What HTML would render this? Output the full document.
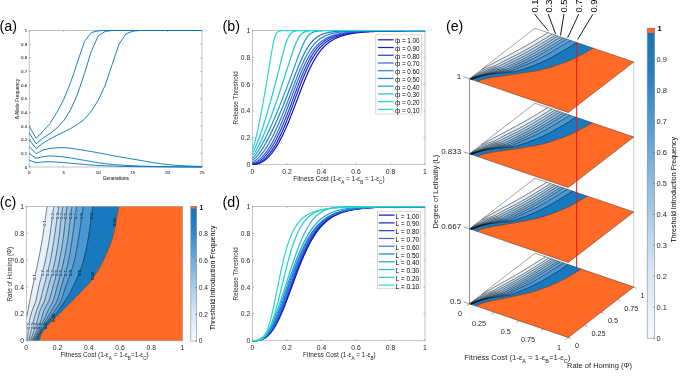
<!DOCTYPE html><html><head><meta charset="utf-8"><style>html,body{margin:0;padding:0;background:#fff;}svg{display:block;font-family:"Liberation Sans", sans-serif;will-change:transform;}</style></head><body>
<svg width="685" height="380" viewBox="0 0 685 380">
<rect width="685" height="380" fill="#fff"/>
<text x="-0.5" y="30.8" font-size="14.3" text-anchor="start" fill="#000">(a)</text>
<line x1="29.2" y1="167" x2="30.9" y2="167" stroke="#8c8c8c" stroke-width="0.6"/>
<line x1="202" y1="167" x2="200.3" y2="167" stroke="#8c8c8c" stroke-width="0.6"/>
<text x="27.2" y="168.5" font-size="4.4" text-anchor="end" fill="#262626" stroke="#444" stroke-width="0.08">0</text>
<line x1="29.2" y1="153.35" x2="30.9" y2="153.35" stroke="#8c8c8c" stroke-width="0.6"/>
<line x1="202" y1="153.35" x2="200.3" y2="153.35" stroke="#8c8c8c" stroke-width="0.6"/>
<text x="27.2" y="154.85" font-size="4.4" text-anchor="end" fill="#262626" stroke="#444" stroke-width="0.08">0.1</text>
<line x1="29.2" y1="139.7" x2="30.9" y2="139.7" stroke="#8c8c8c" stroke-width="0.6"/>
<line x1="202" y1="139.7" x2="200.3" y2="139.7" stroke="#8c8c8c" stroke-width="0.6"/>
<text x="27.2" y="141.2" font-size="4.4" text-anchor="end" fill="#262626" stroke="#444" stroke-width="0.08">0.2</text>
<line x1="29.2" y1="126.05" x2="30.9" y2="126.05" stroke="#8c8c8c" stroke-width="0.6"/>
<line x1="202" y1="126.05" x2="200.3" y2="126.05" stroke="#8c8c8c" stroke-width="0.6"/>
<text x="27.2" y="127.55" font-size="4.4" text-anchor="end" fill="#262626" stroke="#444" stroke-width="0.08">0.3</text>
<line x1="29.2" y1="112.4" x2="30.9" y2="112.4" stroke="#8c8c8c" stroke-width="0.6"/>
<line x1="202" y1="112.4" x2="200.3" y2="112.4" stroke="#8c8c8c" stroke-width="0.6"/>
<text x="27.2" y="113.9" font-size="4.4" text-anchor="end" fill="#262626" stroke="#444" stroke-width="0.08">0.4</text>
<line x1="29.2" y1="98.75" x2="30.9" y2="98.75" stroke="#8c8c8c" stroke-width="0.6"/>
<line x1="202" y1="98.75" x2="200.3" y2="98.75" stroke="#8c8c8c" stroke-width="0.6"/>
<text x="27.2" y="100.25" font-size="4.4" text-anchor="end" fill="#262626" stroke="#444" stroke-width="0.08">0.5</text>
<line x1="29.2" y1="85.1" x2="30.9" y2="85.1" stroke="#8c8c8c" stroke-width="0.6"/>
<line x1="202" y1="85.1" x2="200.3" y2="85.1" stroke="#8c8c8c" stroke-width="0.6"/>
<text x="27.2" y="86.6" font-size="4.4" text-anchor="end" fill="#262626" stroke="#444" stroke-width="0.08">0.6</text>
<line x1="29.2" y1="71.45" x2="30.9" y2="71.45" stroke="#8c8c8c" stroke-width="0.6"/>
<line x1="202" y1="71.45" x2="200.3" y2="71.45" stroke="#8c8c8c" stroke-width="0.6"/>
<text x="27.2" y="72.95" font-size="4.4" text-anchor="end" fill="#262626" stroke="#444" stroke-width="0.08">0.7</text>
<line x1="29.2" y1="57.8" x2="30.9" y2="57.8" stroke="#8c8c8c" stroke-width="0.6"/>
<line x1="202" y1="57.8" x2="200.3" y2="57.8" stroke="#8c8c8c" stroke-width="0.6"/>
<text x="27.2" y="59.3" font-size="4.4" text-anchor="end" fill="#262626" stroke="#444" stroke-width="0.08">0.8</text>
<line x1="29.2" y1="44.15" x2="30.9" y2="44.15" stroke="#8c8c8c" stroke-width="0.6"/>
<line x1="202" y1="44.15" x2="200.3" y2="44.15" stroke="#8c8c8c" stroke-width="0.6"/>
<text x="27.2" y="45.65" font-size="4.4" text-anchor="end" fill="#262626" stroke="#444" stroke-width="0.08">0.9</text>
<line x1="29.2" y1="30.5" x2="30.9" y2="30.5" stroke="#8c8c8c" stroke-width="0.6"/>
<line x1="202" y1="30.5" x2="200.3" y2="30.5" stroke="#8c8c8c" stroke-width="0.6"/>
<text x="27.2" y="32" font-size="4.4" text-anchor="end" fill="#262626" stroke="#444" stroke-width="0.08">1</text>
<line x1="29.2" y1="167" x2="29.2" y2="165.3" stroke="#8c8c8c" stroke-width="0.6"/>
<line x1="29.2" y1="30.5" x2="29.2" y2="32.2" stroke="#8c8c8c" stroke-width="0.6"/>
<text x="29.2" y="173.9" font-size="4.4" text-anchor="middle" fill="#262626" stroke="#444" stroke-width="0.08">0</text>
<line x1="63.76" y1="167" x2="63.76" y2="165.3" stroke="#8c8c8c" stroke-width="0.6"/>
<line x1="63.76" y1="30.5" x2="63.76" y2="32.2" stroke="#8c8c8c" stroke-width="0.6"/>
<text x="63.76" y="173.9" font-size="4.4" text-anchor="middle" fill="#262626" stroke="#444" stroke-width="0.08">5</text>
<line x1="98.32" y1="167" x2="98.32" y2="165.3" stroke="#8c8c8c" stroke-width="0.6"/>
<line x1="98.32" y1="30.5" x2="98.32" y2="32.2" stroke="#8c8c8c" stroke-width="0.6"/>
<text x="98.32" y="173.9" font-size="4.4" text-anchor="middle" fill="#262626" stroke="#444" stroke-width="0.08">10</text>
<line x1="132.88" y1="167" x2="132.88" y2="165.3" stroke="#8c8c8c" stroke-width="0.6"/>
<line x1="132.88" y1="30.5" x2="132.88" y2="32.2" stroke="#8c8c8c" stroke-width="0.6"/>
<text x="132.88" y="173.9" font-size="4.4" text-anchor="middle" fill="#262626" stroke="#444" stroke-width="0.08">15</text>
<line x1="167.44" y1="167" x2="167.44" y2="165.3" stroke="#8c8c8c" stroke-width="0.6"/>
<line x1="167.44" y1="30.5" x2="167.44" y2="32.2" stroke="#8c8c8c" stroke-width="0.6"/>
<text x="167.44" y="173.9" font-size="4.4" text-anchor="middle" fill="#262626" stroke="#444" stroke-width="0.08">20</text>
<line x1="202" y1="167" x2="202" y2="165.3" stroke="#8c8c8c" stroke-width="0.6"/>
<line x1="202" y1="30.5" x2="202" y2="32.2" stroke="#8c8c8c" stroke-width="0.6"/>
<text x="202" y="173.9" font-size="4.4" text-anchor="middle" fill="#262626" stroke="#444" stroke-width="0.08">25</text>
<rect x="29.2" y="30.5" width="172.8" height="136.5" fill="none" stroke="#9a9a9a" stroke-width="0.6"/>
<polyline points="29.2,126.05 36.11,138.34 43.02,131.24 49.94,123.59 56.85,112.4 63.76,99.43 70.67,82.37 77.58,61.89 84.5,41.42 91.41,32.55 98.32,30.77 105.23,30.5 112.14,30.5 202,30.5" fill="none" stroke="#0072BD" stroke-width="0.9" stroke-linejoin="round"/>
<polyline points="29.2,132.88 36.11,143.79 43.02,138.06 49.94,133.56 56.85,128.1 63.76,120.59 70.67,109.67 77.58,93.97 84.5,73.5 91.41,50.98 98.32,35.69 105.23,31.46 112.14,30.5 119.06,30.5 202,30.5" fill="none" stroke="#0072BD" stroke-width="0.9" stroke-linejoin="round"/>
<polyline points="29.2,139.7 36.11,148.57 43.02,143.11 49.94,139.02 56.85,135.33 63.76,132.06 70.67,128.51 77.58,124.41 84.5,119.22 91.41,111.03 98.32,100.11 105.23,85.1 112.14,64.62 119.06,44.15 125.97,33.91 132.88,31.18 139.79,30.5 146.7,30.5 202,30.5" fill="none" stroke="#0072BD" stroke-width="0.9" stroke-linejoin="round"/>
<polyline points="29.2,146.53 36.11,153.76 43.02,149.94 49.94,148.44 56.85,147.85 63.76,147.62 70.67,148.2 77.58,149.32 84.5,150.38 91.41,151.56 98.32,152.8 105.23,154.11 112.14,155.47 119.06,156.76 125.97,157.94 132.88,159.08 139.79,160.29 146.7,161.51 153.62,162.63 160.53,163.68 167.44,164.54 174.35,165.17 181.26,165.63 188.18,165.99 195.09,166.28 202,166.45" fill="none" stroke="#0072BD" stroke-width="0.9" stroke-linejoin="round"/>
<polyline points="29.2,153.35 36.11,158.4 43.02,156.63 49.94,155.94 56.85,156.31 63.76,157.04 70.67,157.95 77.58,159.13 84.5,160.37 91.41,161.58 98.32,162.79 105.23,163.67 112.14,164.38 119.06,164.95 125.97,165.41 132.88,165.77 139.79,166.04 146.7,166.27 153.62,166.45 160.53,166.62 167.44,166.73 174.35,166.79 181.26,166.85 188.18,166.89 195.09,166.92 202,166.93" fill="none" stroke="#0072BD" stroke-width="0.9" stroke-linejoin="round"/>
<polyline points="29.2,160.18 36.11,162.77 43.02,161.95 49.94,161.68 56.85,162.09 63.76,162.61 70.67,163.2 77.58,163.81 84.5,164.47 91.41,165.04 98.32,165.46 105.23,165.78 112.14,166.04 119.06,166.27 125.97,166.46 132.88,166.59 139.79,166.67 146.7,166.73 153.62,166.79 160.53,166.83 167.44,166.86 174.35,166.89 181.26,166.92 188.18,166.95 195.09,166.96 202,166.97" fill="none" stroke="#0072BD" stroke-width="0.9" stroke-linejoin="round"/>
<text x="115.85" y="180.4" font-size="4.8" text-anchor="middle" fill="#262626" stroke="#444" stroke-width="0.06">Generations</text>
<text x="18.9" y="99.05" font-size="4.87" text-anchor="middle" fill="#262626" transform="rotate(-90 18.9 99.05)" stroke="#444" stroke-width="0.06">A Allele Frequency</text>
<text x="222.5" y="30.8" font-size="14.3" text-anchor="start" fill="#000">(b)</text>
<line x1="252.5" y1="164.5" x2="254.2" y2="164.5" stroke="#8c8c8c" stroke-width="0.6"/>
<line x1="425" y1="164.5" x2="423.3" y2="164.5" stroke="#8c8c8c" stroke-width="0.6"/>
<text x="250.3" y="167" font-size="6.8" text-anchor="end" fill="#262626">0</text>
<line x1="252.5" y1="137.7" x2="254.2" y2="137.7" stroke="#8c8c8c" stroke-width="0.6"/>
<line x1="425" y1="137.7" x2="423.3" y2="137.7" stroke="#8c8c8c" stroke-width="0.6"/>
<text x="250.3" y="140.2" font-size="6.8" text-anchor="end" fill="#262626">0.2</text>
<line x1="252.5" y1="110.9" x2="254.2" y2="110.9" stroke="#8c8c8c" stroke-width="0.6"/>
<line x1="425" y1="110.9" x2="423.3" y2="110.9" stroke="#8c8c8c" stroke-width="0.6"/>
<text x="250.3" y="113.4" font-size="6.8" text-anchor="end" fill="#262626">0.4</text>
<line x1="252.5" y1="84.1" x2="254.2" y2="84.1" stroke="#8c8c8c" stroke-width="0.6"/>
<line x1="425" y1="84.1" x2="423.3" y2="84.1" stroke="#8c8c8c" stroke-width="0.6"/>
<text x="250.3" y="86.6" font-size="6.8" text-anchor="end" fill="#262626">0.6</text>
<line x1="252.5" y1="57.3" x2="254.2" y2="57.3" stroke="#8c8c8c" stroke-width="0.6"/>
<line x1="425" y1="57.3" x2="423.3" y2="57.3" stroke="#8c8c8c" stroke-width="0.6"/>
<text x="250.3" y="59.8" font-size="6.8" text-anchor="end" fill="#262626">0.8</text>
<line x1="252.5" y1="30.5" x2="254.2" y2="30.5" stroke="#8c8c8c" stroke-width="0.6"/>
<line x1="425" y1="30.5" x2="423.3" y2="30.5" stroke="#8c8c8c" stroke-width="0.6"/>
<text x="250.3" y="33" font-size="6.8" text-anchor="end" fill="#262626">1</text>
<line x1="252.5" y1="164.5" x2="252.5" y2="162.8" stroke="#8c8c8c" stroke-width="0.6"/>
<line x1="252.5" y1="30.5" x2="252.5" y2="32.2" stroke="#8c8c8c" stroke-width="0.6"/>
<text x="252.5" y="173.7" font-size="6.8" text-anchor="middle" fill="#262626">0</text>
<line x1="287" y1="164.5" x2="287" y2="162.8" stroke="#8c8c8c" stroke-width="0.6"/>
<line x1="287" y1="30.5" x2="287" y2="32.2" stroke="#8c8c8c" stroke-width="0.6"/>
<text x="287" y="173.7" font-size="6.8" text-anchor="middle" fill="#262626">0.2</text>
<line x1="321.5" y1="164.5" x2="321.5" y2="162.8" stroke="#8c8c8c" stroke-width="0.6"/>
<line x1="321.5" y1="30.5" x2="321.5" y2="32.2" stroke="#8c8c8c" stroke-width="0.6"/>
<text x="321.5" y="173.7" font-size="6.8" text-anchor="middle" fill="#262626">0.4</text>
<line x1="356" y1="164.5" x2="356" y2="162.8" stroke="#8c8c8c" stroke-width="0.6"/>
<line x1="356" y1="30.5" x2="356" y2="32.2" stroke="#8c8c8c" stroke-width="0.6"/>
<text x="356" y="173.7" font-size="6.8" text-anchor="middle" fill="#262626">0.6</text>
<line x1="390.5" y1="164.5" x2="390.5" y2="162.8" stroke="#8c8c8c" stroke-width="0.6"/>
<line x1="390.5" y1="30.5" x2="390.5" y2="32.2" stroke="#8c8c8c" stroke-width="0.6"/>
<text x="390.5" y="173.7" font-size="6.8" text-anchor="middle" fill="#262626">0.8</text>
<line x1="425" y1="164.5" x2="425" y2="162.8" stroke="#8c8c8c" stroke-width="0.6"/>
<line x1="425" y1="30.5" x2="425" y2="32.2" stroke="#8c8c8c" stroke-width="0.6"/>
<text x="425" y="173.7" font-size="6.8" text-anchor="middle" fill="#262626">1</text>
<rect x="252.5" y="30.5" width="172.5" height="134" fill="none" stroke="#9a9a9a" stroke-width="0.6"/>
<polyline points="252.5,164.5 252.93,164.5 253.36,164.49 253.79,164.47 254.22,164.44 254.66,164.4 255.09,164.35 255.52,164.29 255.95,164.22 256.38,164.14 256.81,164.05 257.24,163.94 257.68,163.83 258.11,163.7 258.54,163.57 258.97,163.42 259.4,163.26 259.83,163.08 260.26,162.9 260.69,162.7 261.12,162.49 261.56,162.27 261.99,162.04 262.42,161.79 262.85,161.53 263.28,161.26 263.71,160.97 264.14,160.67 264.57,160.36 265.01,160.04 265.44,159.7 265.87,159.35 266.3,158.99 266.73,158.61 267.16,158.22 267.59,157.82 268.02,157.4 268.46,156.97 268.89,156.53 269.32,156.07 269.75,155.6 270.18,155.11 270.61,154.61 271.04,154.1 271.48,153.58 271.91,153.04 272.34,152.48 272.77,151.91 273.2,151.33 273.63,150.74 274.06,150.13 274.49,149.51 274.93,148.87 275.36,148.22 275.79,147.56 276.22,146.88 276.65,146.18 277.08,145.48 277.51,144.76 277.94,144.03 278.38,143.28 278.81,142.52 279.24,141.74 279.67,140.95 280.1,140.15 280.53,139.34 280.96,138.51 281.39,137.67 281.82,136.81 282.26,135.95 282.69,135.06 283.12,134.17 283.55,133.27 283.98,132.35 284.41,131.42 284.84,130.47 285.27,129.52 285.71,128.55 286.14,127.58 286.57,126.59 287,125.59 287.43,124.58 287.86,123.56 288.29,122.53 288.73,121.49 289.16,120.44 289.59,119.38 290.02,118.31 290.45,117.24 290.88,116.15 291.31,115.06 291.74,113.96 292.18,112.86 292.61,111.75 293.04,110.63 293.47,109.51 293.9,108.38 294.33,107.25 294.76,106.12 295.19,104.98 295.62,103.84 296.06,102.7 296.49,101.55 296.92,100.41 297.35,99.26 297.78,98.12 298.21,96.97 298.64,95.83 299.07,94.69 299.51,93.55 299.94,92.42 300.37,91.29 300.8,90.16 301.23,89.04 301.66,87.93 302.09,86.82 302.52,85.72 302.96,84.62 303.39,83.53 303.82,82.46 304.25,81.39 304.68,80.33 305.11,79.28 305.54,78.24 305.98,77.21 306.41,76.19 306.84,75.19 307.27,74.19 307.7,73.21 308.13,72.25 308.56,71.29 308.99,70.35 309.43,69.42 309.86,68.51 310.29,67.61 310.72,66.73 311.15,65.86 311.58,65 312.01,64.16 312.44,63.34 312.88,62.53 313.31,61.73 313.74,60.95 314.17,60.19 314.6,59.44 315.03,58.71 315.46,57.99 315.89,57.29 316.32,56.6 316.76,55.93 317.19,55.27 317.62,54.62 318.05,54 318.48,53.38 318.91,52.78 319.34,52.2 319.77,51.63 320.21,51.07 320.64,50.52 321.07,49.99 321.5,49.47 321.93,48.97 322.36,48.48 322.79,48 323.23,47.53 323.66,47.08 324.09,46.64 324.52,46.2 324.95,45.78 325.38,45.38 325.81,44.98 326.24,44.59 326.68,44.21 327.11,43.85 327.54,43.49 327.97,43.14 328.4,42.81 328.83,42.48 329.26,42.16 329.69,41.85 330.12,41.55 330.56,41.26 330.99,40.97 331.42,40.69 331.85,40.42 332.28,40.16 332.71,39.91 333.14,39.66 333.57,39.42 334.01,39.19 334.44,38.96 334.87,38.74 335.3,38.52 335.73,38.32 336.16,38.11 336.59,37.92 337.02,37.73 337.46,37.54 337.89,37.36 338.32,37.18 338.75,37.01 339.18,36.85 339.61,36.69 340.04,36.53 340.48,36.38 340.91,36.23 341.34,36.08 341.77,35.94 342.2,35.81 342.63,35.68 343.06,35.55 343.49,35.42 343.93,35.3 344.36,35.18 344.79,35.07 345.22,34.96 345.65,34.85 346.08,34.74 346.51,34.64 346.94,34.54 347.38,34.44 347.81,34.35 348.24,34.26 348.67,34.17 349.1,34.08 349.53,33.99 349.96,33.91 350.39,33.83 350.83,33.75 351.26,33.68 351.69,33.6 352.12,33.53 352.55,33.46 352.98,33.39 353.41,33.33 353.84,33.26 354.27,33.2 354.71,33.14 355.14,33.08 355.57,33.02 356,32.96 356.43,32.91 356.86,32.85 357.29,32.8 357.73,32.75 358.16,32.7 358.59,32.65 359.02,32.6 359.45,32.56 359.88,32.51 360.31,32.47 360.74,32.42 361.18,32.38 361.61,32.34 362.04,32.3 362.47,32.26 362.9,32.23 363.33,32.19 363.76,32.15 364.19,32.12 364.62,32.08 365.06,32.05 365.49,32.02 365.92,31.99 366.35,31.96 366.78,31.93 367.21,31.9 367.64,31.87 368.07,31.84 368.51,31.81 368.94,31.79 369.37,31.76 369.8,31.73 370.23,31.71 370.66,31.68 371.09,31.66 371.52,31.64 371.96,31.61 372.39,31.59 372.82,31.57 373.25,31.55 374.98,31.47 380.53,31.26 386.09,31.1 391.65,30.97 397.21,30.88 402.77,30.81 408.32,30.75 413.88,30.71 419.44,30.67 425,30.64" fill="none" stroke="#0f0faf" stroke-width="1.2"/>
<polyline points="252.5,164.1 252.93,164.09 253.36,164.08 253.79,164.05 254.22,164 254.66,163.95 255.09,163.88 255.52,163.8 255.95,163.7 256.38,163.6 256.81,163.48 257.24,163.34 257.68,163.19 258.11,163.03 258.54,162.86 258.97,162.67 259.4,162.46 259.83,162.25 260.26,162.02 260.69,161.77 261.12,161.51 261.56,161.24 261.99,160.95 262.42,160.65 262.85,160.34 263.28,160.01 263.71,159.66 264.14,159.31 264.57,158.93 265.01,158.55 265.44,158.15 265.87,157.73 266.3,157.31 266.73,156.86 267.16,156.4 267.59,155.93 268.02,155.45 268.46,154.94 268.89,154.43 269.32,153.9 269.75,153.36 270.18,152.8 270.61,152.22 271.04,151.64 271.48,151.04 271.91,150.42 272.34,149.79 272.77,149.14 273.2,148.48 273.63,147.81 274.06,147.12 274.49,146.42 274.93,145.7 275.36,144.97 275.79,144.23 276.22,143.47 276.65,142.69 277.08,141.91 277.51,141.11 277.94,140.29 278.38,139.46 278.81,138.62 279.24,137.76 279.67,136.89 280.1,136.01 280.53,135.12 280.96,134.21 281.39,133.29 281.82,132.35 282.26,131.4 282.69,130.44 283.12,129.47 283.55,128.49 283.98,127.5 284.41,126.49 284.84,125.47 285.27,124.44 285.71,123.4 286.14,122.35 286.57,121.29 287,120.23 287.43,119.15 287.86,118.06 288.29,116.97 288.73,115.86 289.16,114.75 289.59,113.63 290.02,112.51 290.45,111.37 290.88,110.24 291.31,109.09 291.74,107.95 292.18,106.79 292.61,105.64 293.04,104.48 293.47,103.32 293.9,102.15 294.33,100.99 294.76,99.82 295.19,98.65 295.62,97.49 296.06,96.32 296.49,95.16 296.92,94 297.35,92.84 297.78,91.69 298.21,90.54 298.64,89.39 299.07,88.25 299.51,87.12 299.94,85.99 300.37,84.87 300.8,83.76 301.23,82.65 301.66,81.56 302.09,80.47 302.52,79.4 302.96,78.33 303.39,77.28 303.82,76.24 304.25,75.21 304.68,74.19 305.11,73.19 305.54,72.19 305.98,71.22 306.41,70.25 306.84,69.3 307.27,68.37 307.7,67.45 308.13,66.54 308.56,65.65 308.99,64.78 309.43,63.92 309.86,63.08 310.29,62.25 310.72,61.44 311.15,60.64 311.58,59.86 312.01,59.1 312.44,58.35 312.88,57.62 313.31,56.91 313.74,56.21 314.17,55.52 314.6,54.85 315.03,54.2 315.46,53.56 315.89,52.94 316.32,52.33 316.76,51.74 317.19,51.16 317.62,50.6 318.05,50.05 318.48,49.51 318.91,48.99 319.34,48.48 319.77,47.99 320.21,47.51 320.64,47.04 321.07,46.58 321.5,46.14 321.93,45.71 322.36,45.29 322.79,44.88 323.23,44.48 323.66,44.09 324.09,43.72 324.52,43.35 324.95,43 325.38,42.65 325.81,42.32 326.24,41.99 326.68,41.68 327.11,41.37 327.54,41.07 327.97,40.78 328.4,40.5 328.83,40.23 329.26,39.96 329.69,39.71 330.12,39.46 330.56,39.21 330.99,38.98 331.42,38.75 331.85,38.53 332.28,38.31 332.71,38.1 333.14,37.9 333.57,37.7 334.01,37.51 334.44,37.32 334.87,37.14 335.3,36.97 335.73,36.8 336.16,36.63 336.59,36.47 337.02,36.31 337.46,36.16 337.89,36.02 338.32,35.87 338.75,35.73 339.18,35.6 339.61,35.47 340.04,35.34 340.48,35.22 340.91,35.1 341.34,34.98 341.77,34.87 342.2,34.76 342.63,34.65 343.06,34.55 343.49,34.44 343.93,34.35 344.36,34.25 344.79,34.16 345.22,34.07 345.65,33.98 346.08,33.9 346.51,33.81 346.94,33.73 347.38,33.65 347.81,33.58 348.24,33.5 348.67,33.43 349.1,33.36 349.53,33.29 349.96,33.23 350.39,33.16 350.83,33.1 351.26,33.04 351.69,32.98 352.12,32.92 352.55,32.87 352.98,32.81 353.41,32.76 353.84,32.71 354.27,32.65 354.71,32.61 355.14,32.56 355.57,32.51 356,32.47 356.43,32.42 356.86,32.38 357.29,32.34 357.73,32.3 358.16,32.26 358.59,32.22 359.02,32.18 359.45,32.14 359.88,32.11 360.31,32.07 360.74,32.04 361.18,32 361.61,31.97 362.04,31.94 362.47,31.91 362.9,31.88 363.33,31.85 363.76,31.82 364.19,31.79 364.62,31.77 365.06,31.74 365.49,31.71 365.92,31.69 366.35,31.66 366.78,31.64 367.21,31.61 367.64,31.59 368.07,31.57 368.51,31.55 368.94,31.53 369.37,31.51 369.8,31.49 370.23,31.47 370.66,31.45 371.09,31.43 371.52,31.41 371.96,31.39 372.39,31.37 372.82,31.36 373.25,31.34 374.98,31.27 380.53,31.1 386.09,30.98 391.65,30.88 397.21,30.8 402.77,30.75 408.32,30.7 413.88,30.67 419.44,30.64 425,30.61" fill="none" stroke="#1423c8" stroke-width="1.2"/>
<polyline points="252.5,163.43 252.93,163.42 253.36,163.38 253.79,163.33 254.22,163.26 254.66,163.17 255.09,163.06 255.52,162.94 255.95,162.8 256.38,162.64 256.81,162.46 257.24,162.27 257.68,162.07 258.11,161.84 258.54,161.61 258.97,161.35 259.4,161.08 259.83,160.8 260.26,160.5 260.69,160.18 261.12,159.85 261.56,159.51 261.99,159.15 262.42,158.77 262.85,158.38 263.28,157.97 263.71,157.55 264.14,157.12 264.57,156.67 265.01,156.21 265.44,155.73 265.87,155.24 266.3,154.73 266.73,154.21 267.16,153.67 267.59,153.12 268.02,152.56 268.46,151.98 268.89,151.39 269.32,150.79 269.75,150.17 270.18,149.53 270.61,148.89 271.04,148.22 271.48,147.55 271.91,146.86 272.34,146.16 272.77,145.44 273.2,144.72 273.63,143.97 274.06,143.22 274.49,142.45 274.93,141.67 275.36,140.87 275.79,140.07 276.22,139.24 276.65,138.41 277.08,137.56 277.51,136.71 277.94,135.83 278.38,134.95 278.81,134.05 279.24,133.15 279.67,132.23 280.1,131.29 280.53,130.35 280.96,129.39 281.39,128.43 281.82,127.45 282.26,126.46 282.69,125.46 283.12,124.45 283.55,123.43 283.98,122.4 284.41,121.36 284.84,120.31 285.27,119.26 285.71,118.19 286.14,117.11 286.57,116.03 287,114.94 287.43,113.84 287.86,112.73 288.29,111.62 288.73,110.5 289.16,109.37 289.59,108.24 290.02,107.1 290.45,105.96 290.88,104.82 291.31,103.67 291.74,102.52 292.18,101.36 292.61,100.21 293.04,99.05 293.47,97.89 293.9,96.73 294.33,95.57 294.76,94.41 295.19,93.26 295.62,92.1 296.06,90.95 296.49,89.8 296.92,88.66 297.35,87.52 297.78,86.39 298.21,85.26 298.64,84.13 299.07,83.02 299.51,81.91 299.94,80.81 300.37,79.72 300.8,78.64 301.23,77.57 301.66,76.51 302.09,75.46 302.52,74.42 302.96,73.39 303.39,72.38 303.82,71.38 304.25,70.39 304.68,69.42 305.11,68.46 305.54,67.51 305.98,66.58 306.41,65.66 306.84,64.76 307.27,63.88 307.7,63.01 308.13,62.15 308.56,61.32 308.99,60.49 309.43,59.69 309.86,58.9 310.29,58.13 310.72,57.37 311.15,56.63 311.58,55.91 312.01,55.2 312.44,54.51 312.88,53.84 313.31,53.18 313.74,52.54 314.17,51.91 314.6,51.3 315.03,50.7 315.46,50.12 315.89,49.55 316.32,49 316.76,48.47 317.19,47.95 317.62,47.44 318.05,46.95 318.48,46.47 318.91,46 319.34,45.54 319.77,45.1 320.21,44.68 320.64,44.26 321.07,43.86 321.5,43.46 321.93,43.08 322.36,42.71 322.79,42.36 323.23,42.01 323.66,41.67 324.09,41.34 324.52,41.03 324.95,40.72 325.38,40.42 325.81,40.13 326.24,39.85 326.68,39.58 327.11,39.31 327.54,39.06 327.97,38.81 328.4,38.57 328.83,38.33 329.26,38.11 329.69,37.89 330.12,37.68 330.56,37.47 330.99,37.27 331.42,37.08 331.85,36.89 332.28,36.71 332.71,36.54 333.14,36.36 333.57,36.2 334.01,36.04 334.44,35.88 334.87,35.73 335.3,35.59 335.73,35.45 336.16,35.31 336.59,35.18 337.02,35.05 337.46,34.92 337.89,34.8 338.32,34.69 338.75,34.57 339.18,34.46 339.61,34.35 340.04,34.25 340.48,34.15 340.91,34.05 341.34,33.96 341.77,33.87 342.2,33.78 342.63,33.69 343.06,33.61 343.49,33.53 343.93,33.45 344.36,33.37 344.79,33.3 345.22,33.22 345.65,33.15 346.08,33.08 346.51,33.02 346.94,32.95 347.38,32.89 347.81,32.83 348.24,32.77 348.67,32.72 349.1,32.66 349.53,32.61 349.96,32.55 350.39,32.5 350.83,32.45 351.26,32.41 351.69,32.36 352.12,32.31 352.55,32.27 352.98,32.23 353.41,32.18 353.84,32.14 354.27,32.1 354.71,32.07 355.14,32.03 355.57,31.99 356,31.96 356.43,31.92 356.86,31.89 357.29,31.86 357.73,31.83 358.16,31.79 358.59,31.76 359.02,31.74 359.45,31.71 359.88,31.68 360.31,31.65 360.74,31.63 361.18,31.6 361.61,31.58 362.04,31.55 362.47,31.53 362.9,31.51 363.33,31.48 363.76,31.46 364.19,31.44 364.62,31.42 365.06,31.4 365.49,31.38 365.92,31.36 366.35,31.34 366.78,31.32 367.21,31.31 367.64,31.29 368.07,31.27 368.51,31.26 368.94,31.24 369.37,31.22 369.8,31.21 370.23,31.19 370.66,31.18 371.09,31.16 371.52,31.15 371.96,31.14 372.39,31.12 372.82,31.11 373.25,31.1 374.98,31.05 380.53,30.93 386.09,30.83 391.65,30.76 397.21,30.71 402.77,30.67 408.32,30.64 413.88,30.61 419.44,30.59 425,30.57" fill="none" stroke="#1e3cd2" stroke-width="1.2"/>
<polyline points="252.5,162.62 252.93,162.6 253.36,162.55 253.79,162.47 254.22,162.36 254.66,162.23 255.09,162.08 255.52,161.91 255.95,161.72 256.38,161.51 256.81,161.28 257.24,161.03 257.68,160.76 258.11,160.47 258.54,160.17 258.97,159.85 259.4,159.51 259.83,159.16 260.26,158.79 260.69,158.4 261.12,158 261.56,157.58 261.99,157.15 262.42,156.7 262.85,156.23 263.28,155.75 263.71,155.26 264.14,154.74 264.57,154.22 265.01,153.68 265.44,153.12 265.87,152.55 266.3,151.97 266.73,151.37 267.16,150.76 267.59,150.13 268.02,149.49 268.46,148.83 268.89,148.17 269.32,147.48 269.75,146.79 270.18,146.08 270.61,145.35 271.04,144.62 271.48,143.87 271.91,143.1 272.34,142.33 272.77,141.54 273.2,140.74 273.63,139.92 274.06,139.1 274.49,138.26 274.93,137.41 275.36,136.54 275.79,135.67 276.22,134.78 276.65,133.88 277.08,132.97 277.51,132.04 277.94,131.11 278.38,130.16 278.81,129.2 279.24,128.23 279.67,127.26 280.1,126.27 280.53,125.27 280.96,124.26 281.39,123.24 281.82,122.21 282.26,121.17 282.69,120.12 283.12,119.06 283.55,118 283.98,116.92 284.41,115.84 284.84,114.75 285.27,113.65 285.71,112.55 286.14,111.44 286.57,110.32 287,109.2 287.43,108.07 287.86,106.93 288.29,105.8 288.73,104.65 289.16,103.51 289.59,102.36 290.02,101.21 290.45,100.05 290.88,98.9 291.31,97.74 291.74,96.58 292.18,95.43 292.61,94.27 293.04,93.12 293.47,91.96 293.9,90.81 294.33,89.66 294.76,88.52 295.19,87.38 295.62,86.25 296.06,85.12 296.49,83.99 296.92,82.88 297.35,81.77 297.78,80.67 298.21,79.57 298.64,78.49 299.07,77.41 299.51,76.35 299.94,75.3 300.37,74.25 300.8,73.22 301.23,72.2 301.66,71.2 302.09,70.21 302.52,69.23 302.96,68.26 303.39,67.31 303.82,66.38 304.25,65.45 304.68,64.55 305.11,63.66 305.54,62.78 305.98,61.92 306.41,61.08 306.84,60.25 307.27,59.44 307.7,58.65 308.13,57.87 308.56,57.11 308.99,56.37 309.43,55.64 309.86,54.93 310.29,54.23 310.72,53.55 311.15,52.89 311.58,52.25 312.01,51.62 312.44,51 312.88,50.4 313.31,49.82 313.74,49.25 314.17,48.7 314.6,48.16 315.03,47.64 315.46,47.13 315.89,46.64 316.32,46.16 316.76,45.69 317.19,45.24 317.62,44.8 318.05,44.37 318.48,43.95 318.91,43.55 319.34,43.16 319.77,42.78 320.21,42.41 320.64,42.05 321.07,41.71 321.5,41.37 321.93,41.05 322.36,40.73 322.79,40.42 323.23,40.13 323.66,39.84 324.09,39.56 324.52,39.29 324.95,39.03 325.38,38.78 325.81,38.53 326.24,38.3 326.68,38.07 327.11,37.84 327.54,37.63 327.97,37.42 328.4,37.22 328.83,37.02 329.26,36.83 329.69,36.65 330.12,36.47 330.56,36.3 330.99,36.13 331.42,35.97 331.85,35.81 332.28,35.66 332.71,35.51 333.14,35.37 333.57,35.23 334.01,35.1 334.44,34.97 334.87,34.84 335.3,34.72 335.73,34.6 336.16,34.49 336.59,34.38 337.02,34.27 337.46,34.17 337.89,34.07 338.32,33.97 338.75,33.88 339.18,33.78 339.61,33.7 340.04,33.61 340.48,33.53 340.91,33.44 341.34,33.37 341.77,33.29 342.2,33.22 342.63,33.14 343.06,33.07 343.49,33.01 343.93,32.94 344.36,32.88 344.79,32.82 345.22,32.76 345.65,32.7 346.08,32.64 346.51,32.59 346.94,32.53 347.38,32.48 347.81,32.43 348.24,32.38 348.67,32.34 349.1,32.29 349.53,32.25 349.96,32.2 350.39,32.16 350.83,32.12 351.26,32.08 351.69,32.04 352.12,32 352.55,31.97 352.98,31.93 353.41,31.9 353.84,31.86 354.27,31.83 354.71,31.8 355.14,31.77 355.57,31.74 356,31.71 356.43,31.68 356.86,31.65 357.29,31.63 357.73,31.6 358.16,31.57 358.59,31.55 359.02,31.53 359.45,31.5 359.88,31.48 360.31,31.46 360.74,31.44 361.18,31.41 361.61,31.39 362.04,31.37 362.47,31.35 362.9,31.34 363.33,31.32 363.76,31.3 364.19,31.28 364.62,31.26 365.06,31.25 365.49,31.23 365.92,31.22 366.35,31.2 366.78,31.18 367.21,31.17 367.64,31.16 368.07,31.14 368.51,31.13 368.94,31.11 369.37,31.1 369.8,31.09 370.23,31.08 370.66,31.06 371.09,31.05 371.52,31.04 371.96,31.03 372.39,31.02 372.82,31.01 373.25,31 374.98,30.96 380.53,30.85 386.09,30.78 391.65,30.72 397.21,30.67 402.77,30.64 408.32,30.61 413.88,30.59 419.44,30.58 425,30.56" fill="none" stroke="#3764d7" stroke-width="1.2"/>
<polyline points="252.5,161.42 252.93,161.36 253.36,161.24 253.79,161.09 254.22,160.9 254.66,160.68 255.09,160.44 255.52,160.17 255.95,159.87 256.38,159.56 256.81,159.22 257.24,158.86 257.68,158.49 258.11,158.09 258.54,157.68 258.97,157.25 259.4,156.8 259.83,156.34 260.26,155.86 260.69,155.36 261.12,154.85 261.56,154.33 261.99,153.78 262.42,153.23 262.85,152.66 263.28,152.08 263.71,151.48 264.14,150.87 264.57,150.25 265.01,149.61 265.44,148.96 265.87,148.3 266.3,147.63 266.73,146.94 267.16,146.24 267.59,145.53 268.02,144.81 268.46,144.07 268.89,143.33 269.32,142.57 269.75,141.8 270.18,141.02 270.61,140.23 271.04,139.43 271.48,138.62 271.91,137.79 272.34,136.96 272.77,136.11 273.2,135.26 273.63,134.39 274.06,133.52 274.49,132.64 274.93,131.74 275.36,130.84 275.79,129.92 276.22,129 276.65,128.06 277.08,127.12 277.51,126.17 277.94,125.21 278.38,124.24 278.81,123.26 279.24,122.27 279.67,121.28 280.1,120.27 280.53,119.26 280.96,118.24 281.39,117.21 281.82,116.18 282.26,115.13 282.69,114.08 283.12,113.02 283.55,111.96 283.98,110.89 284.41,109.81 284.84,108.72 285.27,107.63 285.71,106.54 286.14,105.44 286.57,104.33 287,103.22 287.43,102.1 287.86,100.98 288.29,99.86 288.73,98.73 289.16,97.6 289.59,96.46 290.02,95.33 290.45,94.19 290.88,93.05 291.31,91.91 291.74,90.77 292.18,89.63 292.61,88.49 293.04,87.35 293.47,86.21 293.9,85.08 294.33,83.95 294.76,82.82 295.19,81.69 295.62,80.57 296.06,79.46 296.49,78.35 296.92,77.25 297.35,76.15 297.78,75.07 298.21,73.99 298.64,72.92 299.07,71.86 299.51,70.81 299.94,69.77 300.37,68.74 300.8,67.72 301.23,66.72 301.66,65.73 302.09,64.75 302.52,63.79 302.96,62.84 303.39,61.91 303.82,61 304.25,60.09 304.68,59.21 305.11,58.34 305.54,57.49 305.98,56.66 306.41,55.84 306.84,55.04 307.27,54.26 307.7,53.5 308.13,52.76 308.56,52.03 308.99,51.32 309.43,50.63 309.86,49.96 310.29,49.31 310.72,48.67 311.15,48.05 311.58,47.45 312.01,46.87 312.44,46.3 312.88,45.75 313.31,45.22 313.74,44.7 314.17,44.21 314.6,43.72 315.03,43.25 315.46,42.8 315.89,42.36 316.32,41.94 316.76,41.53 317.19,41.14 317.62,40.75 318.05,40.39 318.48,40.03 318.91,39.69 319.34,39.36 319.77,39.04 320.21,38.73 320.64,38.44 321.07,38.15 321.5,37.87 321.93,37.61 322.36,37.35 322.79,37.11 323.23,36.87 323.66,36.64 324.09,36.42 324.52,36.21 324.95,36.01 325.38,35.81 325.81,35.62 326.24,35.44 326.68,35.27 327.11,35.1 327.54,34.94 327.97,34.78 328.4,34.63 328.83,34.49 329.26,34.35 329.69,34.21 330.12,34.09 330.56,33.96 330.99,33.84 331.42,33.73 331.85,33.62 332.28,33.51 332.71,33.41 333.14,33.31 333.57,33.21 334.01,33.12 334.44,33.03 334.87,32.95 335.3,32.87 335.73,32.79 336.16,32.71 336.59,32.64 337.02,32.57 337.46,32.5 337.89,32.44 338.32,32.37 338.75,32.31 339.18,32.26 339.61,32.2 340.04,32.14 340.48,32.09 340.91,32.04 341.34,31.99 341.77,31.95 342.2,31.9 342.63,31.86 343.06,31.81 343.49,31.77 343.93,31.73 344.36,31.7 344.79,31.66 345.22,31.62 345.65,31.59 346.08,31.56 346.51,31.52 346.94,31.49 347.38,31.46 347.81,31.43 348.24,31.41 348.67,31.38 349.1,31.35 349.53,31.33 349.96,31.3 350.39,31.28 350.83,31.26 351.26,31.24 351.69,31.22 352.12,31.19 352.55,31.17 352.98,31.16 353.41,31.14 353.84,31.12 354.27,31.1 354.71,31.08 355.14,31.07 355.57,31.05 356,31.04 356.43,31.02 356.86,31.01 357.29,30.99 357.73,30.98 358.16,30.97 358.59,30.95 359.02,30.94 359.45,30.93 359.88,30.92 360.31,30.91 360.74,30.9 361.18,30.89 361.61,30.88 362.04,30.87 362.47,30.86 362.9,30.85 363.33,30.84 363.76,30.83 364.19,30.82 364.62,30.81 365.06,30.8 365.49,30.8 365.92,30.79 366.35,30.78 366.78,30.77 367.21,30.77 367.64,30.76 368.07,30.75 368.51,30.75 368.94,30.74 369.37,30.74 369.8,30.73 370.23,30.72 370.66,30.72 371.09,30.71 371.52,30.71 371.96,30.7 372.39,30.7 372.82,30.69 373.25,30.69 374.98,30.67 380.53,30.63 386.09,30.59 391.65,30.57 397.21,30.56 402.77,30.54 408.32,30.53 413.88,30.53 419.44,30.52 425,30.52" fill="none" stroke="#3278d7" stroke-width="1.2"/>
<polyline points="252.5,159.81 252.93,159.68 253.36,159.46 253.79,159.19 254.22,158.88 254.66,158.53 255.09,158.16 255.52,157.75 255.95,157.33 256.38,156.88 256.81,156.41 257.24,155.92 257.68,155.41 258.11,154.88 258.54,154.34 258.97,153.78 259.4,153.21 259.83,152.62 260.26,152.01 260.69,151.39 261.12,150.76 261.56,150.11 261.99,149.46 262.42,148.79 262.85,148.1 263.28,147.41 263.71,146.7 264.14,145.98 264.57,145.26 265.01,144.52 265.44,143.77 265.87,143.01 266.3,142.24 266.73,141.45 267.16,140.66 267.59,139.86 268.02,139.06 268.46,138.24 268.89,137.41 269.32,136.57 269.75,135.73 270.18,134.87 270.61,134.01 271.04,133.14 271.48,132.26 271.91,131.37 272.34,130.47 272.77,129.57 273.2,128.66 273.63,127.74 274.06,126.81 274.49,125.87 274.93,124.93 275.36,123.98 275.79,123.02 276.22,122.06 276.65,121.09 277.08,120.11 277.51,119.12 277.94,118.13 278.38,117.13 278.81,116.12 279.24,115.11 279.67,114.09 280.1,113.07 280.53,112.03 280.96,111 281.39,109.95 281.82,108.9 282.26,107.85 282.69,106.79 283.12,105.72 283.55,104.65 283.98,103.58 284.41,102.49 284.84,101.41 285.27,100.32 285.71,99.22 286.14,98.12 286.57,97.02 287,95.91 287.43,94.8 287.86,93.69 288.29,92.58 288.73,91.46 289.16,90.34 289.59,89.21 290.02,88.09 290.45,86.96 290.88,85.84 291.31,84.71 291.74,83.58 292.18,82.46 292.61,81.33 293.04,80.21 293.47,79.09 293.9,77.97 294.33,76.85 294.76,75.74 295.19,74.63 295.62,73.53 296.06,72.43 296.49,71.34 296.92,70.26 297.35,69.18 297.78,68.12 298.21,67.06 298.64,66.01 299.07,64.97 299.51,63.95 299.94,62.93 300.37,61.93 300.8,60.94 301.23,59.97 301.66,59.01 302.09,58.07 302.52,57.14 302.96,56.23 303.39,55.34 303.82,54.46 304.25,53.61 304.68,52.77 305.11,51.95 305.54,51.15 305.98,50.37 306.41,49.61 306.84,48.87 307.27,48.15 307.7,47.45 308.13,46.78 308.56,46.12 308.99,45.48 309.43,44.87 309.86,44.27 310.29,43.7 310.72,43.14 311.15,42.61 311.58,42.09 312.01,41.59 312.44,41.11 312.88,40.65 313.31,40.21 313.74,39.79 314.17,39.38 314.6,38.99 315.03,38.61 315.46,38.25 315.89,37.91 316.32,37.58 316.76,37.26 317.19,36.96 317.62,36.67 318.05,36.39 318.48,36.13 318.91,35.88 319.34,35.64 319.77,35.41 320.21,35.19 320.64,34.98 321.07,34.78 321.5,34.58 321.93,34.4 322.36,34.23 322.79,34.06 323.23,33.9 323.66,33.75 324.09,33.61 324.52,33.47 324.95,33.34 325.38,33.22 325.81,33.1 326.24,32.98 326.68,32.88 327.11,32.77 327.54,32.68 327.97,32.58 328.4,32.49 328.83,32.41 329.26,32.33 329.69,32.25 330.12,32.17 330.56,32.1 330.99,32.04 331.42,31.97 331.85,31.91 332.28,31.85 332.71,31.79 333.14,31.74 333.57,31.69 334.01,31.64 334.44,31.59 334.87,31.55 335.3,31.51 335.73,31.47 336.16,31.43 336.59,31.39 337.02,31.36 337.46,31.32 337.89,31.29 338.32,31.26 338.75,31.23 339.18,31.2 339.61,31.17 340.04,31.15 340.48,31.12 340.91,31.1 341.34,31.08 341.77,31.05 342.2,31.03 342.63,31.01 343.06,30.99 343.49,30.97 343.93,30.96 344.36,30.94 344.79,30.92 345.22,30.91 345.65,30.89 346.08,30.88 346.51,30.86 346.94,30.85 347.38,30.84 347.81,30.83 348.24,30.82 348.67,30.8 349.1,30.79 349.53,30.78 349.96,30.77 350.39,30.76 350.83,30.75 351.26,30.75 351.69,30.74 352.12,30.73 352.55,30.72 352.98,30.71 353.41,30.71 353.84,30.7 354.27,30.69 354.71,30.69 355.14,30.68 355.57,30.67 356,30.67 356.43,30.66 356.86,30.66 357.29,30.65 357.73,30.65 358.16,30.64 358.59,30.64 359.02,30.63 359.45,30.63 359.88,30.62 360.31,30.62 360.74,30.62 361.18,30.61 361.61,30.61 362.04,30.61 362.47,30.6 362.9,30.6 363.33,30.6 363.76,30.59 364.19,30.59 364.62,30.59 365.06,30.59 365.49,30.58 365.92,30.58 366.35,30.58 366.78,30.58 367.21,30.57 367.64,30.57 368.07,30.57 368.51,30.57 368.94,30.56 369.37,30.56 369.8,30.56 370.23,30.56 370.66,30.56 371.09,30.56 371.52,30.55 371.96,30.55 372.39,30.55 372.82,30.55 373.25,30.55 374.98,30.54 380.53,30.53 386.09,30.52 391.65,30.52 397.21,30.51 402.77,30.51 408.32,30.51 413.88,30.5 419.44,30.5 425,30.5" fill="none" stroke="#197dc8" stroke-width="1.2"/>
<polyline points="252.5,157.8 252.93,157.56 253.36,157.21 253.79,156.8 254.22,156.34 254.66,155.85 255.09,155.34 255.52,154.79 255.95,154.22 256.38,153.63 256.81,153.02 257.24,152.4 257.68,151.75 258.11,151.09 258.54,150.41 258.97,149.72 259.4,149.02 259.83,148.3 260.26,147.57 260.69,146.83 261.12,146.07 261.56,145.31 261.99,144.53 262.42,143.74 262.85,142.95 263.28,142.14 263.71,141.32 264.14,140.5 264.57,139.66 265.01,138.82 265.44,137.96 265.87,137.1 266.3,136.23 266.73,135.36 267.16,134.47 267.59,133.58 268.02,132.68 268.46,131.77 268.89,130.85 269.32,129.93 269.75,129 270.18,128.06 270.61,127.12 271.04,126.17 271.48,125.21 271.91,124.25 272.34,123.28 272.77,122.31 273.2,121.33 273.63,120.34 274.06,119.34 274.49,118.34 274.93,117.34 275.36,116.33 275.79,115.31 276.22,114.29 276.65,113.26 277.08,112.23 277.51,111.19 277.94,110.14 278.38,109.09 278.81,108.04 279.24,106.98 279.67,105.91 280.1,104.84 280.53,103.77 280.96,102.69 281.39,101.61 281.82,100.52 282.26,99.42 282.69,98.32 283.12,97.22 283.55,96.11 283.98,95 284.41,93.88 284.84,92.76 285.27,91.64 285.71,90.51 286.14,89.37 286.57,88.23 287,87.09 287.43,85.94 287.86,84.79 288.29,83.64 288.73,82.48 289.16,81.32 289.59,80.15 290.02,78.99 290.45,77.81 290.88,76.64 291.31,75.46 291.74,74.28 292.18,73.1 292.61,71.91 293.04,70.72 293.47,69.54 293.9,68.35 294.33,67.16 294.76,65.96 295.19,64.77 295.62,63.59 296.06,62.4 296.49,61.21 296.92,60.03 297.35,58.86 297.78,57.69 298.21,56.53 298.64,55.37 299.07,54.23 299.51,53.1 299.94,51.98 300.37,50.87 300.8,49.79 301.23,48.72 301.66,47.68 302.09,46.66 302.52,45.67 302.96,44.7 303.39,43.77 303.82,42.87 304.25,42 304.68,41.17 305.11,40.38 305.54,39.62 305.98,38.91 306.41,38.23 306.84,37.6 307.27,37 307.7,36.44 308.13,35.93 308.56,35.45 308.99,35 309.43,34.59 309.86,34.22 310.29,33.87 310.72,33.56 311.15,33.27 311.58,33.01 312.01,32.77 312.44,32.55 312.88,32.35 313.31,32.17 313.74,32.01 314.17,31.87 314.6,31.74 315.03,31.62 315.46,31.51 315.89,31.41 316.32,31.32 316.76,31.25 317.19,31.17 317.62,31.11 318.05,31.05 318.48,31 318.91,30.95 319.34,30.91 319.77,30.87 320.21,30.84 320.64,30.81 321.07,30.78 321.5,30.75 321.93,30.73 322.36,30.71 322.79,30.69 323.23,30.67 323.66,30.66 324.09,30.64 324.52,30.63 324.95,30.62 325.38,30.61 325.81,30.6 326.24,30.59 326.68,30.58 327.11,30.58 327.54,30.57 327.97,30.56 328.4,30.56 328.83,30.55 329.26,30.55 329.69,30.54 330.12,30.54 330.56,30.54 330.99,30.53 331.42,30.53 331.85,30.53 332.28,30.53 332.71,30.52 333.14,30.52 333.57,30.52 334.01,30.52 334.44,30.52 334.87,30.52 335.3,30.51 335.73,30.51 336.16,30.51 336.59,30.51 337.02,30.51 337.46,30.51 337.89,30.51 338.32,30.51 338.75,30.51 339.18,30.51 339.61,30.51 340.04,30.51 340.48,30.51 340.91,30.51 341.34,30.51 341.77,30.5 342.2,30.5 342.63,30.5 343.06,30.5 343.49,30.5 343.93,30.5 344.36,30.5 344.79,30.5 345.22,30.5 345.65,30.5 346.08,30.5 346.51,30.5 346.94,30.5 347.38,30.5 347.81,30.5 348.24,30.5 348.67,30.5 349.1,30.5 349.53,30.5 349.96,30.5 350.39,30.5 350.83,30.5 351.26,30.5 351.69,30.5 352.12,30.5 352.55,30.5 352.98,30.5 353.41,30.5 353.84,30.5 354.27,30.5 354.71,30.5 355.14,30.5 355.57,30.5 356,30.5 356.43,30.5 356.86,30.5 357.29,30.5 357.73,30.5 358.16,30.5 358.59,30.5 359.02,30.5 359.45,30.5 359.88,30.5 360.31,30.5 360.74,30.5 361.18,30.5 361.61,30.5 362.04,30.5 362.47,30.5 362.9,30.5 363.33,30.5 363.76,30.5 364.19,30.5 364.62,30.5 365.06,30.5 365.49,30.5 365.92,30.5 366.35,30.5 366.78,30.5 367.21,30.5 367.64,30.5 368.07,30.5 368.51,30.5 368.94,30.5 369.37,30.5 369.8,30.5 370.23,30.5 370.66,30.5 371.09,30.5 371.52,30.5 371.96,30.5 372.39,30.5 372.82,30.5 373.25,30.5 374.98,30.5 380.53,30.5 386.09,30.5 391.65,30.5 397.21,30.5 402.77,30.5 408.32,30.5 413.88,30.5 419.44,30.5 425,30.5" fill="none" stroke="#19a0d2" stroke-width="1.2"/>
<polyline points="252.5,155.12 252.93,154.81 253.36,154.37 253.79,153.85 254.22,153.29 254.66,152.68 255.09,152.03 255.52,151.36 255.95,150.66 256.38,149.93 256.81,149.18 257.24,148.4 257.68,147.61 258.11,146.8 258.54,145.97 258.97,145.12 259.4,144.26 259.83,143.38 260.26,142.49 260.69,141.58 261.12,140.66 261.56,139.72 261.99,138.78 262.42,137.82 262.85,136.84 263.28,135.86 263.71,134.87 264.14,133.86 264.57,132.85 265.01,131.82 265.44,130.79 265.87,129.74 266.3,128.69 266.73,127.62 267.16,126.55 267.59,125.47 268.02,124.37 268.46,123.27 268.89,122.17 269.32,121.05 269.75,119.92 270.18,118.79 270.61,117.65 271.04,116.5 271.48,115.35 271.91,114.18 272.34,113.01 272.77,111.83 273.2,110.65 273.63,109.46 274.06,108.26 274.49,107.05 274.93,105.84 275.36,104.62 275.79,103.39 276.22,102.16 276.65,100.92 277.08,99.68 277.51,98.43 277.94,97.17 278.38,95.91 278.81,94.64 279.24,93.36 279.67,92.08 280.1,90.8 280.53,89.5 280.96,88.21 281.39,86.9 281.82,85.6 282.26,84.28 282.69,82.97 283.12,81.64 283.55,80.31 283.98,78.98 284.41,77.65 284.84,76.3 285.27,74.96 285.71,73.61 286.14,72.26 286.57,70.91 287,69.55 287.43,68.19 287.86,66.83 288.29,65.47 288.73,64.12 289.16,62.76 289.59,61.4 290.02,60.05 290.45,58.71 290.88,57.37 291.31,56.04 291.74,54.73 292.18,53.43 292.61,52.14 293.04,50.87 293.47,49.63 293.9,48.41 294.33,47.22 294.76,46.06 295.19,44.94 295.62,43.86 296.06,42.82 296.49,41.83 296.92,40.88 297.35,39.98 297.78,39.14 298.21,38.35 298.64,37.61 299.07,36.92 299.51,36.29 299.94,35.7 300.37,35.17 300.8,34.68 301.23,34.24 301.66,33.84 302.09,33.48 302.52,33.16 302.96,32.87 303.39,32.61 303.82,32.37 304.25,32.16 304.68,31.98 305.11,31.82 305.54,31.67 305.98,31.54 306.41,31.42 306.84,31.32 307.27,31.23 307.7,31.15 308.13,31.08 308.56,31.02 308.99,30.96 309.43,30.91 309.86,30.87 310.29,30.83 310.72,30.79 311.15,30.76 311.58,30.73 312.01,30.71 312.44,30.69 312.88,30.67 313.31,30.65 313.74,30.64 314.17,30.62 314.6,30.61 315.03,30.6 315.46,30.59 315.89,30.58 316.32,30.57 316.76,30.56 317.19,30.56 317.62,30.55 318.05,30.55 318.48,30.54 318.91,30.54 319.34,30.54 319.77,30.53 320.21,30.53 320.64,30.53 321.07,30.52 321.5,30.52 321.93,30.52 322.36,30.52 322.79,30.52 323.23,30.51 323.66,30.51 324.09,30.51 324.52,30.51 324.95,30.51 325.38,30.51 325.81,30.51 326.24,30.51 326.68,30.51 327.11,30.51 327.54,30.51 327.97,30.51 328.4,30.5 328.83,30.5 329.26,30.5 329.69,30.5 330.12,30.5 330.56,30.5 330.99,30.5 331.42,30.5 331.85,30.5 332.28,30.5 332.71,30.5 333.14,30.5 333.57,30.5 334.01,30.5 334.44,30.5 334.87,30.5 335.3,30.5 335.73,30.5 336.16,30.5 336.59,30.5 337.02,30.5 337.46,30.5 337.89,30.5 338.32,30.5 338.75,30.5 339.18,30.5 339.61,30.5 340.04,30.5 340.48,30.5 340.91,30.5 341.34,30.5 341.77,30.5 342.2,30.5 342.63,30.5 343.06,30.5 343.49,30.5 343.93,30.5 344.36,30.5 344.79,30.5 345.22,30.5 345.65,30.5 346.08,30.5 346.51,30.5 346.94,30.5 347.38,30.5 347.81,30.5 348.24,30.5 348.67,30.5 349.1,30.5 349.53,30.5 349.96,30.5 350.39,30.5 350.83,30.5 351.26,30.5 351.69,30.5 352.12,30.5 352.55,30.5 352.98,30.5 353.41,30.5 353.84,30.5 354.27,30.5 354.71,30.5 355.14,30.5 355.57,30.5 356,30.5 356.43,30.5 356.86,30.5 357.29,30.5 357.73,30.5 358.16,30.5 358.59,30.5 359.02,30.5 359.45,30.5 359.88,30.5 360.31,30.5 360.74,30.5 361.18,30.5 361.61,30.5 362.04,30.5 362.47,30.5 362.9,30.5 363.33,30.5 363.76,30.5 364.19,30.5 364.62,30.5 365.06,30.5 365.49,30.5 365.92,30.5 366.35,30.5 366.78,30.5 367.21,30.5 367.64,30.5 368.07,30.5 368.51,30.5 368.94,30.5 369.37,30.5 369.8,30.5 370.23,30.5 370.66,30.5 371.09,30.5 371.52,30.5 371.96,30.5 372.39,30.5 372.82,30.5 373.25,30.5 374.98,30.5 380.53,30.5 386.09,30.5 391.65,30.5 397.21,30.5 402.77,30.5 408.32,30.5 413.88,30.5 419.44,30.5 425,30.5" fill="none" stroke="#28bed7" stroke-width="1.2"/>
<polyline points="252.5,152.17 252.93,151.74 253.36,151.12 253.79,150.41 254.22,149.63 254.66,148.79 255.09,147.9 255.52,146.98 255.95,146.01 256.38,145.01 256.81,143.98 257.24,142.92 257.68,141.84 258.11,140.73 258.54,139.59 258.97,138.43 259.4,137.25 259.83,136.05 260.26,134.83 260.69,133.6 261.12,132.34 261.56,131.07 261.99,129.78 262.42,128.47 262.85,127.15 263.28,125.81 263.71,124.45 264.14,123.09 264.57,121.71 265.01,120.31 265.44,118.9 265.87,117.48 266.3,116.05 266.73,114.6 267.16,113.14 267.59,111.67 268.02,110.19 268.46,108.69 268.89,107.19 269.32,105.67 269.75,104.15 270.18,102.61 270.61,101.06 271.04,99.5 271.48,97.94 271.91,96.36 272.34,94.77 272.77,93.17 273.2,91.57 273.63,89.95 274.06,88.33 274.49,86.7 274.93,85.05 275.36,83.4 275.79,81.75 276.22,80.08 276.65,78.41 277.08,76.73 277.51,75.04 277.94,73.35 278.38,71.65 278.81,69.95 279.24,68.24 279.67,66.53 280.1,64.82 280.53,63.12 280.96,61.41 281.39,59.71 281.82,58.02 282.26,56.34 282.69,54.68 283.12,53.04 283.55,51.42 283.98,49.84 284.41,48.3 284.84,46.8 285.27,45.35 285.71,43.97 286.14,42.65 286.57,41.4 287,40.23 287.43,39.14 287.86,38.14 288.29,37.22 288.73,36.39 289.16,35.64 289.59,34.98 290.02,34.38 290.45,33.86 290.88,33.4 291.31,33 291.74,32.65 292.18,32.35 292.61,32.09 293.04,31.87 293.47,31.68 293.9,31.51 294.33,31.37 294.76,31.25 295.19,31.14 295.62,31.06 296.06,30.98 296.49,30.91 296.92,30.86 297.35,30.81 297.78,30.77 298.21,30.73 298.64,30.7 299.07,30.67 299.51,30.65 299.94,30.63 300.37,30.61 300.8,30.6 301.23,30.59 301.66,30.58 302.09,30.57 302.52,30.56 302.96,30.55 303.39,30.55 303.82,30.54 304.25,30.54 304.68,30.53 305.11,30.53 305.54,30.52 305.98,30.52 306.41,30.52 306.84,30.52 307.27,30.51 307.7,30.51 308.13,30.51 308.56,30.51 308.99,30.51 309.43,30.51 309.86,30.51 310.29,30.51 310.72,30.51 311.15,30.51 311.58,30.5 312.01,30.5 312.44,30.5 312.88,30.5 313.31,30.5 313.74,30.5 314.17,30.5 314.6,30.5 315.03,30.5 315.46,30.5 315.89,30.5 316.32,30.5 316.76,30.5 317.19,30.5 317.62,30.5 318.05,30.5 318.48,30.5 318.91,30.5 319.34,30.5 319.77,30.5 320.21,30.5 320.64,30.5 321.07,30.5 321.5,30.5 321.93,30.5 322.36,30.5 322.79,30.5 323.23,30.5 323.66,30.5 324.09,30.5 324.52,30.5 324.95,30.5 325.38,30.5 325.81,30.5 326.24,30.5 326.68,30.5 327.11,30.5 327.54,30.5 327.97,30.5 328.4,30.5 328.83,30.5 329.26,30.5 329.69,30.5 330.12,30.5 330.56,30.5 330.99,30.5 331.42,30.5 331.85,30.5 332.28,30.5 332.71,30.5 333.14,30.5 333.57,30.5 334.01,30.5 334.44,30.5 334.87,30.5 335.3,30.5 335.73,30.5 336.16,30.5 336.59,30.5 337.02,30.5 337.46,30.5 337.89,30.5 338.32,30.5 338.75,30.5 339.18,30.5 339.61,30.5 340.04,30.5 340.48,30.5 340.91,30.5 341.34,30.5 341.77,30.5 342.2,30.5 342.63,30.5 343.06,30.5 343.49,30.5 343.93,30.5 344.36,30.5 344.79,30.5 345.22,30.5 345.65,30.5 346.08,30.5 346.51,30.5 346.94,30.5 347.38,30.5 347.81,30.5 348.24,30.5 348.67,30.5 349.1,30.5 349.53,30.5 349.96,30.5 350.39,30.5 350.83,30.5 351.26,30.5 351.69,30.5 352.12,30.5 352.55,30.5 352.98,30.5 353.41,30.5 353.84,30.5 354.27,30.5 354.71,30.5 355.14,30.5 355.57,30.5 356,30.5 356.43,30.5 356.86,30.5 357.29,30.5 357.73,30.5 358.16,30.5 358.59,30.5 359.02,30.5 359.45,30.5 359.88,30.5 360.31,30.5 360.74,30.5 361.18,30.5 361.61,30.5 362.04,30.5 362.47,30.5 362.9,30.5 363.33,30.5 363.76,30.5 364.19,30.5 364.62,30.5 365.06,30.5 365.49,30.5 365.92,30.5 366.35,30.5 366.78,30.5 367.21,30.5 367.64,30.5 368.07,30.5 368.51,30.5 368.94,30.5 369.37,30.5 369.8,30.5 370.23,30.5 370.66,30.5 371.09,30.5 371.52,30.5 371.96,30.5 372.39,30.5 372.82,30.5 373.25,30.5 374.98,30.5 380.53,30.5 386.09,30.5 391.65,30.5 397.21,30.5 402.77,30.5 408.32,30.5 413.88,30.5 419.44,30.5 425,30.5" fill="none" stroke="#1ecdd2" stroke-width="1.2"/>
<polyline points="252.5,148.96 252.93,148.14 253.36,147 253.79,145.69 254.22,144.26 254.66,142.73 255.09,141.12 255.52,139.44 255.95,137.7 256.38,135.9 256.81,134.04 257.24,132.14 257.68,130.19 258.11,128.19 258.54,126.16 258.97,124.09 259.4,121.98 259.83,119.83 260.26,117.66 260.69,115.45 261.12,113.21 261.56,110.94 261.99,108.64 262.42,106.32 262.85,103.97 263.28,101.59 263.71,99.19 264.14,96.77 264.57,94.32 265.01,91.85 265.44,89.35 265.87,86.84 266.3,84.3 266.73,81.75 267.16,79.17 267.59,76.58 268.02,73.97 268.46,71.35 268.89,68.71 269.32,66.07 269.75,63.43 270.18,60.79 270.61,58.17 271.04,55.57 271.48,53.01 271.91,50.51 272.34,48.1 272.77,45.8 273.2,43.63 273.63,41.62 274.06,39.8 274.49,38.18 274.93,36.77 275.36,35.57 275.79,34.57 276.22,33.74 276.65,33.06 277.08,32.52 277.51,32.09 277.94,31.75 278.38,31.49 278.81,31.28 279.24,31.11 279.67,30.99 280.1,30.88 280.53,30.81 280.96,30.74 281.39,30.69 281.82,30.66 282.26,30.63 282.69,30.6 283.12,30.58 283.55,30.57 283.98,30.55 284.41,30.54 284.84,30.54 285.27,30.53 285.71,30.52 286.14,30.52 286.57,30.52 287,30.51 287.43,30.51 287.86,30.51 288.29,30.51 288.73,30.51 289.16,30.51 289.59,30.5 290.02,30.5 290.45,30.5 290.88,30.5 291.31,30.5 291.74,30.5 292.18,30.5 292.61,30.5 293.04,30.5 293.47,30.5 293.9,30.5 294.33,30.5 294.76,30.5 295.19,30.5 295.62,30.5 296.06,30.5 296.49,30.5 296.92,30.5 297.35,30.5 297.78,30.5 298.21,30.5 298.64,30.5 299.07,30.5 299.51,30.5 299.94,30.5 300.37,30.5 300.8,30.5 301.23,30.5 301.66,30.5 302.09,30.5 302.52,30.5 302.96,30.5 303.39,30.5 303.82,30.5 304.25,30.5 304.68,30.5 305.11,30.5 305.54,30.5 305.98,30.5 306.41,30.5 306.84,30.5 307.27,30.5 307.7,30.5 308.13,30.5 308.56,30.5 308.99,30.5 309.43,30.5 309.86,30.5 310.29,30.5 310.72,30.5 311.15,30.5 311.58,30.5 312.01,30.5 312.44,30.5 312.88,30.5 313.31,30.5 313.74,30.5 314.17,30.5 314.6,30.5 315.03,30.5 315.46,30.5 315.89,30.5 316.32,30.5 316.76,30.5 317.19,30.5 317.62,30.5 318.05,30.5 318.48,30.5 318.91,30.5 319.34,30.5 319.77,30.5 320.21,30.5 320.64,30.5 321.07,30.5 321.5,30.5 321.93,30.5 322.36,30.5 322.79,30.5 323.23,30.5 323.66,30.5 324.09,30.5 324.52,30.5 324.95,30.5 325.38,30.5 325.81,30.5 326.24,30.5 326.68,30.5 327.11,30.5 327.54,30.5 327.97,30.5 328.4,30.5 328.83,30.5 329.26,30.5 329.69,30.5 330.12,30.5 330.56,30.5 330.99,30.5 331.42,30.5 331.85,30.5 332.28,30.5 332.71,30.5 333.14,30.5 333.57,30.5 334.01,30.5 334.44,30.5 334.87,30.5 335.3,30.5 335.73,30.5 336.16,30.5 336.59,30.5 337.02,30.5 337.46,30.5 337.89,30.5 338.32,30.5 338.75,30.5 339.18,30.5 339.61,30.5 340.04,30.5 340.48,30.5 340.91,30.5 341.34,30.5 341.77,30.5 342.2,30.5 342.63,30.5 343.06,30.5 343.49,30.5 343.93,30.5 344.36,30.5 344.79,30.5 345.22,30.5 345.65,30.5 346.08,30.5 346.51,30.5 346.94,30.5 347.38,30.5 347.81,30.5 348.24,30.5 348.67,30.5 349.1,30.5 349.53,30.5 349.96,30.5 350.39,30.5 350.83,30.5 351.26,30.5 351.69,30.5 352.12,30.5 352.55,30.5 352.98,30.5 353.41,30.5 353.84,30.5 354.27,30.5 354.71,30.5 355.14,30.5 355.57,30.5 356,30.5 356.43,30.5 356.86,30.5 357.29,30.5 357.73,30.5 358.16,30.5 358.59,30.5 359.02,30.5 359.45,30.5 359.88,30.5 360.31,30.5 360.74,30.5 361.18,30.5 361.61,30.5 362.04,30.5 362.47,30.5 362.9,30.5 363.33,30.5 363.76,30.5 364.19,30.5 364.62,30.5 365.06,30.5 365.49,30.5 365.92,30.5 366.35,30.5 366.78,30.5 367.21,30.5 367.64,30.5 368.07,30.5 368.51,30.5 368.94,30.5 369.37,30.5 369.8,30.5 370.23,30.5 370.66,30.5 371.09,30.5 371.52,30.5 371.96,30.5 372.39,30.5 372.82,30.5 373.25,30.5 374.98,30.5 380.53,30.5 386.09,30.5 391.65,30.5 397.21,30.5 402.77,30.5 408.32,30.5 413.88,30.5 419.44,30.5 425,30.5" fill="none" stroke="#28d7cd" stroke-width="1.2"/>
<rect x="375.8" y="34.9" width="45.9" height="79.1" fill="#fff" stroke="#bdbdbd" stroke-width="0.6"/>
<line x1="377.9" y1="39.8" x2="393.7" y2="39.8" stroke="#0f0faf" stroke-width="1.2"/>
<text x="395" y="43.27" font-size="6.3" text-anchor="start" fill="#000">&#1092; = 1.00</text>
<line x1="377.9" y1="47.53" x2="393.7" y2="47.53" stroke="#1423c8" stroke-width="1.2"/>
<text x="395" y="51" font-size="6.3" text-anchor="start" fill="#000">&#1092; = 0.90</text>
<line x1="377.9" y1="55.26" x2="393.7" y2="55.26" stroke="#1e3cd2" stroke-width="1.2"/>
<text x="395" y="58.73" font-size="6.3" text-anchor="start" fill="#000">&#1092; = 0.80</text>
<line x1="377.9" y1="62.99" x2="393.7" y2="62.99" stroke="#3764d7" stroke-width="1.2"/>
<text x="395" y="66.46" font-size="6.3" text-anchor="start" fill="#000">&#1092; = 0.70</text>
<line x1="377.9" y1="70.72" x2="393.7" y2="70.72" stroke="#3278d7" stroke-width="1.2"/>
<text x="395" y="74.19" font-size="6.3" text-anchor="start" fill="#000">&#1092; = 0.60</text>
<line x1="377.9" y1="78.45" x2="393.7" y2="78.45" stroke="#197dc8" stroke-width="1.2"/>
<text x="395" y="81.92" font-size="6.3" text-anchor="start" fill="#000">&#1092; = 0.50</text>
<line x1="377.9" y1="86.18" x2="393.7" y2="86.18" stroke="#19a0d2" stroke-width="1.2"/>
<text x="395" y="89.65" font-size="6.3" text-anchor="start" fill="#000">&#1092; = 0.40</text>
<line x1="377.9" y1="93.91" x2="393.7" y2="93.91" stroke="#28bed7" stroke-width="1.2"/>
<text x="395" y="97.38" font-size="6.3" text-anchor="start" fill="#000">&#1092; = 0.30</text>
<line x1="377.9" y1="101.64" x2="393.7" y2="101.64" stroke="#1ecdd2" stroke-width="1.2"/>
<text x="395" y="105.11" font-size="6.3" text-anchor="start" fill="#000">&#1092; = 0.20</text>
<line x1="377.9" y1="109.37" x2="393.7" y2="109.37" stroke="#28d7cd" stroke-width="1.2"/>
<text x="395" y="112.84" font-size="6.3" text-anchor="start" fill="#000">&#1092; = 0.10</text>
<text x="338.9" y="180.9" font-size="6.4" text-anchor="middle" fill="#262626">Fitness Cost (1-&#949;<tspan font-size="4.61" dy="2.69">A</tspan><tspan dy="-2.69"> = 1-&#949;</tspan><tspan font-size="4.61" dy="2.69">B</tspan><tspan dy="-2.69"> = 1-&#949;</tspan><tspan font-size="4.61" dy="2.69">C</tspan><tspan dy="-2.69">)</tspan></text>
<text x="238.2" y="97.8" font-size="6.35" text-anchor="middle" fill="#262626" transform="rotate(-90 238.2 97.8)">Release Threshold</text>
<text x="-0.3" y="207" font-size="14.3" text-anchor="start" fill="#000">(c)</text>
<polygon points="26.25,340.75 26.25,339.05 26.25,337.35 26.25,335.65 26.25,333.95 26.25,332.25 26.25,330.55 26.25,328.85 26.25,327.16 26.25,325.46 26.25,323.76 26.25,322.06 26.25,320.36 26.25,318.66 26.25,316.96 26.25,315.26 26.25,313.56 26.25,311.86 26.25,310.16 26.25,308.46 26.25,306.76 26.25,305.06 26.25,303.36 26.25,301.66 26.25,299.97 26.25,298.27 26.25,296.57 26.25,294.87 26.25,293.17 26.25,291.47 26.25,289.77 26.25,288.07 26.25,286.37 26.25,284.67 26.25,282.97 26.25,281.27 26.25,279.57 26.25,277.87 26.25,276.17 26.25,274.47 26.25,272.78 26.25,271.08 26.25,269.38 26.25,267.68 26.25,265.98 26.25,264.28 26.25,262.58 26.25,260.88 26.25,259.18 26.25,257.48 26.25,255.78 26.25,254.08 26.25,252.38 26.25,250.68 26.25,248.98 26.25,247.28 26.25,245.59 26.25,243.89 26.25,242.19 26.25,240.49 26.25,238.79 26.25,237.09 26.25,235.39 26.25,233.69 26.25,231.99 26.25,230.29 26.25,228.59 26.25,226.89 26.25,225.19 26.25,223.49 26.25,221.79 26.25,220.09 26.25,218.4 26.25,216.7 26.25,215 26.25,213.3 26.25,211.6 26.25,209.9 26.25,208.2 26.25,206.5 47.19,206.5 46.89,208.2 46.6,209.9 46.33,211.6 46.07,213.3 45.82,215 45.57,216.7 45.33,218.4 45.09,220.09 44.85,221.79 44.62,223.49 44.38,225.19 44.15,226.89 43.91,228.59 43.67,230.29 43.42,231.99 43.17,233.69 42.92,235.39 42.65,237.09 42.38,238.79 42.09,240.49 41.8,242.19 41.51,243.89 41.2,245.59 40.9,247.28 40.58,248.98 40.26,250.68 39.94,252.38 39.61,254.08 39.28,255.78 38.95,257.48 38.61,259.18 38.27,260.88 37.93,262.58 37.58,264.28 37.22,265.98 36.85,267.68 36.48,269.38 36.11,271.08 35.74,272.78 35.36,274.47 34.98,276.17 34.6,277.87 34.22,279.57 33.84,281.27 33.46,282.97 33.09,284.67 32.72,286.37 32.35,288.07 31.99,289.77 31.64,291.47 31.28,293.17 30.93,294.87 30.59,296.57 30.25,298.27 29.92,299.97 29.59,301.66 29.28,303.36 28.97,305.06 28.66,306.76 28.36,308.46 28.05,310.16 27.74,311.86 27.36,313.56 26.94,315.26 26.57,316.96 26.32,318.66 26.25,320.36 26.25,322.06 26.25,323.76 26.25,325.46 26.25,327.16 26.25,328.85 26.25,330.55 26.25,332.25 26.25,333.95 26.25,335.65 26.25,337.35 26.25,339.05 26.25,340.75" fill="#ffffff" stroke="#ffffff" stroke-width="0.3"/>
<polygon points="26.25,340.75 26.25,339.05 26.25,337.35 26.25,335.65 26.25,333.95 26.25,332.25 26.25,330.55 26.25,328.85 26.25,327.16 26.25,325.46 26.25,323.76 26.25,322.06 26.25,320.36 26.32,318.66 26.57,316.96 26.94,315.26 27.36,313.56 27.74,311.86 28.05,310.16 28.36,308.46 28.66,306.76 28.97,305.06 29.28,303.36 29.59,301.66 29.92,299.97 30.25,298.27 30.59,296.57 30.93,294.87 31.28,293.17 31.64,291.47 31.99,289.77 32.35,288.07 32.72,286.37 33.09,284.67 33.46,282.97 33.84,281.27 34.22,279.57 34.6,277.87 34.98,276.17 35.36,274.47 35.74,272.78 36.11,271.08 36.48,269.38 36.85,267.68 37.22,265.98 37.58,264.28 37.93,262.58 38.27,260.88 38.61,259.18 38.95,257.48 39.28,255.78 39.61,254.08 39.94,252.38 40.26,250.68 40.58,248.98 40.9,247.28 41.2,245.59 41.51,243.89 41.8,242.19 42.09,240.49 42.38,238.79 42.65,237.09 42.92,235.39 43.17,233.69 43.42,231.99 43.67,230.29 43.91,228.59 44.15,226.89 44.38,225.19 44.62,223.49 44.85,221.79 45.09,220.09 45.33,218.4 45.57,216.7 45.82,215 46.07,213.3 46.33,211.6 46.6,209.9 46.89,208.2 47.19,206.5 53.91,206.5 53.6,208.2 53.33,209.9 53.07,211.6 52.82,213.3 52.58,215 52.35,216.7 52.13,218.4 51.91,220.09 51.69,221.79 51.48,223.49 51.27,225.19 51.05,226.89 50.84,228.59 50.62,230.29 50.39,231.99 50.16,233.69 49.92,235.39 49.67,237.09 49.41,238.79 49.13,240.49 48.85,242.19 48.57,243.89 48.27,245.59 47.97,247.28 47.66,248.98 47.34,250.68 47.02,252.38 46.69,254.08 46.35,255.78 46,257.48 45.65,259.18 45.3,260.88 44.92,262.58 44.53,264.28 44.13,265.98 43.71,267.68 43.28,269.38 42.85,271.08 42.41,272.78 41.96,274.47 41.52,276.17 41.07,277.87 40.62,279.57 40.18,281.27 39.75,282.97 39.32,284.67 38.9,286.37 38.5,288.07 38.1,289.77 37.73,291.47 37.39,293.17 37.08,294.87 36.76,296.57 36.42,298.27 36.03,299.97 35.56,301.66 34.97,303.36 34.31,305.06 33.62,306.76 32.94,308.46 32.31,310.16 31.76,311.86 31.25,313.56 30.75,315.26 30.3,316.96 29.91,318.66 29.62,320.36 29.37,322.06 29.12,323.76 28.88,325.46 28.66,327.16 28.45,328.85 28.26,330.55 28.08,332.25 27.94,333.95 27.82,335.65 27.73,337.35 27.68,339.05 27.66,340.75" fill="#e6f1fa" stroke="#e6f1fa" stroke-width="0.3"/>
<polygon points="27.66,340.75 27.68,339.05 27.73,337.35 27.82,335.65 27.94,333.95 28.08,332.25 28.26,330.55 28.45,328.85 28.66,327.16 28.88,325.46 29.12,323.76 29.37,322.06 29.62,320.36 29.91,318.66 30.3,316.96 30.75,315.26 31.25,313.56 31.76,311.86 32.31,310.16 32.94,308.46 33.62,306.76 34.31,305.06 34.97,303.36 35.56,301.66 36.03,299.97 36.42,298.27 36.76,296.57 37.08,294.87 37.39,293.17 37.73,291.47 38.1,289.77 38.5,288.07 38.9,286.37 39.32,284.67 39.75,282.97 40.18,281.27 40.62,279.57 41.07,277.87 41.52,276.17 41.96,274.47 42.41,272.78 42.85,271.08 43.28,269.38 43.71,267.68 44.13,265.98 44.53,264.28 44.92,262.58 45.3,260.88 45.65,259.18 46,257.48 46.35,255.78 46.69,254.08 47.02,252.38 47.34,250.68 47.66,248.98 47.97,247.28 48.27,245.59 48.57,243.89 48.85,242.19 49.13,240.49 49.41,238.79 49.67,237.09 49.92,235.39 50.16,233.69 50.39,231.99 50.62,230.29 50.84,228.59 51.05,226.89 51.27,225.19 51.48,223.49 51.69,221.79 51.91,220.09 52.13,218.4 52.35,216.7 52.58,215 52.82,213.3 53.07,211.6 53.33,209.9 53.6,208.2 53.91,206.5 58.91,206.5 58.6,208.2 58.32,209.9 58.05,211.6 57.79,213.3 57.53,215 57.28,216.7 57.04,218.4 56.79,220.09 56.55,221.79 56.31,223.49 56.08,225.19 55.84,226.89 55.6,228.59 55.36,230.29 55.12,231.99 54.87,233.69 54.62,235.39 54.36,237.09 54.09,238.79 53.83,240.49 53.56,242.19 53.29,243.89 53.02,245.59 52.74,247.28 52.47,248.98 52.18,250.68 51.89,252.38 51.6,254.08 51.29,255.78 50.97,257.48 50.64,259.18 50.3,260.88 49.94,262.58 49.57,264.28 49.18,265.98 48.77,267.68 48.36,269.38 47.93,271.08 47.49,272.78 47.05,274.47 46.6,276.17 46.15,277.87 45.69,279.57 45.24,281.27 44.78,282.97 44.33,284.67 43.88,286.37 43.43,288.07 42.99,289.77 42.56,291.47 42.14,293.17 41.74,294.87 41.33,296.57 40.89,298.27 40.42,299.97 39.89,301.66 39.29,303.36 38.65,305.06 37.99,306.76 37.33,308.46 36.7,310.16 36.13,311.86 35.59,313.56 35.07,315.26 34.57,316.96 34.1,318.66 33.64,320.36 33.19,322.06 32.75,323.76 32.32,325.46 31.9,327.16 31.48,328.85 31.08,330.55 30.69,332.25 30.3,333.95 29.93,335.65 29.58,337.35 29.23,339.05 28.91,340.75" fill="#d0e4f4" stroke="#d0e4f4" stroke-width="0.3"/>
<polygon points="28.91,340.75 29.23,339.05 29.58,337.35 29.93,335.65 30.3,333.95 30.69,332.25 31.08,330.55 31.48,328.85 31.9,327.16 32.32,325.46 32.75,323.76 33.19,322.06 33.64,320.36 34.1,318.66 34.57,316.96 35.07,315.26 35.59,313.56 36.13,311.86 36.7,310.16 37.33,308.46 37.99,306.76 38.65,305.06 39.29,303.36 39.89,301.66 40.42,299.97 40.89,298.27 41.33,296.57 41.74,294.87 42.14,293.17 42.56,291.47 42.99,289.77 43.43,288.07 43.88,286.37 44.33,284.67 44.78,282.97 45.24,281.27 45.69,279.57 46.15,277.87 46.6,276.17 47.05,274.47 47.49,272.78 47.93,271.08 48.36,269.38 48.77,267.68 49.18,265.98 49.57,264.28 49.94,262.58 50.3,260.88 50.64,259.18 50.97,257.48 51.29,255.78 51.6,254.08 51.89,252.38 52.18,250.68 52.47,248.98 52.74,247.28 53.02,245.59 53.29,243.89 53.56,242.19 53.83,240.49 54.09,238.79 54.36,237.09 54.62,235.39 54.87,233.69 55.12,231.99 55.36,230.29 55.6,228.59 55.84,226.89 56.08,225.19 56.31,223.49 56.55,221.79 56.79,220.09 57.04,218.4 57.28,216.7 57.53,215 57.79,213.3 58.05,211.6 58.32,209.9 58.6,208.2 58.91,206.5 62.81,206.5 62.51,208.2 62.24,209.9 62,211.6 61.77,213.3 61.55,215 61.34,216.7 61.15,218.4 60.95,220.09 60.77,221.79 60.58,223.49 60.4,225.19 60.22,226.89 60.03,228.59 59.84,230.29 59.65,231.99 59.44,233.69 59.23,235.39 59.01,237.09 58.78,238.79 58.53,240.49 58.28,242.19 58.02,243.89 57.76,245.59 57.48,247.28 57.2,248.98 56.91,250.68 56.61,252.38 56.31,254.08 55.99,255.78 55.67,257.48 55.33,259.18 54.99,260.88 54.63,262.58 54.25,264.28 53.86,265.98 53.45,267.68 53.03,269.38 52.6,271.08 52.15,272.78 51.71,274.47 51.25,276.17 50.79,277.87 50.32,279.57 49.86,281.27 49.39,282.97 48.92,284.67 48.46,286.37 47.99,288.07 47.54,289.77 47.08,291.47 46.65,293.17 46.23,294.87 45.8,296.57 45.33,298.27 44.81,299.97 44.19,301.66 43.44,303.36 42.6,305.06 41.74,306.76 40.91,308.46 40.17,310.16 39.57,311.86 39.09,313.56 38.67,315.26 38.27,316.96 37.85,318.66 37.38,320.36 36.87,322.06 36.35,323.76 35.81,325.46 35.25,327.16 34.68,328.85 34.09,330.55 33.48,332.25 32.85,333.95 32.21,335.65 31.54,337.35 30.86,339.05 30.16,340.75" fill="#b9d8ef" stroke="#b9d8ef" stroke-width="0.3"/>
<polygon points="30.16,340.75 30.86,339.05 31.54,337.35 32.21,335.65 32.85,333.95 33.48,332.25 34.09,330.55 34.68,328.85 35.25,327.16 35.81,325.46 36.35,323.76 36.87,322.06 37.38,320.36 37.85,318.66 38.27,316.96 38.67,315.26 39.09,313.56 39.57,311.86 40.17,310.16 40.91,308.46 41.74,306.76 42.6,305.06 43.44,303.36 44.19,301.66 44.81,299.97 45.33,298.27 45.8,296.57 46.23,294.87 46.65,293.17 47.08,291.47 47.54,289.77 47.99,288.07 48.46,286.37 48.92,284.67 49.39,282.97 49.86,281.27 50.32,279.57 50.79,277.87 51.25,276.17 51.71,274.47 52.15,272.78 52.6,271.08 53.03,269.38 53.45,267.68 53.86,265.98 54.25,264.28 54.63,262.58 54.99,260.88 55.33,259.18 55.67,257.48 55.99,255.78 56.31,254.08 56.61,252.38 56.91,250.68 57.2,248.98 57.48,247.28 57.76,245.59 58.02,243.89 58.28,242.19 58.53,240.49 58.78,238.79 59.01,237.09 59.23,235.39 59.44,233.69 59.65,231.99 59.84,230.29 60.03,228.59 60.22,226.89 60.4,225.19 60.58,223.49 60.77,221.79 60.95,220.09 61.15,218.4 61.34,216.7 61.55,215 61.77,213.3 62,211.6 62.24,209.9 62.51,208.2 62.81,206.5 67.19,206.5 66.88,208.2 66.61,209.9 66.37,211.6 66.14,213.3 65.93,215 65.72,216.7 65.52,218.4 65.33,220.09 65.14,221.79 64.96,223.49 64.77,225.19 64.59,226.89 64.41,228.59 64.22,230.29 64.02,231.99 63.82,233.69 63.61,235.39 63.39,237.09 63.15,238.79 62.91,240.49 62.66,242.19 62.4,243.89 62.13,245.59 61.85,247.28 61.57,248.98 61.28,250.68 60.98,252.38 60.67,254.08 60.36,255.78 60.04,257.48 59.71,259.18 59.37,260.88 59.02,262.58 58.66,264.28 58.28,265.98 57.9,267.68 57.51,269.38 57.11,271.08 56.7,272.78 56.28,274.47 55.85,276.17 55.42,277.87 54.98,279.57 54.54,281.27 54.09,282.97 53.63,284.67 53.17,286.37 52.71,288.07 52.24,289.77 51.77,291.47 51.3,293.17 50.82,294.87 50.32,296.57 49.79,298.27 49.2,299.97 48.52,301.66 47.69,303.36 46.78,305.06 45.85,306.76 44.95,308.46 44.13,310.16 43.46,311.86 42.92,313.56 42.45,315.26 42,316.96 41.51,318.66 40.95,320.36 40.33,322.06 39.68,323.76 39,325.46 38.29,327.16 37.54,328.85 36.77,330.55 35.96,332.25 35.12,333.95 34.24,335.65 33.33,337.35 32.39,339.05 31.41,340.75" fill="#a3cbe9" stroke="#a3cbe9" stroke-width="0.3"/>
<polygon points="31.41,340.75 32.39,339.05 33.33,337.35 34.24,335.65 35.12,333.95 35.96,332.25 36.77,330.55 37.54,328.85 38.29,327.16 39,325.46 39.68,323.76 40.33,322.06 40.95,320.36 41.51,318.66 42,316.96 42.45,315.26 42.92,313.56 43.46,311.86 44.13,310.16 44.95,308.46 45.85,306.76 46.78,305.06 47.69,303.36 48.52,301.66 49.2,299.97 49.79,298.27 50.32,296.57 50.82,294.87 51.3,293.17 51.77,291.47 52.24,289.77 52.71,288.07 53.17,286.37 53.63,284.67 54.09,282.97 54.54,281.27 54.98,279.57 55.42,277.87 55.85,276.17 56.28,274.47 56.7,272.78 57.11,271.08 57.51,269.38 57.9,267.68 58.28,265.98 58.66,264.28 59.02,262.58 59.37,260.88 59.71,259.18 60.04,257.48 60.36,255.78 60.67,254.08 60.98,252.38 61.28,250.68 61.57,248.98 61.85,247.28 62.13,245.59 62.4,243.89 62.66,242.19 62.91,240.49 63.15,238.79 63.39,237.09 63.61,235.39 63.82,233.69 64.02,231.99 64.22,230.29 64.41,228.59 64.59,226.89 64.77,225.19 64.96,223.49 65.14,221.79 65.33,220.09 65.52,218.4 65.72,216.7 65.93,215 66.14,213.3 66.37,211.6 66.61,209.9 66.88,208.2 67.19,206.5 72.03,206.5 71.73,208.2 71.45,209.9 71.21,211.6 70.97,213.3 70.75,215 70.54,216.7 70.33,218.4 70.14,220.09 69.94,221.79 69.75,223.49 69.56,225.19 69.36,226.89 69.17,228.59 68.97,230.29 68.76,231.99 68.55,233.69 68.33,235.39 68.09,237.09 67.84,238.79 67.58,240.49 67.31,242.19 67.03,243.89 66.73,245.59 66.43,247.28 66.12,248.98 65.8,250.68 65.48,252.38 65.14,254.08 64.8,255.78 64.45,257.48 64.09,259.18 63.73,260.88 63.36,262.58 62.97,264.28 62.57,265.98 62.16,267.68 61.75,269.38 61.32,271.08 60.89,272.78 60.44,274.47 60,276.17 59.54,277.87 59.09,279.57 58.63,281.27 58.16,282.97 57.7,284.67 57.23,286.37 56.76,288.07 56.3,289.77 55.83,291.47 55.38,293.17 54.94,294.87 54.48,296.57 53.98,298.27 53.42,299.97 52.75,301.66 51.96,303.36 51.08,305.06 50.15,306.76 49.21,308.46 48.31,310.16 47.48,311.86 46.72,313.56 45.99,315.26 45.26,316.96 44.5,318.66 43.71,320.36 42.88,322.06 42.04,323.76 41.18,325.46 40.3,327.16 39.41,328.85 38.51,330.55 37.58,332.25 36.63,333.95 35.67,335.65 34.69,337.35 33.68,339.05 32.66,340.75" fill="#8dbee4" stroke="#8dbee4" stroke-width="0.3"/>
<polygon points="32.66,340.75 33.68,339.05 34.69,337.35 35.67,335.65 36.63,333.95 37.58,332.25 38.51,330.55 39.41,328.85 40.3,327.16 41.18,325.46 42.04,323.76 42.88,322.06 43.71,320.36 44.5,318.66 45.26,316.96 45.99,315.26 46.72,313.56 47.48,311.86 48.31,310.16 49.21,308.46 50.15,306.76 51.08,305.06 51.96,303.36 52.75,301.66 53.42,299.97 53.98,298.27 54.48,296.57 54.94,294.87 55.38,293.17 55.83,291.47 56.3,289.77 56.76,288.07 57.23,286.37 57.7,284.67 58.16,282.97 58.63,281.27 59.09,279.57 59.54,277.87 60,276.17 60.44,274.47 60.89,272.78 61.32,271.08 61.75,269.38 62.16,267.68 62.57,265.98 62.97,264.28 63.36,262.58 63.73,260.88 64.09,259.18 64.45,257.48 64.8,255.78 65.14,254.08 65.48,252.38 65.8,250.68 66.12,248.98 66.43,247.28 66.73,245.59 67.03,243.89 67.31,242.19 67.58,240.49 67.84,238.79 68.09,237.09 68.33,235.39 68.55,233.69 68.76,231.99 68.97,230.29 69.17,228.59 69.36,226.89 69.56,225.19 69.75,223.49 69.94,221.79 70.14,220.09 70.33,218.4 70.54,216.7 70.75,215 70.97,213.3 71.21,211.6 71.45,209.9 71.73,208.2 72.03,206.5 76.72,206.5 76.42,208.2 76.14,209.9 75.88,211.6 75.63,213.3 75.39,215 75.16,216.7 74.93,218.4 74.71,220.09 74.49,221.79 74.27,223.49 74.06,225.19 73.84,226.89 73.62,228.59 73.4,230.29 73.18,231.99 72.95,233.69 72.71,235.39 72.47,237.09 72.22,238.79 71.96,240.49 71.7,242.19 71.44,243.89 71.17,245.59 70.9,247.28 70.63,248.98 70.34,250.68 70.05,252.38 69.75,254.08 69.44,255.78 69.11,257.48 68.78,259.18 68.42,260.88 68.05,262.58 67.65,264.28 67.24,265.98 66.81,267.68 66.36,269.38 65.9,271.08 65.42,272.78 64.94,274.47 64.45,276.17 63.95,277.87 63.44,279.57 62.93,281.27 62.42,282.97 61.91,284.67 61.4,286.37 60.89,288.07 60.38,289.77 59.89,291.47 59.41,293.17 58.94,294.87 58.45,296.57 57.93,298.27 57.33,299.97 56.63,301.66 55.8,303.36 54.88,305.06 53.89,306.76 52.88,308.46 51.86,310.16 50.88,311.86 49.89,313.56 48.88,315.26 47.87,316.96 46.85,318.66 45.85,320.36 44.85,322.06 43.85,323.76 42.85,325.46 41.85,327.16 40.86,328.85 39.86,330.55 38.86,332.25 37.87,333.95 36.88,335.65 35.89,337.35 34.9,339.05 33.91,340.75" fill="#77b1de" stroke="#77b1de" stroke-width="0.3"/>
<polygon points="33.91,340.75 34.9,339.05 35.89,337.35 36.88,335.65 37.87,333.95 38.86,332.25 39.86,330.55 40.86,328.85 41.85,327.16 42.85,325.46 43.85,323.76 44.85,322.06 45.85,320.36 46.85,318.66 47.87,316.96 48.88,315.26 49.89,313.56 50.88,311.86 51.86,310.16 52.88,308.46 53.89,306.76 54.88,305.06 55.8,303.36 56.63,301.66 57.33,299.97 57.93,298.27 58.45,296.57 58.94,294.87 59.41,293.17 59.89,291.47 60.38,289.77 60.89,288.07 61.4,286.37 61.91,284.67 62.42,282.97 62.93,281.27 63.44,279.57 63.95,277.87 64.45,276.17 64.94,274.47 65.42,272.78 65.9,271.08 66.36,269.38 66.81,267.68 67.24,265.98 67.65,264.28 68.05,262.58 68.42,260.88 68.78,259.18 69.11,257.48 69.44,255.78 69.75,254.08 70.05,252.38 70.34,250.68 70.63,248.98 70.9,247.28 71.17,245.59 71.44,243.89 71.7,242.19 71.96,240.49 72.22,238.79 72.47,237.09 72.71,235.39 72.95,233.69 73.18,231.99 73.4,230.29 73.62,228.59 73.84,226.89 74.06,225.19 74.27,223.49 74.49,221.79 74.71,220.09 74.93,218.4 75.16,216.7 75.39,215 75.63,213.3 75.88,211.6 76.14,209.9 76.42,208.2 76.72,206.5 83.44,206.5 83.14,208.2 82.85,209.9 82.58,211.6 82.31,213.3 82.05,215 81.79,216.7 81.54,218.4 81.29,220.09 81.04,221.79 80.8,223.49 80.55,225.19 80.3,226.89 80.06,228.59 79.8,230.29 79.55,231.99 79.29,233.69 79.02,235.39 78.75,237.09 78.47,238.79 78.19,240.49 77.9,242.19 77.62,243.89 77.34,245.59 77.05,247.28 76.75,248.98 76.45,250.68 76.14,252.38 75.81,254.08 75.47,255.78 75.11,257.48 74.74,259.18 74.34,260.88 73.9,262.58 73.44,264.28 72.94,265.98 72.42,267.68 71.87,269.38 71.3,271.08 70.72,272.78 70.12,274.47 69.51,276.17 68.9,277.87 68.28,279.57 67.66,281.27 67.04,282.97 66.42,284.67 65.82,286.37 65.23,288.07 64.65,289.77 64.09,291.47 63.58,293.17 63.09,294.87 62.58,296.57 62.03,298.27 61.4,299.97 60.65,301.66 59.74,303.36 58.72,305.06 57.61,306.76 56.45,308.46 55.28,310.16 54.12,311.86 52.89,313.56 51.61,315.26 50.3,316.96 49.03,318.66 47.84,320.36 46.69,322.06 45.54,323.76 44.42,325.46 43.31,327.16 42.21,328.85 41.14,330.55 40.08,332.25 39.05,333.95 38.04,335.65 37.05,337.35 36.09,339.05 35.16,340.75" fill="#60a5d9" stroke="#60a5d9" stroke-width="0.3"/>
<polygon points="35.16,340.75 36.09,339.05 37.05,337.35 38.04,335.65 39.05,333.95 40.08,332.25 41.14,330.55 42.21,328.85 43.31,327.16 44.42,325.46 45.54,323.76 46.69,322.06 47.84,320.36 49.03,318.66 50.3,316.96 51.61,315.26 52.89,313.56 54.12,311.86 55.28,310.16 56.45,308.46 57.61,306.76 58.72,305.06 59.74,303.36 60.65,301.66 61.4,299.97 62.03,298.27 62.58,296.57 63.09,294.87 63.58,293.17 64.09,291.47 64.65,289.77 65.23,288.07 65.82,286.37 66.42,284.67 67.04,282.97 67.66,281.27 68.28,279.57 68.9,277.87 69.51,276.17 70.12,274.47 70.72,272.78 71.3,271.08 71.87,269.38 72.42,267.68 72.94,265.98 73.44,264.28 73.9,262.58 74.34,260.88 74.74,259.18 75.11,257.48 75.47,255.78 75.81,254.08 76.14,252.38 76.45,250.68 76.75,248.98 77.05,247.28 77.34,245.59 77.62,243.89 77.9,242.19 78.19,240.49 78.47,238.79 78.75,237.09 79.02,235.39 79.29,233.69 79.55,231.99 79.8,230.29 80.06,228.59 80.3,226.89 80.55,225.19 80.8,223.49 81.04,221.79 81.29,220.09 81.54,218.4 81.79,216.7 82.05,215 82.31,213.3 82.58,211.6 82.85,209.9 83.14,208.2 83.44,206.5 92.66,206.5 92.46,208.2 92.25,209.9 92.04,211.6 91.83,213.3 91.61,215 91.4,216.7 91.18,218.4 90.95,220.09 90.73,221.79 90.5,223.49 90.26,225.19 90.02,226.89 89.77,228.59 89.52,230.29 89.26,231.99 89,233.69 88.73,235.39 88.45,237.09 88.16,238.79 87.86,240.49 87.56,242.19 87.25,243.89 86.93,245.59 86.59,247.28 86.25,248.98 85.89,250.68 85.51,252.38 85.12,254.08 84.71,255.78 84.28,257.48 83.84,259.18 83.37,260.88 82.87,262.58 82.34,264.28 81.78,265.98 81.2,267.68 80.59,269.38 79.95,271.08 79.29,272.78 78.61,274.47 77.9,276.17 77.18,277.87 76.43,279.57 75.67,281.27 74.89,282.97 74.09,284.67 73.27,286.37 72.44,288.07 71.6,289.77 70.74,291.47 69.81,293.17 68.81,294.87 67.75,296.57 66.66,298.27 65.56,299.97 64.45,301.66 63.34,303.36 62.2,305.06 61.03,306.76 59.81,308.46 58.54,310.16 57.19,311.86 55.67,313.56 54.01,315.26 52.33,316.96 50.75,318.66 49.37,320.36 48.07,322.06 46.81,323.76 45.57,325.46 44.37,327.16 43.21,328.85 42.09,330.55 41.02,332.25 40,333.95 39.04,335.65 38.15,337.35 37.32,339.05 36.56,340.75" fill="#4a98d3" stroke="#4a98d3" stroke-width="0.3"/>
<polygon points="36.56,340.75 37.32,339.05 38.15,337.35 39.04,335.65 40,333.95 41.02,332.25 42.09,330.55 43.21,328.85 44.37,327.16 45.57,325.46 46.81,323.76 48.07,322.06 49.37,320.36 50.75,318.66 52.33,316.96 54.01,315.26 55.67,313.56 57.19,311.86 58.54,310.16 59.81,308.46 61.03,306.76 62.2,305.06 63.34,303.36 64.45,301.66 65.56,299.97 66.66,298.27 67.75,296.57 68.81,294.87 69.81,293.17 70.74,291.47 71.6,289.77 72.44,288.07 73.27,286.37 74.09,284.67 74.89,282.97 75.67,281.27 76.43,279.57 77.18,277.87 77.9,276.17 78.61,274.47 79.29,272.78 79.95,271.08 80.59,269.38 81.2,267.68 81.78,265.98 82.34,264.28 82.87,262.58 83.37,260.88 83.84,259.18 84.28,257.48 84.71,255.78 85.12,254.08 85.51,252.38 85.89,250.68 86.25,248.98 86.59,247.28 86.93,245.59 87.25,243.89 87.56,242.19 87.86,240.49 88.16,238.79 88.45,237.09 88.73,235.39 89,233.69 89.26,231.99 89.52,230.29 89.77,228.59 90.02,226.89 90.26,225.19 90.5,223.49 90.73,221.79 90.95,220.09 91.18,218.4 91.4,216.7 91.61,215 91.83,213.3 92.04,211.6 92.25,209.9 92.46,208.2 92.66,206.5 118.75,206.5 118.47,208.2 118.19,209.9 117.9,211.6 117.61,213.3 117.31,215 117.01,216.7 116.7,218.4 116.38,220.09 116.08,221.79 115.77,223.49 115.47,225.19 115.15,226.89 114.82,228.59 114.47,230.29 114.09,231.99 113.68,233.69 113.23,235.39 112.75,237.09 112.23,238.79 111.68,240.49 111.09,242.19 110.48,243.89 109.83,245.59 109.16,247.28 108.47,248.98 107.76,250.68 107.02,252.38 106.27,254.08 105.5,255.78 104.72,257.48 103.92,259.18 103.11,260.88 102.28,262.58 101.41,264.28 100.51,265.98 99.58,267.68 98.61,269.38 97.6,271.08 96.56,272.78 95.48,274.47 94.36,276.17 93.19,277.87 91.99,279.57 90.74,281.27 89.37,282.97 87.86,284.67 86.26,286.37 84.62,288.07 82.97,289.77 81.35,291.47 79.74,293.17 78.11,294.87 76.47,296.57 74.82,298.27 73.16,299.97 71.51,301.66 69.84,303.36 68.17,305.06 66.5,306.76 64.81,308.46 63.11,310.16 61.4,311.86 59.64,313.56 57.87,315.26 56.11,316.96 54.36,318.66 52.67,320.36 50.98,322.06 49.31,323.76 47.71,325.46 46.23,327.16 44.88,328.85 43.63,330.55 42.52,332.25 41.52,333.95 40.72,335.65 40.18,337.35 39.76,339.05 39.53,340.75" fill="#1879bf" stroke="#1879bf" stroke-width="0.3"/>
<polygon points="39.53,340.75 39.76,339.05 40.18,337.35 40.72,335.65 41.52,333.95 42.52,332.25 43.63,330.55 44.88,328.85 46.23,327.16 47.71,325.46 49.31,323.76 50.98,322.06 52.67,320.36 54.36,318.66 56.11,316.96 57.87,315.26 59.64,313.56 61.4,311.86 63.11,310.16 64.81,308.46 66.5,306.76 68.17,305.06 69.84,303.36 71.51,301.66 73.16,299.97 74.82,298.27 76.47,296.57 78.11,294.87 79.74,293.17 81.35,291.47 82.97,289.77 84.62,288.07 86.26,286.37 87.86,284.67 89.37,282.97 90.74,281.27 91.99,279.57 93.19,277.87 94.36,276.17 95.48,274.47 96.56,272.78 97.6,271.08 98.61,269.38 99.58,267.68 100.51,265.98 101.41,264.28 102.28,262.58 103.11,260.88 103.92,259.18 104.72,257.48 105.5,255.78 106.27,254.08 107.02,252.38 107.76,250.68 108.47,248.98 109.16,247.28 109.83,245.59 110.48,243.89 111.09,242.19 111.68,240.49 112.23,238.79 112.75,237.09 113.23,235.39 113.68,233.69 114.09,231.99 114.47,230.29 114.82,228.59 115.15,226.89 115.47,225.19 115.77,223.49 116.08,221.79 116.38,220.09 116.7,218.4 117.01,216.7 117.31,215 117.61,213.3 117.9,211.6 118.19,209.9 118.47,208.2 118.75,206.5 182.5,206.5 182.5,208.2 182.5,209.9 182.5,211.6 182.5,213.3 182.5,215 182.5,216.7 182.5,218.4 182.5,220.09 182.5,221.79 182.5,223.49 182.5,225.19 182.5,226.89 182.5,228.59 182.5,230.29 182.5,231.99 182.5,233.69 182.5,235.39 182.5,237.09 182.5,238.79 182.5,240.49 182.5,242.19 182.5,243.89 182.5,245.59 182.5,247.28 182.5,248.98 182.5,250.68 182.5,252.38 182.5,254.08 182.5,255.78 182.5,257.48 182.5,259.18 182.5,260.88 182.5,262.58 182.5,264.28 182.5,265.98 182.5,267.68 182.5,269.38 182.5,271.08 182.5,272.78 182.5,274.47 182.5,276.17 182.5,277.87 182.5,279.57 182.5,281.27 182.5,282.97 182.5,284.67 182.5,286.37 182.5,288.07 182.5,289.77 182.5,291.47 182.5,293.17 182.5,294.87 182.5,296.57 182.5,298.27 182.5,299.97 182.5,301.66 182.5,303.36 182.5,305.06 182.5,306.76 182.5,308.46 182.5,310.16 182.5,311.86 182.5,313.56 182.5,315.26 182.5,316.96 182.5,318.66 182.5,320.36 182.5,322.06 182.5,323.76 182.5,325.46 182.5,327.16 182.5,328.85 182.5,330.55 182.5,332.25 182.5,333.95 182.5,335.65 182.5,337.35 182.5,339.05 182.5,340.75" fill="#ff6a26" stroke="#ff6a26" stroke-width="0.3"/>
<polyline points="26.57,316.96 26.94,315.26 27.36,313.56 27.74,311.86 28.05,310.16 28.36,308.46 28.66,306.76 28.97,305.06 29.28,303.36 29.59,301.66 29.92,299.97 30.25,298.27 30.59,296.57 30.93,294.87 31.28,293.17 31.64,291.47 31.99,289.77 32.35,288.07 32.72,286.37 33.09,284.67 33.46,282.97 33.84,281.27 34.22,279.57 34.6,277.87 34.98,276.17 35.36,274.47 35.74,272.78 36.11,271.08 36.48,269.38 36.85,267.68 37.22,265.98 37.58,264.28 37.93,262.58 38.27,260.88 38.61,259.18 38.95,257.48 39.28,255.78 39.61,254.08 39.94,252.38 40.26,250.68 40.58,248.98 40.9,247.28 41.2,245.59 41.51,243.89 41.8,242.19 42.09,240.49 42.38,238.79 42.65,237.09 42.92,235.39 43.17,233.69 43.42,231.99 43.67,230.29 43.91,228.59 44.15,226.89 44.38,225.19 44.62,223.49 44.85,221.79 45.09,220.09 45.33,218.4 45.57,216.7 45.82,215 46.07,213.3 46.33,211.6 46.6,209.9 46.89,208.2 47.19,206.5" fill="none" stroke="#000" stroke-width="0.5"/>
<polyline points="27.66,340.75 27.68,339.05 27.73,337.35 27.82,335.65 27.94,333.95 28.08,332.25 28.26,330.55 28.45,328.85 28.66,327.16 28.88,325.46 29.12,323.76 29.37,322.06 29.62,320.36 29.91,318.66 30.3,316.96 30.75,315.26 31.25,313.56 31.76,311.86 32.31,310.16 32.94,308.46 33.62,306.76 34.31,305.06 34.97,303.36 35.56,301.66 36.03,299.97 36.42,298.27 36.76,296.57 37.08,294.87 37.39,293.17 37.73,291.47 38.1,289.77 38.5,288.07 38.9,286.37 39.32,284.67 39.75,282.97 40.18,281.27 40.62,279.57 41.07,277.87 41.52,276.17 41.96,274.47 42.41,272.78 42.85,271.08 43.28,269.38 43.71,267.68 44.13,265.98 44.53,264.28 44.92,262.58 45.3,260.88 45.65,259.18 46,257.48 46.35,255.78 46.69,254.08 47.02,252.38 47.34,250.68 47.66,248.98 47.97,247.28 48.27,245.59 48.57,243.89 48.85,242.19 49.13,240.49 49.41,238.79 49.67,237.09 49.92,235.39 50.16,233.69 50.39,231.99 50.62,230.29 50.84,228.59 51.05,226.89 51.27,225.19 51.48,223.49 51.69,221.79 51.91,220.09 52.13,218.4 52.35,216.7 52.58,215 52.82,213.3 53.07,211.6 53.33,209.9 53.6,208.2 53.91,206.5" fill="none" stroke="#000" stroke-width="0.5"/>
<polyline points="28.91,340.75 29.23,339.05 29.58,337.35 29.93,335.65 30.3,333.95 30.69,332.25 31.08,330.55 31.48,328.85 31.9,327.16 32.32,325.46 32.75,323.76 33.19,322.06 33.64,320.36 34.1,318.66 34.57,316.96 35.07,315.26 35.59,313.56 36.13,311.86 36.7,310.16 37.33,308.46 37.99,306.76 38.65,305.06 39.29,303.36 39.89,301.66 40.42,299.97 40.89,298.27 41.33,296.57 41.74,294.87 42.14,293.17 42.56,291.47 42.99,289.77 43.43,288.07 43.88,286.37 44.33,284.67 44.78,282.97 45.24,281.27 45.69,279.57 46.15,277.87 46.6,276.17 47.05,274.47 47.49,272.78 47.93,271.08 48.36,269.38 48.77,267.68 49.18,265.98 49.57,264.28 49.94,262.58 50.3,260.88 50.64,259.18 50.97,257.48 51.29,255.78 51.6,254.08 51.89,252.38 52.18,250.68 52.47,248.98 52.74,247.28 53.02,245.59 53.29,243.89 53.56,242.19 53.83,240.49 54.09,238.79 54.36,237.09 54.62,235.39 54.87,233.69 55.12,231.99 55.36,230.29 55.6,228.59 55.84,226.89 56.08,225.19 56.31,223.49 56.55,221.79 56.79,220.09 57.04,218.4 57.28,216.7 57.53,215 57.79,213.3 58.05,211.6 58.32,209.9 58.6,208.2 58.91,206.5" fill="none" stroke="#000" stroke-width="0.5"/>
<polyline points="30.16,340.75 30.86,339.05 31.54,337.35 32.21,335.65 32.85,333.95 33.48,332.25 34.09,330.55 34.68,328.85 35.25,327.16 35.81,325.46 36.35,323.76 36.87,322.06 37.38,320.36 37.85,318.66 38.27,316.96 38.67,315.26 39.09,313.56 39.57,311.86 40.17,310.16 40.91,308.46 41.74,306.76 42.6,305.06 43.44,303.36 44.19,301.66 44.81,299.97 45.33,298.27 45.8,296.57 46.23,294.87 46.65,293.17 47.08,291.47 47.54,289.77 47.99,288.07 48.46,286.37 48.92,284.67 49.39,282.97 49.86,281.27 50.32,279.57 50.79,277.87 51.25,276.17 51.71,274.47 52.15,272.78 52.6,271.08 53.03,269.38 53.45,267.68 53.86,265.98 54.25,264.28 54.63,262.58 54.99,260.88 55.33,259.18 55.67,257.48 55.99,255.78 56.31,254.08 56.61,252.38 56.91,250.68 57.2,248.98 57.48,247.28 57.76,245.59 58.02,243.89 58.28,242.19 58.53,240.49 58.78,238.79 59.01,237.09 59.23,235.39 59.44,233.69 59.65,231.99 59.84,230.29 60.03,228.59 60.22,226.89 60.4,225.19 60.58,223.49 60.77,221.79 60.95,220.09 61.15,218.4 61.34,216.7 61.55,215 61.77,213.3 62,211.6 62.24,209.9 62.51,208.2 62.81,206.5" fill="none" stroke="#000" stroke-width="0.5"/>
<polyline points="31.41,340.75 32.39,339.05 33.33,337.35 34.24,335.65 35.12,333.95 35.96,332.25 36.77,330.55 37.54,328.85 38.29,327.16 39,325.46 39.68,323.76 40.33,322.06 40.95,320.36 41.51,318.66 42,316.96 42.45,315.26 42.92,313.56 43.46,311.86 44.13,310.16 44.95,308.46 45.85,306.76 46.78,305.06 47.69,303.36 48.52,301.66 49.2,299.97 49.79,298.27 50.32,296.57 50.82,294.87 51.3,293.17 51.77,291.47 52.24,289.77 52.71,288.07 53.17,286.37 53.63,284.67 54.09,282.97 54.54,281.27 54.98,279.57 55.42,277.87 55.85,276.17 56.28,274.47 56.7,272.78 57.11,271.08 57.51,269.38 57.9,267.68 58.28,265.98 58.66,264.28 59.02,262.58 59.37,260.88 59.71,259.18 60.04,257.48 60.36,255.78 60.67,254.08 60.98,252.38 61.28,250.68 61.57,248.98 61.85,247.28 62.13,245.59 62.4,243.89 62.66,242.19 62.91,240.49 63.15,238.79 63.39,237.09 63.61,235.39 63.82,233.69 64.02,231.99 64.22,230.29 64.41,228.59 64.59,226.89 64.77,225.19 64.96,223.49 65.14,221.79 65.33,220.09 65.52,218.4 65.72,216.7 65.93,215 66.14,213.3 66.37,211.6 66.61,209.9 66.88,208.2 67.19,206.5" fill="none" stroke="#000" stroke-width="0.5"/>
<polyline points="32.66,340.75 33.68,339.05 34.69,337.35 35.67,335.65 36.63,333.95 37.58,332.25 38.51,330.55 39.41,328.85 40.3,327.16 41.18,325.46 42.04,323.76 42.88,322.06 43.71,320.36 44.5,318.66 45.26,316.96 45.99,315.26 46.72,313.56 47.48,311.86 48.31,310.16 49.21,308.46 50.15,306.76 51.08,305.06 51.96,303.36 52.75,301.66 53.42,299.97 53.98,298.27 54.48,296.57 54.94,294.87 55.38,293.17 55.83,291.47 56.3,289.77 56.76,288.07 57.23,286.37 57.7,284.67 58.16,282.97 58.63,281.27 59.09,279.57 59.54,277.87 60,276.17 60.44,274.47 60.89,272.78 61.32,271.08 61.75,269.38 62.16,267.68 62.57,265.98 62.97,264.28 63.36,262.58 63.73,260.88 64.09,259.18 64.45,257.48 64.8,255.78 65.14,254.08 65.48,252.38 65.8,250.68 66.12,248.98 66.43,247.28 66.73,245.59 67.03,243.89 67.31,242.19 67.58,240.49 67.84,238.79 68.09,237.09 68.33,235.39 68.55,233.69 68.76,231.99 68.97,230.29 69.17,228.59 69.36,226.89 69.56,225.19 69.75,223.49 69.94,221.79 70.14,220.09 70.33,218.4 70.54,216.7 70.75,215 70.97,213.3 71.21,211.6 71.45,209.9 71.73,208.2 72.03,206.5" fill="none" stroke="#000" stroke-width="0.5"/>
<polyline points="33.91,340.75 34.9,339.05 35.89,337.35 36.88,335.65 37.87,333.95 38.86,332.25 39.86,330.55 40.86,328.85 41.85,327.16 42.85,325.46 43.85,323.76 44.85,322.06 45.85,320.36 46.85,318.66 47.87,316.96 48.88,315.26 49.89,313.56 50.88,311.86 51.86,310.16 52.88,308.46 53.89,306.76 54.88,305.06 55.8,303.36 56.63,301.66 57.33,299.97 57.93,298.27 58.45,296.57 58.94,294.87 59.41,293.17 59.89,291.47 60.38,289.77 60.89,288.07 61.4,286.37 61.91,284.67 62.42,282.97 62.93,281.27 63.44,279.57 63.95,277.87 64.45,276.17 64.94,274.47 65.42,272.78 65.9,271.08 66.36,269.38 66.81,267.68 67.24,265.98 67.65,264.28 68.05,262.58 68.42,260.88 68.78,259.18 69.11,257.48 69.44,255.78 69.75,254.08 70.05,252.38 70.34,250.68 70.63,248.98 70.9,247.28 71.17,245.59 71.44,243.89 71.7,242.19 71.96,240.49 72.22,238.79 72.47,237.09 72.71,235.39 72.95,233.69 73.18,231.99 73.4,230.29 73.62,228.59 73.84,226.89 74.06,225.19 74.27,223.49 74.49,221.79 74.71,220.09 74.93,218.4 75.16,216.7 75.39,215 75.63,213.3 75.88,211.6 76.14,209.9 76.42,208.2 76.72,206.5" fill="none" stroke="#000" stroke-width="0.5"/>
<polyline points="35.16,340.75 36.09,339.05 37.05,337.35 38.04,335.65 39.05,333.95 40.08,332.25 41.14,330.55 42.21,328.85 43.31,327.16 44.42,325.46 45.54,323.76 46.69,322.06 47.84,320.36 49.03,318.66 50.3,316.96 51.61,315.26 52.89,313.56 54.12,311.86 55.28,310.16 56.45,308.46 57.61,306.76 58.72,305.06 59.74,303.36 60.65,301.66 61.4,299.97 62.03,298.27 62.58,296.57 63.09,294.87 63.58,293.17 64.09,291.47 64.65,289.77 65.23,288.07 65.82,286.37 66.42,284.67 67.04,282.97 67.66,281.27 68.28,279.57 68.9,277.87 69.51,276.17 70.12,274.47 70.72,272.78 71.3,271.08 71.87,269.38 72.42,267.68 72.94,265.98 73.44,264.28 73.9,262.58 74.34,260.88 74.74,259.18 75.11,257.48 75.47,255.78 75.81,254.08 76.14,252.38 76.45,250.68 76.75,248.98 77.05,247.28 77.34,245.59 77.62,243.89 77.9,242.19 78.19,240.49 78.47,238.79 78.75,237.09 79.02,235.39 79.29,233.69 79.55,231.99 79.8,230.29 80.06,228.59 80.3,226.89 80.55,225.19 80.8,223.49 81.04,221.79 81.29,220.09 81.54,218.4 81.79,216.7 82.05,215 82.31,213.3 82.58,211.6 82.85,209.9 83.14,208.2 83.44,206.5" fill="none" stroke="#000" stroke-width="0.5"/>
<polyline points="36.56,340.75 37.32,339.05 38.15,337.35 39.04,335.65 40,333.95 41.02,332.25 42.09,330.55 43.21,328.85 44.37,327.16 45.57,325.46 46.81,323.76 48.07,322.06 49.37,320.36 50.75,318.66 52.33,316.96 54.01,315.26 55.67,313.56 57.19,311.86 58.54,310.16 59.81,308.46 61.03,306.76 62.2,305.06 63.34,303.36 64.45,301.66 65.56,299.97 66.66,298.27 67.75,296.57 68.81,294.87 69.81,293.17 70.74,291.47 71.6,289.77 72.44,288.07 73.27,286.37 74.09,284.67 74.89,282.97 75.67,281.27 76.43,279.57 77.18,277.87 77.9,276.17 78.61,274.47 79.29,272.78 79.95,271.08 80.59,269.38 81.2,267.68 81.78,265.98 82.34,264.28 82.87,262.58 83.37,260.88 83.84,259.18 84.28,257.48 84.71,255.78 85.12,254.08 85.51,252.38 85.89,250.68 86.25,248.98 86.59,247.28 86.93,245.59 87.25,243.89 87.56,242.19 87.86,240.49 88.16,238.79 88.45,237.09 88.73,235.39 89,233.69 89.26,231.99 89.52,230.29 89.77,228.59 90.02,226.89 90.26,225.19 90.5,223.49 90.73,221.79 90.95,220.09 91.18,218.4 91.4,216.7 91.61,215 91.83,213.3 92.04,211.6 92.25,209.9 92.46,208.2 92.66,206.5" fill="none" stroke="#000" stroke-width="0.5"/>
<polyline points="39.53,340.75 39.76,339.05 40.18,337.35 40.72,335.65 41.52,333.95 42.52,332.25 43.63,330.55 44.88,328.85 46.23,327.16 47.71,325.46 49.31,323.76 50.98,322.06 52.67,320.36 54.36,318.66 56.11,316.96 57.87,315.26 59.64,313.56 61.4,311.86 63.11,310.16 64.81,308.46 66.5,306.76 68.17,305.06 69.84,303.36 71.51,301.66 73.16,299.97 74.82,298.27 76.47,296.57 78.11,294.87 79.74,293.17 81.35,291.47 82.97,289.77 84.62,288.07 86.26,286.37 87.86,284.67 89.37,282.97 90.74,281.27 91.99,279.57 93.19,277.87 94.36,276.17 95.48,274.47 96.56,272.78 97.6,271.08 98.61,269.38 99.58,267.68 100.51,265.98 101.41,264.28 102.28,262.58 103.11,260.88 103.92,259.18 104.72,257.48 105.5,255.78 106.27,254.08 107.02,252.38 107.76,250.68 108.47,248.98 109.16,247.28 109.83,245.59 110.48,243.89 111.09,242.19 111.68,240.49 112.23,238.79 112.75,237.09 113.23,235.39 113.68,233.69 114.09,231.99 114.47,230.29 114.82,228.59 115.15,226.89 115.47,225.19 115.77,223.49 116.08,221.79 116.38,220.09 116.7,218.4 117.01,216.7 117.31,215 117.61,213.3 117.9,211.6 118.19,209.9 118.47,208.2 118.75,206.5" fill="none" stroke="#222" stroke-width="0.45"/>
<rect x="43.39" y="220" width="2.6" height="6" fill="#e6f1fa"/>
<text x="46.19" y="223" font-size="4.2" text-anchor="middle" fill="#000" transform="rotate(-90 46.19 223)">0.1</text>
<rect x="51.15" y="213" width="2.6" height="6" fill="#d0e4f4"/>
<text x="53.95" y="216" font-size="4.2" text-anchor="middle" fill="#000" transform="rotate(-90 53.95 216)">0.2</text>
<rect x="56.08" y="213" width="2.6" height="6" fill="#b9d8ef"/>
<text x="58.88" y="216" font-size="4.2" text-anchor="middle" fill="#000" transform="rotate(-90 58.88 216)">0.3</text>
<rect x="60.13" y="213" width="2.6" height="6" fill="#a3cbe9"/>
<text x="62.93" y="216" font-size="4.2" text-anchor="middle" fill="#000" transform="rotate(-90 62.93 216)">0.4</text>
<rect x="64.5" y="213" width="2.6" height="6" fill="#8dbee4"/>
<text x="67.3" y="216" font-size="4.2" text-anchor="middle" fill="#000" transform="rotate(-90 67.3 216)">0.5</text>
<rect x="69.33" y="213" width="2.6" height="6" fill="#77b1de"/>
<text x="72.13" y="216" font-size="4.2" text-anchor="middle" fill="#000" transform="rotate(-90 72.13 216)">0.6</text>
<rect x="73.95" y="213" width="2.6" height="6" fill="#60a5d9"/>
<text x="76.75" y="216" font-size="4.2" text-anchor="middle" fill="#000" transform="rotate(-90 76.75 216)">0.7</text>
<rect x="80.6" y="213" width="2.6" height="6" fill="#4a98d3"/>
<text x="83.4" y="216" font-size="4.2" text-anchor="middle" fill="#000" transform="rotate(-90 83.4 216)">0.8</text>
<rect x="90.19" y="213" width="2.6" height="6" fill="#1879bf"/>
<text x="92.99" y="216" font-size="4.2" text-anchor="middle" fill="#000" transform="rotate(-90 92.99 216)">0.9</text>
<text x="115.67" y="222" font-size="4.2" text-anchor="middle" fill="#000" transform="rotate(-90 115.67 222)">0.99</text>
<rect x="33.49" y="274" width="2.6" height="6" fill="#e6f1fa"/>
<text x="36.29" y="277" font-size="4.2" text-anchor="middle" fill="#000" transform="rotate(-90 36.29 277)">0.1</text>
<rect x="41.05" y="270" width="2.6" height="6" fill="#d0e4f4"/>
<text x="43.85" y="273" font-size="4.2" text-anchor="middle" fill="#000" transform="rotate(-90 43.85 273)">0.2</text>
<rect x="46.14" y="270" width="2.6" height="6" fill="#b9d8ef"/>
<text x="48.94" y="273" font-size="4.2" text-anchor="middle" fill="#000" transform="rotate(-90 48.94 273)">0.3</text>
<rect x="50.8" y="270" width="2.6" height="6" fill="#a3cbe9"/>
<text x="53.6" y="273" font-size="4.2" text-anchor="middle" fill="#000" transform="rotate(-90 53.6 273)">0.4</text>
<rect x="55.34" y="270" width="2.6" height="6" fill="#8dbee4"/>
<text x="58.14" y="273" font-size="4.2" text-anchor="middle" fill="#000" transform="rotate(-90 58.14 273)">0.5</text>
<rect x="59.53" y="270" width="2.6" height="6" fill="#77b1de"/>
<text x="62.33" y="273" font-size="4.2" text-anchor="middle" fill="#000" transform="rotate(-90 62.33 273)">0.6</text>
<rect x="64.06" y="270" width="2.6" height="6" fill="#60a5d9"/>
<text x="66.86" y="273" font-size="4.2" text-anchor="middle" fill="#000" transform="rotate(-90 66.86 273)">0.7</text>
<rect x="69.34" y="270" width="2.6" height="6" fill="#4a98d3"/>
<text x="72.14" y="273" font-size="4.2" text-anchor="middle" fill="#000" transform="rotate(-90 72.14 273)">0.8</text>
<rect x="77.9" y="270" width="2.6" height="6" fill="#1879bf"/>
<text x="80.7" y="273" font-size="4.2" text-anchor="middle" fill="#000" transform="rotate(-90 80.7 273)">0.9</text>
<text x="94.1" y="276" font-size="4.2" text-anchor="middle" fill="#000" transform="rotate(-90 94.1 276)">0.99</text>
<rect x="27.51" y="323" width="2.6" height="6" fill="#d0e4f4"/>
<text x="30.31" y="326" font-size="4.2" text-anchor="middle" fill="#000" transform="rotate(-90 30.31 326)">0.2</text>
<rect x="30.89" y="323" width="2.6" height="6" fill="#b9d8ef"/>
<text x="33.69" y="326" font-size="4.2" text-anchor="middle" fill="#000" transform="rotate(-90 33.69 326)">0.3</text>
<rect x="34.33" y="323" width="2.6" height="6" fill="#a3cbe9"/>
<text x="37.13" y="326" font-size="4.2" text-anchor="middle" fill="#000" transform="rotate(-90 37.13 326)">0.4</text>
<rect x="37.47" y="323" width="2.6" height="6" fill="#8dbee4"/>
<text x="40.27" y="326" font-size="4.2" text-anchor="middle" fill="#000" transform="rotate(-90 40.27 326)">0.5</text>
<rect x="39.6" y="323" width="2.6" height="6" fill="#77b1de"/>
<text x="42.4" y="326" font-size="4.2" text-anchor="middle" fill="#000" transform="rotate(-90 42.4 326)">0.6</text>
<rect x="41.23" y="323" width="2.6" height="6" fill="#60a5d9"/>
<text x="44.03" y="326" font-size="4.2" text-anchor="middle" fill="#000" transform="rotate(-90 44.03 326)">0.7</text>
<rect x="42.76" y="323" width="2.6" height="6" fill="#4a98d3"/>
<text x="45.56" y="326" font-size="4.2" text-anchor="middle" fill="#000" transform="rotate(-90 45.56 326)">0.8</text>
<rect x="43.88" y="323" width="2.6" height="6" fill="#1879bf"/>
<text x="46.68" y="326" font-size="4.2" text-anchor="middle" fill="#000" transform="rotate(-90 46.68 326)">0.9</text>
<text x="54.66" y="318" font-size="4.2" text-anchor="middle" fill="#000" transform="rotate(-90 54.66 318)">0.99</text>
<line x1="26.25" y1="340.75" x2="27.95" y2="340.75" stroke="#8c8c8c" stroke-width="0.6"/>
<text x="24" y="343.25" font-size="6.8" text-anchor="end" fill="#262626">0</text>
<line x1="26.25" y1="313.9" x2="27.95" y2="313.9" stroke="#8c8c8c" stroke-width="0.6"/>
<text x="24" y="316.4" font-size="6.8" text-anchor="end" fill="#262626">0.2</text>
<line x1="26.25" y1="287.05" x2="27.95" y2="287.05" stroke="#8c8c8c" stroke-width="0.6"/>
<text x="24" y="289.55" font-size="6.8" text-anchor="end" fill="#262626">0.4</text>
<line x1="26.25" y1="260.2" x2="27.95" y2="260.2" stroke="#8c8c8c" stroke-width="0.6"/>
<text x="24" y="262.7" font-size="6.8" text-anchor="end" fill="#262626">0.6</text>
<line x1="26.25" y1="233.35" x2="27.95" y2="233.35" stroke="#8c8c8c" stroke-width="0.6"/>
<text x="24" y="235.85" font-size="6.8" text-anchor="end" fill="#262626">0.8</text>
<line x1="26.25" y1="206.5" x2="27.95" y2="206.5" stroke="#8c8c8c" stroke-width="0.6"/>
<text x="24" y="209" font-size="6.8" text-anchor="end" fill="#262626">1</text>
<line x1="26.25" y1="340.75" x2="26.25" y2="339.05" stroke="#8c8c8c" stroke-width="0.6"/>
<line x1="26.25" y1="206.5" x2="26.25" y2="208.2" stroke="#8c8c8c" stroke-width="0.6"/>
<text x="26.25" y="349.7" font-size="6.8" text-anchor="middle" fill="#262626">0</text>
<line x1="57.5" y1="340.75" x2="57.5" y2="339.05" stroke="#8c8c8c" stroke-width="0.6"/>
<line x1="57.5" y1="206.5" x2="57.5" y2="208.2" stroke="#8c8c8c" stroke-width="0.6"/>
<text x="57.5" y="349.7" font-size="6.8" text-anchor="middle" fill="#262626">0.2</text>
<line x1="88.75" y1="340.75" x2="88.75" y2="339.05" stroke="#8c8c8c" stroke-width="0.6"/>
<line x1="88.75" y1="206.5" x2="88.75" y2="208.2" stroke="#8c8c8c" stroke-width="0.6"/>
<text x="88.75" y="349.7" font-size="6.8" text-anchor="middle" fill="#262626">0.4</text>
<line x1="120" y1="340.75" x2="120" y2="339.05" stroke="#8c8c8c" stroke-width="0.6"/>
<line x1="120" y1="206.5" x2="120" y2="208.2" stroke="#8c8c8c" stroke-width="0.6"/>
<text x="120" y="349.7" font-size="6.8" text-anchor="middle" fill="#262626">0.6</text>
<line x1="151.25" y1="340.75" x2="151.25" y2="339.05" stroke="#8c8c8c" stroke-width="0.6"/>
<line x1="151.25" y1="206.5" x2="151.25" y2="208.2" stroke="#8c8c8c" stroke-width="0.6"/>
<text x="151.25" y="349.7" font-size="6.8" text-anchor="middle" fill="#262626">0.8</text>
<line x1="182.5" y1="340.75" x2="182.5" y2="339.05" stroke="#8c8c8c" stroke-width="0.6"/>
<line x1="182.5" y1="206.5" x2="182.5" y2="208.2" stroke="#8c8c8c" stroke-width="0.6"/>
<text x="182.5" y="349.7" font-size="6.8" text-anchor="middle" fill="#262626">1</text>
<rect x="26.25" y="206.5" width="156.25" height="134.25" fill="none" stroke="#9a9a9a" stroke-width="0.6"/>
<text x="104.6" y="357.2" font-size="6.45" text-anchor="middle" fill="#262626">Fitness Cost (1-&#949;<tspan font-size="4.64" dy="2.71">A</tspan><tspan dy="-2.71"> = 1-&#949;</tspan><tspan font-size="4.64" dy="2.71">B</tspan><tspan dy="-2.71">=1-&#949;</tspan><tspan font-size="4.64" dy="2.71">C</tspan><tspan dy="-2.71">)</tspan></text>
<text x="12.2" y="274.25" font-size="6.3" text-anchor="middle" fill="#262626" transform="rotate(-90 12.2 274.25)">Rate of Homing (&#934;)</text>
<defs><linearGradient id="cbg1" x1="0" y1="1" x2="0" y2="0"><stop offset="0" stop-color="#f7fbff"/><stop offset="0.25" stop-color="#cfe2f3"/><stop offset="0.5" stop-color="#8dbde2"/><stop offset="0.7" stop-color="#4f9bd3"/><stop offset="0.85" stop-color="#2680c4"/><stop offset="1" stop-color="#1570b7"/></linearGradient></defs>
<rect x="190.8" y="206.3" width="5.9" height="134.7" fill="url(#cbg1)"/>
<rect x="190.8" y="206.3" width="5.9" height="2.2" fill="#ff6a26"/>
<rect x="190.8" y="206.3" width="5.9" height="134.7" fill="none" stroke="#8c8c8c" stroke-width="0.6"/>
<line x1="195.2" y1="341" x2="196.7" y2="341" stroke="#555" stroke-width="0.6"/>
<text x="198.8" y="343.44" font-size="6.6" text-anchor="start" fill="#262626">0</text>
<line x1="195.2" y1="314.25" x2="196.7" y2="314.25" stroke="#555" stroke-width="0.6"/>
<text x="198.8" y="316.69" font-size="6.6" text-anchor="start" fill="#262626">0.2</text>
<line x1="195.2" y1="287.5" x2="196.7" y2="287.5" stroke="#555" stroke-width="0.6"/>
<text x="198.8" y="289.94" font-size="6.6" text-anchor="start" fill="#262626">0.4</text>
<line x1="195.2" y1="260.75" x2="196.7" y2="260.75" stroke="#555" stroke-width="0.6"/>
<text x="198.8" y="263.19" font-size="6.6" text-anchor="start" fill="#262626">0.6</text>
<line x1="195.2" y1="234" x2="196.7" y2="234" stroke="#555" stroke-width="0.6"/>
<text x="198.8" y="236.44" font-size="6.6" text-anchor="start" fill="#262626">0.8</text>
<line x1="195.2" y1="207.25" x2="196.7" y2="207.25" stroke="#555" stroke-width="0.6"/>
<text x="199.6" y="209.69" font-size="6.6" text-anchor="start" fill="#000" font-weight="bold">1</text>
<text x="215.3" y="277.9" font-size="7.0" text-anchor="middle" fill="#000" transform="rotate(-90 215.3 277.9)">Threshold Introduction Frequency</text>
<text x="222.5" y="207" font-size="14.3" text-anchor="start" fill="#000">(d)</text>
<line x1="252.5" y1="340.75" x2="254.2" y2="340.75" stroke="#8c8c8c" stroke-width="0.6"/>
<line x1="425" y1="340.75" x2="423.3" y2="340.75" stroke="#8c8c8c" stroke-width="0.6"/>
<text x="250.3" y="343.25" font-size="6.8" text-anchor="end" fill="#262626">0</text>
<line x1="252.5" y1="313.9" x2="254.2" y2="313.9" stroke="#8c8c8c" stroke-width="0.6"/>
<line x1="425" y1="313.9" x2="423.3" y2="313.9" stroke="#8c8c8c" stroke-width="0.6"/>
<text x="250.3" y="316.4" font-size="6.8" text-anchor="end" fill="#262626">0.2</text>
<line x1="252.5" y1="287.05" x2="254.2" y2="287.05" stroke="#8c8c8c" stroke-width="0.6"/>
<line x1="425" y1="287.05" x2="423.3" y2="287.05" stroke="#8c8c8c" stroke-width="0.6"/>
<text x="250.3" y="289.55" font-size="6.8" text-anchor="end" fill="#262626">0.4</text>
<line x1="252.5" y1="260.2" x2="254.2" y2="260.2" stroke="#8c8c8c" stroke-width="0.6"/>
<line x1="425" y1="260.2" x2="423.3" y2="260.2" stroke="#8c8c8c" stroke-width="0.6"/>
<text x="250.3" y="262.7" font-size="6.8" text-anchor="end" fill="#262626">0.6</text>
<line x1="252.5" y1="233.35" x2="254.2" y2="233.35" stroke="#8c8c8c" stroke-width="0.6"/>
<line x1="425" y1="233.35" x2="423.3" y2="233.35" stroke="#8c8c8c" stroke-width="0.6"/>
<text x="250.3" y="235.85" font-size="6.8" text-anchor="end" fill="#262626">0.8</text>
<line x1="252.5" y1="206.5" x2="254.2" y2="206.5" stroke="#8c8c8c" stroke-width="0.6"/>
<line x1="425" y1="206.5" x2="423.3" y2="206.5" stroke="#8c8c8c" stroke-width="0.6"/>
<text x="250.3" y="209" font-size="6.8" text-anchor="end" fill="#262626">1</text>
<line x1="252.5" y1="340.75" x2="252.5" y2="339.05" stroke="#8c8c8c" stroke-width="0.6"/>
<line x1="252.5" y1="206.5" x2="252.5" y2="208.2" stroke="#8c8c8c" stroke-width="0.6"/>
<text x="252.5" y="349.7" font-size="6.8" text-anchor="middle" fill="#262626">0</text>
<line x1="287" y1="340.75" x2="287" y2="339.05" stroke="#8c8c8c" stroke-width="0.6"/>
<line x1="287" y1="206.5" x2="287" y2="208.2" stroke="#8c8c8c" stroke-width="0.6"/>
<text x="287" y="349.7" font-size="6.8" text-anchor="middle" fill="#262626">0.2</text>
<line x1="321.5" y1="340.75" x2="321.5" y2="339.05" stroke="#8c8c8c" stroke-width="0.6"/>
<line x1="321.5" y1="206.5" x2="321.5" y2="208.2" stroke="#8c8c8c" stroke-width="0.6"/>
<text x="321.5" y="349.7" font-size="6.8" text-anchor="middle" fill="#262626">0.4</text>
<line x1="356" y1="340.75" x2="356" y2="339.05" stroke="#8c8c8c" stroke-width="0.6"/>
<line x1="356" y1="206.5" x2="356" y2="208.2" stroke="#8c8c8c" stroke-width="0.6"/>
<text x="356" y="349.7" font-size="6.8" text-anchor="middle" fill="#262626">0.6</text>
<line x1="390.5" y1="340.75" x2="390.5" y2="339.05" stroke="#8c8c8c" stroke-width="0.6"/>
<line x1="390.5" y1="206.5" x2="390.5" y2="208.2" stroke="#8c8c8c" stroke-width="0.6"/>
<text x="390.5" y="349.7" font-size="6.8" text-anchor="middle" fill="#262626">0.8</text>
<line x1="425" y1="340.75" x2="425" y2="339.05" stroke="#8c8c8c" stroke-width="0.6"/>
<line x1="425" y1="206.5" x2="425" y2="208.2" stroke="#8c8c8c" stroke-width="0.6"/>
<text x="425" y="349.7" font-size="6.8" text-anchor="middle" fill="#262626">1</text>
<rect x="252.5" y="206.5" width="172.5" height="134.25" fill="none" stroke="#9a9a9a" stroke-width="0.6"/>
<polyline points="252.5,340.75 252.9,340.75 253.31,340.75 253.71,340.75 254.12,340.74 254.52,340.74 254.92,340.73 255.33,340.71 255.73,340.69 256.13,340.67 256.54,340.64 256.94,340.61 257.35,340.57 257.75,340.52 258.15,340.46 258.56,340.4 258.96,340.33 259.37,340.25 259.77,340.16 260.17,340.06 260.58,339.95 260.98,339.83 261.38,339.7 261.79,339.56 262.19,339.4 262.6,339.24 263,339.06 263.4,338.86 263.81,338.66 264.21,338.44 264.62,338.2 265.02,337.96 265.42,337.69 265.83,337.41 266.23,337.12 266.63,336.81 267.04,336.48 267.44,336.14 267.85,335.78 268.25,335.41 268.65,335.01 269.06,334.6 269.46,334.18 269.87,333.73 270.27,333.27 270.67,332.79 271.08,332.3 271.48,331.78 271.88,331.25 272.29,330.7 272.69,330.13 273.1,329.54 273.5,328.93 273.9,328.31 274.31,327.67 274.71,327.01 275.12,326.34 275.52,325.64 275.92,324.93 276.33,324.2 276.73,323.46 277.13,322.7 277.54,321.92 277.94,321.12 278.35,320.31 278.75,319.48 279.15,318.64 279.56,317.78 279.96,316.91 280.37,316.02 280.77,315.12 281.17,314.2 281.58,313.28 281.98,312.33 282.38,311.38 282.79,310.41 283.19,309.44 283.6,308.45 284,307.45 284.4,306.44 284.81,305.42 285.21,304.39 285.62,303.35 286.02,302.3 286.42,301.25 286.83,300.19 287.23,299.12 287.63,298.05 288.04,296.97 288.44,295.88 288.85,294.79 289.25,293.7 289.65,292.6 290.06,291.51 290.46,290.4 290.87,289.3 291.27,288.2 291.67,287.09 292.08,285.99 292.48,284.88 292.88,283.78 293.29,282.67 293.69,281.57 294.1,280.47 294.5,279.38 294.9,278.28 295.31,277.2 295.71,276.11 296.12,275.03 296.52,273.95 296.92,272.88 297.33,271.82 297.73,270.76 298.13,269.71 298.54,268.67 298.94,267.63 299.35,266.6 299.75,265.58 300.15,264.56 300.56,263.56 300.96,262.56 301.37,261.57 301.77,260.59 302.17,259.62 302.58,258.67 302.98,257.72 303.38,256.78 303.79,255.85 304.19,254.93 304.6,254.02 305,253.13 305.4,252.24 305.81,251.37 306.21,250.5 306.62,249.65 307.02,248.81 307.42,247.98 307.83,247.16 308.23,246.36 308.63,245.56 309.04,244.78 309.44,244.01 309.85,243.25 310.25,242.5 310.65,241.76 311.06,241.04 311.46,240.33 311.87,239.63 312.27,238.94 312.67,238.26 313.08,237.59 313.48,236.93 313.88,236.29 314.29,235.66 314.69,235.04 315.1,234.43 315.5,233.83 315.9,233.24 316.31,232.66 316.71,232.09 317.12,231.54 317.52,230.99 317.92,230.45 318.33,229.93 318.73,229.41 319.13,228.91 319.54,228.41 319.94,227.93 320.35,227.45 320.75,226.99 321.15,226.53 321.56,226.08 321.96,225.65 322.37,225.22 322.77,224.8 323.17,224.38 323.58,223.98 323.98,223.59 324.38,223.2 324.79,222.82 325.19,222.45 325.6,222.09 326,221.74 326.4,221.39 326.81,221.05 327.21,220.72 327.62,220.4 328.02,220.08 328.42,219.77 328.83,219.46 329.23,219.17 329.63,218.88 330.04,218.59 330.44,218.32 330.85,218.05 331.25,217.78 331.65,217.52 332.06,217.27 332.46,217.02 332.87,216.78 333.27,216.55 333.67,216.31 334.08,216.09 334.48,215.87 334.88,215.65 335.29,215.44 335.69,215.24 336.1,215.04 336.5,214.84 336.9,214.65 337.31,214.46 337.71,214.28 338.12,214.1 338.52,213.93 338.92,213.76 339.33,213.59 339.73,213.43 340.13,213.27 340.54,213.12 340.94,212.97 341.35,212.82 341.75,212.67 342.15,212.53 342.56,212.4 342.96,212.26 343.37,212.13 343.77,212 344.17,211.88 344.58,211.76 344.98,211.64 345.38,211.52 345.79,211.41 346.19,211.3 346.6,211.19 347,211.08 347.4,210.98 347.81,210.88 348.21,210.78 348.62,210.68 349.02,210.59 349.42,210.5 349.83,210.41 350.23,210.32 350.63,210.24 351.04,210.15 351.44,210.07 351.85,209.99 352.25,209.92 352.65,209.84 353.06,209.77 353.46,209.69 353.87,209.62 354.27,209.55 354.67,209.49 355.08,209.42 355.48,209.36 355.88,209.29 356.29,209.23 356.69,209.17 357.1,209.12 357.5,209.06 357.9,209 358.31,208.95 358.71,208.9 359.12,208.84 359.52,208.79 359.92,208.74 360.33,208.7 360.73,208.65 361.13,208.6 361.54,208.56 361.94,208.51 362.35,208.47 362.75,208.43 363.15,208.39 363.56,208.35 363.96,208.31 364.37,208.27 364.77,208.23 365.17,208.2 365.58,208.16 365.98,208.13 366.38,208.09 366.79,208.06 367.19,208.03 367.6,207.99 368,207.96 368.4,207.93 368.81,207.9 369.21,207.87 369.62,207.84 370.02,207.82 370.42,207.79 370.83,207.76 371.23,207.74 371.63,207.71 372.04,207.69 372.44,207.66 372.85,207.64 373.25,207.62 374.98,207.52 380.53,207.28 386.09,207.09 391.65,206.96 397.21,206.85 402.77,206.78 408.32,206.72 413.88,206.67 419.44,206.64 425,206.61" fill="none" stroke="#0f0faf" stroke-width="1.2"/>
<polyline points="252.5,340.75 252.9,340.75 253.31,340.75 253.71,340.75 254.12,340.74 254.52,340.73 254.92,340.72 255.33,340.71 255.73,340.69 256.13,340.66 256.54,340.63 256.94,340.6 257.35,340.55 257.75,340.5 258.15,340.44 258.56,340.38 258.96,340.3 259.37,340.21 259.77,340.12 260.17,340.01 260.58,339.9 260.98,339.77 261.38,339.63 261.79,339.48 262.19,339.31 262.6,339.14 263,338.95 263.4,338.74 263.81,338.52 264.21,338.29 264.62,338.04 265.02,337.78 265.42,337.5 265.83,337.21 266.23,336.9 266.63,336.57 267.04,336.22 267.44,335.86 267.85,335.49 268.25,335.09 268.65,334.68 269.06,334.25 269.46,333.8 269.87,333.33 270.27,332.85 270.67,332.34 271.08,331.82 271.48,331.28 271.88,330.72 272.29,330.15 272.69,329.55 273.1,328.94 273.5,328.3 273.9,327.65 274.31,326.98 274.71,326.3 275.12,325.59 275.52,324.87 275.92,324.13 276.33,323.37 276.73,322.6 277.13,321.8 277.54,320.99 277.94,320.17 278.35,319.33 278.75,318.47 279.15,317.6 279.56,316.71 279.96,315.81 280.37,314.89 280.77,313.96 281.17,313.01 281.58,312.06 281.98,311.09 282.38,310.1 282.79,309.11 283.19,308.1 283.6,307.09 284,306.06 284.4,305.02 284.81,303.98 285.21,302.93 285.62,301.86 286.02,300.79 286.42,299.72 286.83,298.63 287.23,297.54 287.63,296.45 288.04,295.35 288.44,294.25 288.85,293.14 289.25,292.03 289.65,290.92 290.06,289.8 290.46,288.69 290.87,287.57 291.27,286.45 291.67,285.34 292.08,284.22 292.48,283.1 292.88,281.99 293.29,280.88 293.69,279.77 294.1,278.67 294.5,277.56 294.9,276.47 295.31,275.37 295.71,274.29 296.12,273.2 296.52,272.13 296.92,271.06 297.33,270 297.73,268.94 298.13,267.89 298.54,266.85 298.94,265.82 299.35,264.79 299.75,263.77 300.15,262.77 300.56,261.77 300.96,260.78 301.37,259.8 301.77,258.83 302.17,257.87 302.58,256.93 302.98,255.99 303.38,255.06 303.79,254.15 304.19,253.24 304.6,252.35 305,251.47 305.4,250.59 305.81,249.74 306.21,248.89 306.62,248.05 307.02,247.23 307.42,246.41 307.83,245.61 308.23,244.82 308.63,244.05 309.04,243.28 309.44,242.53 309.85,241.79 310.25,241.06 310.65,240.34 311.06,239.64 311.46,238.94 311.87,238.26 312.27,237.59 312.67,236.93 313.08,236.28 313.48,235.65 313.88,235.02 314.29,234.41 314.69,233.81 315.1,233.22 315.5,232.63 315.9,232.07 316.31,231.51 316.71,230.96 317.12,230.42 317.52,229.9 317.92,229.38 318.33,228.87 318.73,228.38 319.13,227.89 319.54,227.41 319.94,226.95 320.35,226.49 320.75,226.04 321.15,225.6 321.56,225.17 321.96,224.75 322.37,224.34 322.77,223.94 323.17,223.54 323.58,223.16 323.98,222.78 324.38,222.41 324.79,222.05 325.19,221.69 325.6,221.35 326,221.01 326.4,220.68 326.81,220.35 327.21,220.04 327.62,219.73 328.02,219.42 328.42,219.13 328.83,218.84 329.23,218.55 329.63,218.28 330.04,218.01 330.44,217.74 330.85,217.49 331.25,217.23 331.65,216.99 332.06,216.75 332.46,216.51 332.87,216.28 333.27,216.06 333.67,215.84 334.08,215.62 334.48,215.41 334.88,215.21 335.29,215.01 335.69,214.81 336.1,214.62 336.5,214.44 336.9,214.25 337.31,214.08 337.71,213.9 338.12,213.73 338.52,213.57 338.92,213.41 339.33,213.25 339.73,213.09 340.13,212.94 340.54,212.8 340.94,212.65 341.35,212.51 341.75,212.38 342.15,212.24 342.56,212.11 342.96,211.99 343.37,211.86 343.77,211.74 344.17,211.62 344.58,211.51 344.98,211.39 345.38,211.28 345.79,211.18 346.19,211.07 346.6,210.97 347,210.87 347.4,210.77 347.81,210.67 348.21,210.58 348.62,210.49 349.02,210.4 349.42,210.31 349.83,210.23 350.23,210.15 350.63,210.07 351.04,209.99 351.44,209.91 351.85,209.83 352.25,209.76 352.65,209.69 353.06,209.62 353.46,209.55 353.87,209.48 354.27,209.42 354.67,209.35 355.08,209.29 355.48,209.23 355.88,209.17 356.29,209.11 356.69,209.06 357.1,209 357.5,208.95 357.9,208.9 358.31,208.84 358.71,208.79 359.12,208.74 359.52,208.7 359.92,208.65 360.33,208.6 360.73,208.56 361.13,208.52 361.54,208.47 361.94,208.43 362.35,208.39 362.75,208.35 363.15,208.31 363.56,208.27 363.96,208.24 364.37,208.2 364.77,208.16 365.17,208.13 365.58,208.09 365.98,208.06 366.38,208.03 366.79,208 367.19,207.97 367.6,207.94 368,207.91 368.4,207.88 368.81,207.85 369.21,207.82 369.62,207.79 370.02,207.77 370.42,207.74 370.83,207.72 371.23,207.69 371.63,207.67 372.04,207.64 372.44,207.62 372.85,207.6 373.25,207.58 374.98,207.49 380.53,207.25 386.09,207.08 391.65,206.95 397.21,206.85 402.77,206.77 408.32,206.71 413.88,206.67 419.44,206.64 425,206.61" fill="none" stroke="#1423c8" stroke-width="1.2"/>
<polyline points="252.5,340.75 252.9,340.75 253.31,340.75 253.71,340.75 254.12,340.74 254.52,340.73 254.92,340.72 255.33,340.7 255.73,340.68 256.13,340.65 256.54,340.62 256.94,340.58 257.35,340.53 257.75,340.48 258.15,340.42 258.56,340.34 258.96,340.26 259.37,340.17 259.77,340.07 260.17,339.95 260.58,339.83 260.98,339.69 261.38,339.54 261.79,339.38 262.19,339.2 262.6,339.01 263,338.81 263.4,338.59 263.81,338.36 264.21,338.11 264.62,337.85 265.02,337.57 265.42,337.28 265.83,336.96 266.23,336.63 266.63,336.29 267.04,335.92 267.44,335.54 267.85,335.14 268.25,334.73 268.65,334.29 269.06,333.84 269.46,333.36 269.87,332.87 270.27,332.36 270.67,331.84 271.08,331.29 271.48,330.72 271.88,330.14 272.29,329.53 272.69,328.91 273.1,328.27 273.5,327.61 273.9,326.93 274.31,326.23 274.71,325.51 275.12,324.78 275.52,324.03 275.92,323.26 276.33,322.47 276.73,321.66 277.13,320.84 277.54,320 277.94,319.14 278.35,318.27 278.75,317.39 279.15,316.48 279.56,315.57 279.96,314.63 280.37,313.69 280.77,312.73 281.17,311.75 281.58,310.77 281.98,309.77 282.38,308.76 282.79,307.74 283.19,306.7 283.6,305.66 284,304.61 284.4,303.55 284.81,302.48 285.21,301.4 285.62,300.31 286.02,299.22 286.42,298.12 286.83,297.02 287.23,295.91 287.63,294.79 288.04,293.67 288.44,292.55 288.85,291.43 289.25,290.3 289.65,289.17 290.06,288.04 290.46,286.91 290.87,285.78 291.27,284.65 291.67,283.52 292.08,282.4 292.48,281.27 292.88,280.15 293.29,279.03 293.69,277.91 294.1,276.8 294.5,275.69 294.9,274.59 295.31,273.49 295.71,272.4 296.12,271.32 296.52,270.24 296.92,269.17 297.33,268.11 297.73,267.05 298.13,266 298.54,264.96 298.94,263.93 299.35,262.91 299.75,261.9 300.15,260.9 300.56,259.91 300.96,258.92 301.37,257.95 301.77,256.99 302.17,256.04 302.58,255.1 302.98,254.17 303.38,253.26 303.79,252.35 304.19,251.46 304.6,250.58 305,249.7 305.4,248.85 305.81,248 306.21,247.17 306.62,246.34 307.02,245.53 307.42,244.73 307.83,243.95 308.23,243.17 308.63,242.41 309.04,241.66 309.44,240.92 309.85,240.2 310.25,239.49 310.65,238.79 311.06,238.1 311.46,237.42 311.87,236.75 312.27,236.1 312.67,235.46 313.08,234.83 313.48,234.21 313.88,233.6 314.29,233.01 314.69,232.42 315.1,231.85 315.5,231.28 315.9,230.73 316.31,230.19 316.71,229.66 317.12,229.14 317.52,228.63 317.92,228.13 318.33,227.64 318.73,227.16 319.13,226.7 319.54,226.24 319.94,225.79 320.35,225.35 320.75,224.91 321.15,224.49 321.56,224.08 321.96,223.68 322.37,223.28 322.77,222.89 323.17,222.51 323.58,222.14 323.98,221.78 324.38,221.43 324.79,221.08 325.19,220.74 325.6,220.41 326,220.09 326.4,219.77 326.81,219.46 327.21,219.16 327.62,218.87 328.02,218.58 328.42,218.29 328.83,218.02 329.23,217.75 329.63,217.49 330.04,217.23 330.44,216.98 330.85,216.73 331.25,216.49 331.65,216.26 332.06,216.03 332.46,215.81 332.87,215.59 333.27,215.38 333.67,215.17 334.08,214.97 334.48,214.77 334.88,214.58 335.29,214.39 335.69,214.2 336.1,214.02 336.5,213.85 336.9,213.68 337.31,213.51 337.71,213.35 338.12,213.19 338.52,213.03 338.92,212.88 339.33,212.73 339.73,212.59 340.13,212.45 340.54,212.31 340.94,212.17 341.35,212.04 341.75,211.91 342.15,211.79 342.56,211.67 342.96,211.55 343.37,211.43 343.77,211.32 344.17,211.21 344.58,211.1 344.98,210.99 345.38,210.89 345.79,210.79 346.19,210.69 346.6,210.6 347,210.5 347.4,210.41 347.81,210.32 348.21,210.24 348.62,210.15 349.02,210.07 349.42,209.99 349.83,209.91 350.23,209.83 350.63,209.76 351.04,209.68 351.44,209.61 351.85,209.54 352.25,209.47 352.65,209.41 353.06,209.34 353.46,209.28 353.87,209.22 354.27,209.16 354.67,209.1 355.08,209.04 355.48,208.98 355.88,208.93 356.29,208.88 356.69,208.82 357.1,208.77 357.5,208.72 357.9,208.67 358.31,208.63 358.71,208.58 359.12,208.53 359.52,208.49 359.92,208.45 360.33,208.4 360.73,208.36 361.13,208.32 361.54,208.28 361.94,208.24 362.35,208.21 362.75,208.17 363.15,208.13 363.56,208.1 363.96,208.07 364.37,208.03 364.77,208 365.17,207.97 365.58,207.94 365.98,207.91 366.38,207.88 366.79,207.85 367.19,207.82 367.6,207.79 368,207.76 368.4,207.74 368.81,207.71 369.21,207.69 369.62,207.66 370.02,207.64 370.42,207.61 370.83,207.59 371.23,207.57 371.63,207.55 372.04,207.53 372.44,207.5 372.85,207.48 373.25,207.46 374.98,207.38 380.53,207.17 386.09,207.01 391.65,206.89 397.21,206.8 402.77,206.74 408.32,206.69 413.88,206.65 419.44,206.62 425,206.59" fill="none" stroke="#1e3cd2" stroke-width="1.2"/>
<polyline points="252.5,340.75 252.9,340.75 253.31,340.75 253.71,340.74 254.12,340.74 254.52,340.73 254.92,340.71 255.33,340.69 255.73,340.66 256.13,340.63 256.54,340.59 256.94,340.54 257.35,340.49 257.75,340.42 258.15,340.35 258.56,340.26 258.96,340.16 259.37,340.06 259.77,339.94 260.17,339.81 260.58,339.67 260.98,339.51 261.38,339.34 261.79,339.16 262.19,338.96 262.6,338.75 263,338.52 263.4,338.28 263.81,338.02 264.21,337.74 264.62,337.45 265.02,337.14 265.42,336.82 265.83,336.48 266.23,336.12 266.63,335.74 267.04,335.34 267.44,334.93 267.85,334.5 268.25,334.04 268.65,333.58 269.06,333.09 269.46,332.58 269.87,332.05 270.27,331.51 270.67,330.94 271.08,330.36 271.48,329.76 271.88,329.14 272.29,328.5 272.69,327.84 273.1,327.16 273.5,326.47 273.9,325.75 274.31,325.02 274.71,324.27 275.12,323.5 275.52,322.72 275.92,321.91 276.33,321.09 276.73,320.26 277.13,319.4 277.54,318.53 277.94,317.65 278.35,316.75 278.75,315.83 279.15,314.9 279.56,313.96 279.96,313 280.37,312.03 280.77,311.05 281.17,310.05 281.58,309.05 281.98,308.03 282.38,307 282.79,305.96 283.19,304.91 283.6,303.85 284,302.78 284.4,301.7 284.81,300.62 285.21,299.53 285.62,298.43 286.02,297.33 286.42,296.22 286.83,295.11 287.23,293.99 287.63,292.87 288.04,291.75 288.44,290.62 288.85,289.5 289.25,288.37 289.65,287.24 290.06,286.11 290.46,284.98 290.87,283.85 291.27,282.72 291.67,281.6 292.08,280.47 292.48,279.35 292.88,278.24 293.29,277.12 293.69,276.01 294.1,274.91 294.5,273.81 294.9,272.72 295.31,271.63 295.71,270.55 296.12,269.47 296.52,268.41 296.92,267.35 297.33,266.3 297.73,265.25 298.13,264.22 298.54,263.19 298.94,262.18 299.35,261.17 299.75,260.17 300.15,259.19 300.56,258.21 300.96,257.24 301.37,256.29 301.77,255.34 302.17,254.41 302.58,253.48 302.98,252.57 303.38,251.67 303.79,250.78 304.19,249.9 304.6,249.04 305,248.19 305.4,247.34 305.81,246.51 306.21,245.7 306.62,244.89 307.02,244.1 307.42,243.31 307.83,242.55 308.23,241.79 308.63,241.04 309.04,240.31 309.44,239.59 309.85,238.88 310.25,238.18 310.65,237.5 311.06,236.82 311.46,236.16 311.87,235.51 312.27,234.88 312.67,234.25 313.08,233.64 313.48,233.03 313.88,232.44 314.29,231.86 314.69,231.29 315.1,230.73 315.5,230.18 315.9,229.65 316.31,229.12 316.71,228.6 317.12,228.1 317.52,227.6 317.92,227.12 318.33,226.64 318.73,226.18 319.13,225.72 319.54,225.28 319.94,224.84 320.35,224.41 320.75,223.99 321.15,223.58 321.56,223.18 321.96,222.79 322.37,222.41 322.77,222.03 323.17,221.67 323.58,221.31 323.98,220.96 324.38,220.62 324.79,220.28 325.19,219.95 325.6,219.63 326,219.32 326.4,219.01 326.81,218.72 327.21,218.42 327.62,218.14 328.02,217.86 328.42,217.59 328.83,217.32 329.23,217.06 329.63,216.81 330.04,216.56 330.44,216.32 330.85,216.09 331.25,215.86 331.65,215.63 332.06,215.41 332.46,215.2 332.87,214.99 333.27,214.78 333.67,214.59 334.08,214.39 334.48,214.2 334.88,214.02 335.29,213.84 335.69,213.66 336.1,213.49 336.5,213.32 336.9,213.16 337.31,213 337.71,212.84 338.12,212.69 338.52,212.54 338.92,212.39 339.33,212.25 339.73,212.12 340.13,211.98 340.54,211.85 340.94,211.72 341.35,211.6 341.75,211.48 342.15,211.36 342.56,211.24 342.96,211.13 343.37,211.02 343.77,210.91 344.17,210.81 344.58,210.7 344.98,210.6 345.38,210.51 345.79,210.41 346.19,210.32 346.6,210.23 347,210.14 347.4,210.05 347.81,209.97 348.21,209.89 348.62,209.81 349.02,209.73 349.42,209.66 349.83,209.58 350.23,209.51 350.63,209.44 351.04,209.37 351.44,209.3 351.85,209.24 352.25,209.18 352.65,209.11 353.06,209.05 353.46,208.99 353.87,208.94 354.27,208.88 354.67,208.82 355.08,208.77 355.48,208.72 355.88,208.67 356.29,208.62 356.69,208.57 357.1,208.52 357.5,208.48 357.9,208.43 358.31,208.39 358.71,208.34 359.12,208.3 359.52,208.26 359.92,208.22 360.33,208.18 360.73,208.14 361.13,208.11 361.54,208.07 361.94,208.04 362.35,208 362.75,207.97 363.15,207.94 363.56,207.9 363.96,207.87 364.37,207.84 364.77,207.81 365.17,207.78 365.58,207.75 365.98,207.73 366.38,207.7 366.79,207.67 367.19,207.65 367.6,207.62 368,207.6 368.4,207.57 368.81,207.55 369.21,207.53 369.62,207.51 370.02,207.48 370.42,207.46 370.83,207.44 371.23,207.42 371.63,207.4 372.04,207.38 372.44,207.36 372.85,207.34 373.25,207.33 374.98,207.25 380.53,207.06 386.09,206.92 391.65,206.82 397.21,206.75 402.77,206.69 408.32,206.65 413.88,206.62 419.44,206.59 425,206.57" fill="none" stroke="#3764d7" stroke-width="1.2"/>
<polyline points="252.5,340.75 252.9,340.75 253.31,340.75 253.71,340.74 254.12,340.74 254.52,340.72 254.92,340.71 255.33,340.68 255.73,340.65 256.13,340.62 256.54,340.57 256.94,340.52 257.35,340.46 257.75,340.38 258.15,340.3 258.56,340.21 258.96,340.1 259.37,339.98 259.77,339.85 260.17,339.71 260.58,339.55 260.98,339.38 261.38,339.2 261.79,339 262.19,338.78 262.6,338.55 263,338.3 263.4,338.04 263.81,337.76 264.21,337.46 264.62,337.15 265.02,336.81 265.42,336.46 265.83,336.09 266.23,335.71 266.63,335.3 267.04,334.87 267.44,334.43 267.85,333.96 268.25,333.48 268.65,332.98 269.06,332.46 269.46,331.91 269.87,331.35 270.27,330.77 270.67,330.17 271.08,329.55 271.48,328.91 271.88,328.25 272.29,327.57 272.69,326.87 273.1,326.15 273.5,325.42 273.9,324.66 274.31,323.89 274.71,323.1 275.12,322.29 275.52,321.46 275.92,320.62 276.33,319.75 276.73,318.88 277.13,317.98 277.54,317.07 277.94,316.15 278.35,315.21 278.75,314.25 279.15,313.28 279.56,312.3 279.96,311.31 280.37,310.3 280.77,309.28 281.17,308.25 281.58,307.2 281.98,306.15 282.38,305.09 282.79,304.01 283.19,302.93 283.6,301.84 284,300.75 284.4,299.64 284.81,298.53 285.21,297.42 285.62,296.29 286.02,295.17 286.42,294.04 286.83,292.9 287.23,291.77 287.63,290.63 288.04,289.49 288.44,288.35 288.85,287.21 289.25,286.06 289.65,284.92 290.06,283.78 290.46,282.64 290.87,281.51 291.27,280.37 291.67,279.24 292.08,278.12 292.48,277 292.88,275.88 293.29,274.76 293.69,273.66 294.1,272.56 294.5,271.46 294.9,270.38 295.31,269.3 295.71,268.22 296.12,267.16 296.52,266.1 296.92,265.05 297.33,264.02 297.73,262.99 298.13,261.97 298.54,260.96 298.94,259.96 299.35,258.97 299.75,257.99 300.15,257.02 300.56,256.06 300.96,255.12 301.37,254.18 301.77,253.26 302.17,252.35 302.58,251.45 302.98,250.56 303.38,249.68 303.79,248.82 304.19,247.97 304.6,247.13 305,246.3 305.4,245.49 305.81,244.68 306.21,243.89 306.62,243.11 307.02,242.35 307.42,241.6 307.83,240.85 308.23,240.12 308.63,239.41 309.04,238.7 309.44,238.01 309.85,237.33 310.25,236.66 310.65,236.01 311.06,235.36 311.46,234.73 311.87,234.11 312.27,233.5 312.67,232.9 313.08,232.31 313.48,231.74 313.88,231.17 314.29,230.62 314.69,230.08 315.1,229.54 315.5,229.02 315.9,228.51 316.31,228.01 316.71,227.52 317.12,227.04 317.52,226.57 317.92,226.11 318.33,225.66 318.73,225.22 319.13,224.79 319.54,224.36 319.94,223.95 320.35,223.55 320.75,223.15 321.15,222.76 321.56,222.38 321.96,222.01 322.37,221.65 322.77,221.3 323.17,220.95 323.58,220.61 323.98,220.28 324.38,219.96 324.79,219.64 325.19,219.33 325.6,219.03 326,218.73 326.4,218.45 326.81,218.16 327.21,217.89 327.62,217.62 328.02,217.36 328.42,217.1 328.83,216.85 329.23,216.61 329.63,216.37 330.04,216.13 330.44,215.91 330.85,215.68 331.25,215.47 331.65,215.25 332.06,215.05 332.46,214.85 332.87,214.65 333.27,214.46 333.67,214.27 334.08,214.08 334.48,213.9 334.88,213.73 335.29,213.56 335.69,213.39 336.1,213.23 336.5,213.07 336.9,212.92 337.31,212.77 337.71,212.62 338.12,212.48 338.52,212.33 338.92,212.2 339.33,212.06 339.73,211.93 340.13,211.81 340.54,211.68 340.94,211.56 341.35,211.44 341.75,211.33 342.15,211.22 342.56,211.11 342.96,211 343.37,210.89 343.77,210.79 344.17,210.69 344.58,210.6 344.98,210.5 345.38,210.41 345.79,210.32 346.19,210.23 346.6,210.14 347,210.06 347.4,209.98 347.81,209.9 348.21,209.82 348.62,209.74 349.02,209.67 349.42,209.6 349.83,209.53 350.23,209.46 350.63,209.39 351.04,209.33 351.44,209.26 351.85,209.2 352.25,209.14 352.65,209.08 353.06,209.02 353.46,208.96 353.87,208.91 354.27,208.85 354.67,208.8 355.08,208.75 355.48,208.7 355.88,208.65 356.29,208.6 356.69,208.56 357.1,208.51 357.5,208.47 357.9,208.42 358.31,208.38 358.71,208.34 359.12,208.3 359.52,208.26 359.92,208.22 360.33,208.18 360.73,208.15 361.13,208.11 361.54,208.08 361.94,208.04 362.35,208.01 362.75,207.98 363.15,207.94 363.56,207.91 363.96,207.88 364.37,207.85 364.77,207.82 365.17,207.8 365.58,207.77 365.98,207.74 366.38,207.71 366.79,207.69 367.19,207.66 367.6,207.64 368,207.61 368.4,207.59 368.81,207.57 369.21,207.55 369.62,207.52 370.02,207.5 370.42,207.48 370.83,207.46 371.23,207.44 371.63,207.42 372.04,207.4 372.44,207.38 372.85,207.37 373.25,207.35 374.98,207.28 380.53,207.09 386.09,206.95 391.65,206.84 397.21,206.77 402.77,206.71 408.32,206.66 413.88,206.63 419.44,206.6 425,206.58" fill="none" stroke="#3278d7" stroke-width="1.2"/>
<polyline points="252.5,340.75 252.9,340.75 253.31,340.75 253.71,340.74 254.12,340.73 254.52,340.72 254.92,340.7 255.33,340.67 255.73,340.63 256.13,340.59 256.54,340.54 256.94,340.48 257.35,340.4 257.75,340.32 258.15,340.22 258.56,340.12 258.96,340 259.37,339.86 259.77,339.71 260.17,339.55 260.58,339.37 260.98,339.18 261.38,338.97 261.79,338.75 262.19,338.5 262.6,338.25 263,337.97 263.4,337.67 263.81,337.36 264.21,337.03 264.62,336.68 265.02,336.31 265.42,335.92 265.83,335.51 266.23,335.09 266.63,334.64 267.04,334.17 267.44,333.68 267.85,333.17 268.25,332.65 268.65,332.1 269.06,331.53 269.46,330.94 269.87,330.33 270.27,329.7 270.67,329.04 271.08,328.37 271.48,327.68 271.88,326.97 272.29,326.24 272.69,325.49 273.1,324.72 273.5,323.93 273.9,323.13 274.31,322.3 274.71,321.46 275.12,320.6 275.52,319.72 275.92,318.82 276.33,317.91 276.73,316.98 277.13,316.04 277.54,315.08 277.94,314.11 278.35,313.12 278.75,312.12 279.15,311.1 279.56,310.08 279.96,309.04 280.37,307.99 280.77,306.92 281.17,305.85 281.58,304.77 281.98,303.68 282.38,302.58 282.79,301.47 283.19,300.36 283.6,299.24 284,298.11 284.4,296.98 284.81,295.84 285.21,294.7 285.62,293.55 286.02,292.4 286.42,291.25 286.83,290.1 287.23,288.95 287.63,287.79 288.04,286.64 288.44,285.49 288.85,284.34 289.25,283.18 289.65,282.04 290.06,280.89 290.46,279.75 290.87,278.61 291.27,277.48 291.67,276.35 292.08,275.23 292.48,274.11 292.88,273 293.29,271.89 293.69,270.8 294.1,269.71 294.5,268.62 294.9,267.55 295.31,266.48 295.71,265.43 296.12,264.38 296.52,263.34 296.92,262.31 297.33,261.3 297.73,260.29 298.13,259.29 298.54,258.31 298.94,257.33 299.35,256.37 299.75,255.42 300.15,254.47 300.56,253.55 300.96,252.63 301.37,251.72 301.77,250.83 302.17,249.95 302.58,249.08 302.98,248.22 303.38,247.38 303.79,246.55 304.19,245.73 304.6,244.92 305,244.13 305.4,243.35 305.81,242.58 306.21,241.82 306.62,241.08 307.02,240.35 307.42,239.63 307.83,238.92 308.23,238.23 308.63,237.54 309.04,236.87 309.44,236.21 309.85,235.57 310.25,234.93 310.65,234.31 311.06,233.7 311.46,233.1 311.87,232.51 312.27,231.93 312.67,231.37 313.08,230.81 313.48,230.27 313.88,229.74 314.29,229.22 314.69,228.7 315.1,228.2 315.5,227.71 315.9,227.23 316.31,226.76 316.71,226.3 317.12,225.85 317.52,225.41 317.92,224.97 318.33,224.55 318.73,224.13 319.13,223.73 319.54,223.33 319.94,222.95 320.35,222.57 320.75,222.19 321.15,221.83 321.56,221.48 321.96,221.13 322.37,220.79 322.77,220.46 323.17,220.14 323.58,219.82 323.98,219.51 324.38,219.21 324.79,218.91 325.19,218.62 325.6,218.34 326,218.06 326.4,217.79 326.81,217.53 327.21,217.27 327.62,217.02 328.02,216.78 328.42,216.54 328.83,216.3 329.23,216.07 329.63,215.85 330.04,215.63 330.44,215.42 330.85,215.21 331.25,215.01 331.65,214.81 332.06,214.62 332.46,214.43 332.87,214.24 333.27,214.06 333.67,213.89 334.08,213.72 334.48,213.55 334.88,213.39 335.29,213.23 335.69,213.07 336.1,212.92 336.5,212.77 336.9,212.62 337.31,212.48 337.71,212.35 338.12,212.21 338.52,212.08 338.92,211.95 339.33,211.83 339.73,211.7 340.13,211.58 340.54,211.47 340.94,211.35 341.35,211.24 341.75,211.13 342.15,211.03 342.56,210.93 342.96,210.82 343.37,210.73 343.77,210.63 344.17,210.54 344.58,210.45 344.98,210.36 345.38,210.27 345.79,210.18 346.19,210.1 346.6,210.02 347,209.94 347.4,209.86 347.81,209.79 348.21,209.72 348.62,209.64 349.02,209.57 349.42,209.51 349.83,209.44 350.23,209.37 350.63,209.31 351.04,209.25 351.44,209.19 351.85,209.13 352.25,209.07 352.65,209.01 353.06,208.96 353.46,208.9 353.87,208.85 354.27,208.8 354.67,208.75 355.08,208.7 355.48,208.65 355.88,208.61 356.29,208.56 356.69,208.52 357.1,208.47 357.5,208.43 357.9,208.39 358.31,208.35 358.71,208.31 359.12,208.27 359.52,208.23 359.92,208.2 360.33,208.16 360.73,208.12 361.13,208.09 361.54,208.06 361.94,208.02 362.35,207.99 362.75,207.96 363.15,207.93 363.56,207.9 363.96,207.87 364.37,207.84 364.77,207.81 365.17,207.79 365.58,207.76 365.98,207.73 366.38,207.71 366.79,207.68 367.19,207.66 367.6,207.64 368,207.61 368.4,207.59 368.81,207.57 369.21,207.55 369.62,207.52 370.02,207.5 370.42,207.48 370.83,207.46 371.23,207.44 371.63,207.43 372.04,207.41 372.44,207.39 372.85,207.37 373.25,207.35 374.98,207.28 380.53,207.1 386.09,206.96 391.65,206.86 397.21,206.78 402.77,206.72 408.32,206.67 413.88,206.64 419.44,206.61 425,206.59" fill="none" stroke="#197dc8" stroke-width="1.2"/>
<polyline points="252.5,340.75 252.9,340.75 253.31,340.75 253.71,340.74 254.12,340.72 254.52,340.71 254.92,340.68 255.33,340.64 255.73,340.6 256.13,340.54 256.54,340.47 256.94,340.4 257.35,340.31 257.75,340.2 258.15,340.09 258.56,339.96 258.96,339.81 259.37,339.65 259.77,339.47 260.17,339.28 260.58,339.07 260.98,338.84 261.38,338.6 261.79,338.34 262.19,338.06 262.6,337.76 263,337.44 263.4,337.1 263.81,336.74 264.21,336.36 264.62,335.97 265.02,335.55 265.42,335.11 265.83,334.65 266.23,334.17 266.63,333.67 267.04,333.15 267.44,332.61 267.85,332.04 268.25,331.46 268.65,330.85 269.06,330.22 269.46,329.57 269.87,328.91 270.27,328.22 270.67,327.51 271.08,326.77 271.48,326.02 271.88,325.25 272.29,324.46 272.69,323.65 273.1,322.82 273.5,321.98 273.9,321.11 274.31,320.22 274.71,319.32 275.12,318.4 275.52,317.47 275.92,316.51 276.33,315.54 276.73,314.56 277.13,313.56 277.54,312.54 277.94,311.52 278.35,310.47 278.75,309.42 279.15,308.35 279.56,307.27 279.96,306.18 280.37,305.08 280.77,303.97 281.17,302.85 281.58,301.72 281.98,300.59 282.38,299.44 282.79,298.29 283.19,297.13 283.6,295.97 284,294.8 284.4,293.63 284.81,292.45 285.21,291.27 285.62,290.09 286.02,288.91 286.42,287.72 286.83,286.54 287.23,285.35 287.63,284.17 288.04,282.99 288.44,281.8 288.85,280.62 289.25,279.45 289.65,278.27 290.06,277.11 290.46,275.94 290.87,274.78 291.27,273.63 291.67,272.48 292.08,271.34 292.48,270.2 292.88,269.07 293.29,267.95 293.69,266.84 294.1,265.74 294.5,264.64 294.9,263.56 295.31,262.48 295.71,261.42 296.12,260.36 296.52,259.32 296.92,258.29 297.33,257.26 297.73,256.25 298.13,255.25 298.54,254.26 298.94,253.29 299.35,252.32 299.75,251.37 300.15,250.43 300.56,249.51 300.96,248.59 301.37,247.69 301.77,246.81 302.17,245.93 302.58,245.07 302.98,244.22 303.38,243.39 303.79,242.57 304.19,241.76 304.6,240.96 305,240.18 305.4,239.41 305.81,238.66 306.21,237.92 306.62,237.19 307.02,236.47 307.42,235.77 307.83,235.08 308.23,234.4 308.63,233.74 309.04,233.09 309.44,232.45 309.85,231.82 310.25,231.21 310.65,230.61 311.06,230.02 311.46,229.44 311.87,228.88 312.27,228.32 312.67,227.78 313.08,227.25 313.48,226.73 313.88,226.22 314.29,225.73 314.69,225.24 315.1,224.77 315.5,224.3 315.9,223.85 316.31,223.41 316.71,222.97 317.12,222.55 317.52,222.14 317.92,221.73 318.33,221.34 318.73,220.95 319.13,220.58 319.54,220.21 319.94,219.85 320.35,219.5 320.75,219.16 321.15,218.83 321.56,218.5 321.96,218.19 322.37,217.88 322.77,217.58 323.17,217.28 323.58,216.99 323.98,216.72 324.38,216.44 324.79,216.18 325.19,215.92 325.6,215.67 326,215.42 326.4,215.18 326.81,214.95 327.21,214.72 327.62,214.5 328.02,214.29 328.42,214.08 328.83,213.87 329.23,213.67 329.63,213.48 330.04,213.29 330.44,213.11 330.85,212.93 331.25,212.75 331.65,212.58 332.06,212.42 332.46,212.26 332.87,212.1 333.27,211.95 333.67,211.8 334.08,211.66 334.48,211.52 334.88,211.38 335.29,211.25 335.69,211.12 336.1,211 336.5,210.87 336.9,210.76 337.31,210.64 337.71,210.53 338.12,210.42 338.52,210.31 338.92,210.21 339.33,210.11 339.73,210.01 340.13,209.92 340.54,209.82 340.94,209.73 341.35,209.65 341.75,209.56 342.15,209.48 342.56,209.4 342.96,209.32 343.37,209.24 343.77,209.17 344.17,209.1 344.58,209.03 344.98,208.96 345.38,208.89 345.79,208.83 346.19,208.77 346.6,208.7 347,208.65 347.4,208.59 347.81,208.53 348.21,208.48 348.62,208.42 349.02,208.37 349.42,208.32 349.83,208.27 350.23,208.23 350.63,208.18 351.04,208.14 351.44,208.09 351.85,208.05 352.25,208.01 352.65,207.97 353.06,207.93 353.46,207.89 353.87,207.86 354.27,207.82 354.67,207.79 355.08,207.75 355.48,207.72 355.88,207.69 356.29,207.66 356.69,207.63 357.1,207.6 357.5,207.57 357.9,207.54 358.31,207.51 358.71,207.49 359.12,207.46 359.52,207.44 359.92,207.41 360.33,207.39 360.73,207.37 361.13,207.34 361.54,207.32 361.94,207.3 362.35,207.28 362.75,207.26 363.15,207.24 363.56,207.22 363.96,207.2 364.37,207.19 364.77,207.17 365.17,207.15 365.58,207.13 365.98,207.12 366.38,207.1 366.79,207.09 367.19,207.07 367.6,207.06 368,207.04 368.4,207.03 368.81,207.02 369.21,207 369.62,206.99 370.02,206.98 370.42,206.97 370.83,206.96 371.23,206.94 371.63,206.93 372.04,206.92 372.44,206.91 372.85,206.9 373.25,206.89 374.98,206.85 380.53,206.75 386.09,206.68 391.65,206.63 397.21,206.6 402.77,206.57 408.32,206.55 413.88,206.54 419.44,206.53 425,206.52" fill="none" stroke="#19a0d2" stroke-width="1.2"/>
<polyline points="252.5,340.75 252.9,340.75 253.31,340.74 253.71,340.73 254.12,340.71 254.52,340.68 254.92,340.64 255.33,340.59 255.73,340.53 256.13,340.46 256.54,340.37 256.94,340.27 257.35,340.16 257.75,340.03 258.15,339.88 258.56,339.72 258.96,339.54 259.37,339.34 259.77,339.13 260.17,338.89 260.58,338.64 260.98,338.37 261.38,338.08 261.79,337.77 262.19,337.44 262.6,337.1 263,336.73 263.4,336.34 263.81,335.93 264.21,335.49 264.62,335.04 265.02,334.57 265.42,334.07 265.83,333.55 266.23,333.01 266.63,332.45 267.04,331.87 267.44,331.27 267.85,330.64 268.25,330 268.65,329.33 269.06,328.64 269.46,327.92 269.87,327.19 270.27,326.44 270.67,325.66 271.08,324.87 271.48,324.05 271.88,323.21 272.29,322.36 272.69,321.48 273.1,320.58 273.5,319.67 273.9,318.74 274.31,317.78 274.71,316.81 275.12,315.82 275.52,314.82 275.92,313.8 276.33,312.76 276.73,311.7 277.13,310.63 277.54,309.55 277.94,308.45 278.35,307.34 278.75,306.21 279.15,305.07 279.56,303.92 279.96,302.76 280.37,301.58 280.77,300.4 281.17,299.2 281.58,298 281.98,296.78 282.38,295.56 282.79,294.33 283.19,293.1 283.6,291.85 284,290.61 284.4,289.35 284.81,288.1 285.21,286.84 285.62,285.57 286.02,284.31 286.42,283.04 286.83,281.77 287.23,280.5 287.63,279.23 288.04,277.96 288.44,276.7 288.85,275.43 289.25,274.17 289.65,272.91 290.06,271.66 290.46,270.41 290.87,269.16 291.27,267.92 291.67,266.69 292.08,265.46 292.48,264.24 292.88,263.03 293.29,261.83 293.69,260.63 294.1,259.45 294.5,258.27 294.9,257.11 295.31,255.95 295.71,254.81 296.12,253.68 296.52,252.56 296.92,251.45 297.33,250.36 297.73,249.27 298.13,248.2 298.54,247.15 298.94,246.11 299.35,245.08 299.75,244.07 300.15,243.07 300.56,242.08 300.96,241.12 301.37,240.16 301.77,239.23 302.17,238.3 302.58,237.4 302.98,236.51 303.38,235.63 303.79,234.77 304.19,233.93 304.6,233.1 305,232.29 305.4,231.5 305.81,230.72 306.21,229.96 306.62,229.22 307.02,228.49 307.42,227.77 307.83,227.08 308.23,226.4 308.63,225.73 309.04,225.08 309.44,224.45 309.85,223.83 310.25,223.23 310.65,222.64 311.06,222.07 311.46,221.51 311.87,220.97 312.27,220.45 312.67,219.93 313.08,219.44 313.48,218.95 313.88,218.48 314.29,218.03 314.69,217.58 315.1,217.15 315.5,216.74 315.9,216.33 316.31,215.94 316.71,215.56 317.12,215.2 317.52,214.84 317.92,214.5 318.33,214.17 318.73,213.85 319.13,213.54 319.54,213.24 319.94,212.95 320.35,212.67 320.75,212.4 321.15,212.14 321.56,211.89 321.96,211.65 322.37,211.42 322.77,211.2 323.17,210.99 323.58,210.78 323.98,210.58 324.38,210.39 324.79,210.21 325.19,210.04 325.6,209.87 326,209.71 326.4,209.55 326.81,209.4 327.21,209.26 327.62,209.13 328.02,209 328.42,208.87 328.83,208.75 329.23,208.64 329.63,208.53 330.04,208.42 330.44,208.33 330.85,208.23 331.25,208.14 331.65,208.05 332.06,207.97 332.46,207.89 332.87,207.82 333.27,207.75 333.67,207.68 334.08,207.62 334.48,207.55 334.88,207.5 335.29,207.44 335.69,207.39 336.1,207.34 336.5,207.29 336.9,207.25 337.31,207.2 337.71,207.16 338.12,207.12 338.52,207.09 338.92,207.05 339.33,207.02 339.73,206.99 340.13,206.96 340.54,206.93 340.94,206.91 341.35,206.88 341.75,206.86 342.15,206.84 342.56,206.82 342.96,206.8 343.37,206.78 343.77,206.76 344.17,206.74 344.58,206.73 344.98,206.71 345.38,206.7 345.79,206.69 346.19,206.68 346.6,206.66 347,206.65 347.4,206.64 347.81,206.63 348.21,206.63 348.62,206.62 349.02,206.61 349.42,206.6 349.83,206.6 350.23,206.59 350.63,206.58 351.04,206.58 351.44,206.57 351.85,206.57 352.25,206.56 352.65,206.56 353.06,206.55 353.46,206.55 353.87,206.55 354.27,206.54 354.67,206.54 355.08,206.54 355.48,206.53 355.88,206.53 356.29,206.53 356.69,206.53 357.1,206.53 357.5,206.52 357.9,206.52 358.31,206.52 358.71,206.52 359.12,206.52 359.52,206.52 359.92,206.52 360.33,206.51 360.73,206.51 361.13,206.51 361.54,206.51 361.94,206.51 362.35,206.51 362.75,206.51 363.15,206.51 363.56,206.51 363.96,206.51 364.37,206.51 364.77,206.51 365.17,206.51 365.58,206.5 365.98,206.5 366.38,206.5 366.79,206.5 367.19,206.5 367.6,206.5 368,206.5 368.4,206.5 368.81,206.5 369.21,206.5 369.62,206.5 370.02,206.5 370.42,206.5 370.83,206.5 371.23,206.5 371.63,206.5 372.04,206.5 372.44,206.5 372.85,206.5 373.25,206.5 374.98,206.5 380.53,206.5 386.09,206.5 391.65,206.5 397.21,206.5 402.77,206.5 408.32,206.5 413.88,206.5 419.44,206.5 425,206.5" fill="none" stroke="#28bed7" stroke-width="1.2"/>
<polyline points="252.5,340.75 252.9,340.75 253.31,340.75 253.71,340.75 254.12,340.74 254.52,340.74 254.92,340.73 255.33,340.72 255.73,340.7 256.13,340.67 256.54,340.64 256.94,340.6 257.35,340.55 257.75,340.49 258.15,340.42 258.56,340.34 258.96,340.24 259.37,340.13 259.77,340 260.17,339.85 260.58,339.68 260.98,339.49 261.38,339.28 261.79,339.05 262.19,338.79 262.6,338.51 263,338.2 263.4,337.87 263.81,337.5 264.21,337.11 264.62,336.68 265.02,336.22 265.42,335.73 265.83,335.2 266.23,334.64 266.63,334.04 267.04,333.41 267.44,332.74 267.85,332.03 268.25,331.28 268.65,330.5 269.06,329.67 269.46,328.81 269.87,327.9 270.27,326.96 270.67,325.98 271.08,324.95 271.48,323.89 271.88,322.79 272.29,321.65 272.69,320.47 273.1,319.26 273.5,318.01 273.9,316.72 274.31,315.4 274.71,314.05 275.12,312.67 275.52,311.25 275.92,309.8 276.33,308.33 276.73,306.83 277.13,305.31 277.54,303.76 277.94,302.19 278.35,300.6 278.75,299 279.15,297.37 279.56,295.74 279.96,294.09 280.37,292.43 280.77,290.77 281.17,289.09 281.58,287.42 281.98,285.74 282.38,284.06 282.79,282.38 283.19,280.71 283.6,279.04 284,277.38 284.4,275.72 284.81,274.08 285.21,272.44 285.62,270.82 286.02,269.22 286.42,267.63 286.83,266.06 287.23,264.51 287.63,262.97 288.04,261.46 288.44,259.97 288.85,258.5 289.25,257.05 289.65,255.63 290.06,254.24 290.46,252.86 290.87,251.52 291.27,250.2 291.67,248.91 292.08,247.64 292.48,246.4 292.88,245.19 293.29,244.01 293.69,242.85 294.1,241.72 294.5,240.62 294.9,239.55 295.31,238.5 295.71,237.48 296.12,236.49 296.52,235.53 296.92,234.59 297.33,233.67 297.73,232.79 298.13,231.93 298.54,231.09 298.94,230.28 299.35,229.49 299.75,228.72 300.15,227.98 300.56,227.26 300.96,226.57 301.37,225.89 301.77,225.24 302.17,224.6 302.58,223.99 302.98,223.4 303.38,222.82 303.79,222.27 304.19,221.73 304.6,221.21 305,220.71 305.4,220.23 305.81,219.76 306.21,219.31 306.62,218.87 307.02,218.45 307.42,218.04 307.83,217.64 308.23,217.26 308.63,216.9 309.04,216.54 309.44,216.2 309.85,215.87 310.25,215.55 310.65,215.24 311.06,214.94 311.46,214.66 311.87,214.38 312.27,214.11 312.67,213.86 313.08,213.61 313.48,213.37 313.88,213.14 314.29,212.91 314.69,212.7 315.1,212.49 315.5,212.29 315.9,212.1 316.31,211.91 316.71,211.73 317.12,211.56 317.52,211.39 317.92,211.23 318.33,211.07 318.73,210.92 319.13,210.78 319.54,210.64 319.94,210.5 320.35,210.37 320.75,210.25 321.15,210.12 321.56,210.01 321.96,209.89 322.37,209.78 322.77,209.68 323.17,209.58 323.58,209.48 323.98,209.38 324.38,209.29 324.79,209.2 325.19,209.12 325.6,209.04 326,208.96 326.4,208.88 326.81,208.81 327.21,208.73 327.62,208.67 328.02,208.6 328.42,208.53 328.83,208.47 329.23,208.41 329.63,208.35 330.04,208.3 330.44,208.24 330.85,208.19 331.25,208.14 331.65,208.09 332.06,208.04 332.46,208 332.87,207.95 333.27,207.91 333.67,207.87 334.08,207.83 334.48,207.79 334.88,207.75 335.29,207.71 335.69,207.68 336.1,207.64 336.5,207.61 336.9,207.58 337.31,207.55 337.71,207.52 338.12,207.49 338.52,207.46 338.92,207.43 339.33,207.41 339.73,207.38 340.13,207.36 340.54,207.33 340.94,207.31 341.35,207.29 341.75,207.27 342.15,207.24 342.56,207.22 342.96,207.2 343.37,207.18 343.77,207.17 344.17,207.15 344.58,207.13 344.98,207.11 345.38,207.1 345.79,207.08 346.19,207.07 346.6,207.05 347,207.04 347.4,207.02 347.81,207.01 348.21,206.99 348.62,206.98 349.02,206.97 349.42,206.96 349.83,206.95 350.23,206.93 350.63,206.92 351.04,206.91 351.44,206.9 351.85,206.89 352.25,206.88 352.65,206.87 353.06,206.86 353.46,206.85 353.87,206.84 354.27,206.84 354.67,206.83 355.08,206.82 355.48,206.81 355.88,206.8 356.29,206.8 356.69,206.79 357.1,206.78 357.5,206.77 357.9,206.77 358.31,206.76 358.71,206.76 359.12,206.75 359.52,206.74 359.92,206.74 360.33,206.73 360.73,206.73 361.13,206.72 361.54,206.72 361.94,206.71 362.35,206.71 362.75,206.7 363.15,206.7 363.56,206.69 363.96,206.69 364.37,206.68 364.77,206.68 365.17,206.67 365.58,206.67 365.98,206.67 366.38,206.66 366.79,206.66 367.19,206.66 367.6,206.65 368,206.65 368.4,206.65 368.81,206.64 369.21,206.64 369.62,206.64 370.02,206.63 370.42,206.63 370.83,206.63 371.23,206.62 371.63,206.62 372.04,206.62 372.44,206.62 372.85,206.61 373.25,206.61 374.98,206.6 380.53,206.58 386.09,206.56 391.65,206.54 397.21,206.53 402.77,206.53 408.32,206.52 413.88,206.52 419.44,206.51 425,206.51" fill="none" stroke="#1ecdd2" stroke-width="1.2"/>
<polyline points="252.5,340.75 252.9,340.75 253.31,340.75 253.71,340.75 254.12,340.75 254.52,340.74 254.92,340.74 255.33,340.73 255.73,340.71 256.13,340.69 256.54,340.67 256.94,340.63 257.35,340.58 257.75,340.52 258.15,340.45 258.56,340.36 258.96,340.25 259.37,340.12 259.77,339.97 260.17,339.79 260.58,339.59 260.98,339.35 261.38,339.09 261.79,338.79 262.19,338.45 262.6,338.07 263,337.65 263.4,337.19 263.81,336.67 264.21,336.11 264.62,335.5 265.02,334.83 265.42,334.11 265.83,333.33 266.23,332.49 266.63,331.6 267.04,330.64 267.44,329.62 267.85,328.53 268.25,327.39 268.65,326.18 269.06,324.91 269.46,323.58 269.87,322.19 270.27,320.74 270.67,319.23 271.08,317.66 271.48,316.04 271.88,314.38 272.29,312.66 272.69,310.9 273.1,309.09 273.5,307.25 273.9,305.37 274.31,303.46 274.71,301.53 275.12,299.57 275.52,297.59 275.92,295.6 276.33,293.59 276.73,291.58 277.13,289.57 277.54,287.55 277.94,285.54 278.35,283.54 278.75,281.54 279.15,279.57 279.56,277.61 279.96,275.67 280.37,273.75 280.77,271.85 281.17,269.99 281.58,268.15 281.98,266.35 282.38,264.58 282.79,262.84 283.19,261.14 283.6,259.47 284,257.85 284.4,256.26 284.81,254.7 285.21,253.19 285.62,251.72 286.02,250.28 286.42,248.89 286.83,247.53 287.23,246.21 287.63,244.93 288.04,243.69 288.44,242.49 288.85,241.32 289.25,240.19 289.65,239.09 290.06,238.03 290.46,237 290.87,236.01 291.27,235.05 291.67,234.12 292.08,233.22 292.48,232.36 292.88,231.52 293.29,230.71 293.69,229.92 294.1,229.17 294.5,228.44 294.9,227.73 295.31,227.05 295.71,226.4 296.12,225.76 296.52,225.15 296.92,224.56 297.33,223.99 297.73,223.44 298.13,222.91 298.54,222.4 298.94,221.9 299.35,221.43 299.75,220.97 300.15,220.52 300.56,220.09 300.96,219.68 301.37,219.28 301.77,218.89 302.17,218.52 302.58,218.16 302.98,217.81 303.38,217.48 303.79,217.15 304.19,216.84 304.6,216.54 305,216.25 305.4,215.96 305.81,215.69 306.21,215.43 306.62,215.17 307.02,214.93 307.42,214.69 307.83,214.46 308.23,214.24 308.63,214.02 309.04,213.81 309.44,213.61 309.85,213.42 310.25,213.23 310.65,213.04 311.06,212.87 311.46,212.7 311.87,212.53 312.27,212.37 312.67,212.22 313.08,212.06 313.48,211.92 313.88,211.78 314.29,211.64 314.69,211.51 315.1,211.38 315.5,211.26 315.9,211.13 316.31,211.02 316.71,210.9 317.12,210.79 317.52,210.69 317.92,210.58 318.33,210.48 318.73,210.39 319.13,210.29 319.54,210.2 319.94,210.11 320.35,210.02 320.75,209.94 321.15,209.86 321.56,209.78 321.96,209.7 322.37,209.63 322.77,209.55 323.17,209.48 323.58,209.41 323.98,209.35 324.38,209.28 324.79,209.22 325.19,209.16 325.6,209.1 326,209.04 326.4,208.98 326.81,208.93 327.21,208.87 327.62,208.82 328.02,208.77 328.42,208.72 328.83,208.67 329.23,208.63 329.63,208.58 330.04,208.54 330.44,208.49 330.85,208.45 331.25,208.41 331.65,208.37 332.06,208.33 332.46,208.29 332.87,208.26 333.27,208.22 333.67,208.18 334.08,208.15 334.48,208.12 334.88,208.08 335.29,208.05 335.69,208.02 336.1,207.99 336.5,207.96 336.9,207.93 337.31,207.9 337.71,207.88 338.12,207.85 338.52,207.82 338.92,207.8 339.33,207.77 339.73,207.75 340.13,207.72 340.54,207.7 340.94,207.68 341.35,207.66 341.75,207.63 342.15,207.61 342.56,207.59 342.96,207.57 343.37,207.55 343.77,207.53 344.17,207.51 344.58,207.5 344.98,207.48 345.38,207.46 345.79,207.44 346.19,207.43 346.6,207.41 347,207.39 347.4,207.38 347.81,207.36 348.21,207.35 348.62,207.33 349.02,207.32 349.42,207.3 349.83,207.29 350.23,207.28 350.63,207.26 351.04,207.25 351.44,207.24 351.85,207.22 352.25,207.21 352.65,207.2 353.06,207.19 353.46,207.18 353.87,207.17 354.27,207.15 354.67,207.14 355.08,207.13 355.48,207.12 355.88,207.11 356.29,207.1 356.69,207.09 357.1,207.08 357.5,207.07 357.9,207.07 358.31,207.06 358.71,207.05 359.12,207.04 359.52,207.03 359.92,207.02 360.33,207.01 360.73,207.01 361.13,207 361.54,206.99 361.94,206.98 362.35,206.98 362.75,206.97 363.15,206.96 363.56,206.95 363.96,206.95 364.37,206.94 364.77,206.93 365.17,206.93 365.58,206.92 365.98,206.91 366.38,206.91 366.79,206.9 367.19,206.9 367.6,206.89 368,206.88 368.4,206.88 368.81,206.87 369.21,206.87 369.62,206.86 370.02,206.86 370.42,206.85 370.83,206.85 371.23,206.84 371.63,206.84 372.04,206.83 372.44,206.83 372.85,206.82 373.25,206.82 374.98,206.8 380.53,206.75 386.09,206.71 391.65,206.68 397.21,206.65 402.77,206.63 408.32,206.61 413.88,206.59 419.44,206.58 425,206.57" fill="none" stroke="#28d7cd" stroke-width="1.2"/>
<rect x="377.5" y="211.25" width="43" height="77.5" fill="#fff" stroke="#bdbdbd" stroke-width="0.6"/>
<line x1="378.75" y1="215.1" x2="394.5" y2="215.1" stroke="#0f0faf" stroke-width="1.2"/>
<text x="395.5" y="218.68" font-size="6.6" text-anchor="start" fill="#000">L = 1.00</text>
<line x1="378.75" y1="222.88" x2="394.5" y2="222.88" stroke="#1423c8" stroke-width="1.2"/>
<text x="395.5" y="226.46" font-size="6.6" text-anchor="start" fill="#000">L = 0.90</text>
<line x1="378.75" y1="230.66" x2="394.5" y2="230.66" stroke="#1e3cd2" stroke-width="1.2"/>
<text x="395.5" y="234.24" font-size="6.6" text-anchor="start" fill="#000">L = 0.80</text>
<line x1="378.75" y1="238.44" x2="394.5" y2="238.44" stroke="#3764d7" stroke-width="1.2"/>
<text x="395.5" y="242.02" font-size="6.6" text-anchor="start" fill="#000">L = 0.70</text>
<line x1="378.75" y1="246.22" x2="394.5" y2="246.22" stroke="#3278d7" stroke-width="1.2"/>
<text x="395.5" y="249.8" font-size="6.6" text-anchor="start" fill="#000">L = 0.60</text>
<line x1="378.75" y1="254" x2="394.5" y2="254" stroke="#197dc8" stroke-width="1.2"/>
<text x="395.5" y="257.58" font-size="6.6" text-anchor="start" fill="#000">L = 0.50</text>
<line x1="378.75" y1="261.78" x2="394.5" y2="261.78" stroke="#19a0d2" stroke-width="1.2"/>
<text x="395.5" y="265.36" font-size="6.6" text-anchor="start" fill="#000">L = 0.40</text>
<line x1="378.75" y1="269.56" x2="394.5" y2="269.56" stroke="#28bed7" stroke-width="1.2"/>
<text x="395.5" y="273.14" font-size="6.6" text-anchor="start" fill="#000">L = 0.30</text>
<line x1="378.75" y1="277.34" x2="394.5" y2="277.34" stroke="#1ecdd2" stroke-width="1.2"/>
<text x="395.5" y="280.92" font-size="6.6" text-anchor="start" fill="#000">L = 0.20</text>
<line x1="378.75" y1="285.12" x2="394.5" y2="285.12" stroke="#28d7cd" stroke-width="1.2"/>
<text x="395.5" y="288.7" font-size="6.6" text-anchor="start" fill="#000">L = 0.10</text>
<text x="339.4" y="357.2" font-size="6.45" text-anchor="middle" fill="#262626">Fitness Cost (1-&#949;<tspan font-size="4.64" dy="2.71">A</tspan><tspan dy="-2.71"> = 1-&#949;</tspan><tspan font-size="4.64" dy="2.71">B</tspan><tspan dy="-2.71">)</tspan></text>
<text x="238.2" y="273.9" font-size="6.35" text-anchor="middle" fill="#262626" transform="rotate(-90 238.2 273.9)">Release Threshold</text>
<text x="445.9" y="30.9" font-size="14.3" text-anchor="start" fill="#000">(e)</text>
<line x1="469.5" y1="78.75" x2="469.5" y2="303.75" stroke="#444" stroke-width="0.6"/>
<line x1="633.75" y1="62" x2="633.75" y2="287" stroke="#aaa" stroke-width="0.6"/>
<polygon points="469.5,303.75 470.84,302.72 472.17,301.69 473.51,300.66 474.85,299.63 476.18,298.6 477.52,297.57 478.86,296.54 480.19,295.51 481.53,294.47 482.87,293.44 484.2,292.41 485.54,291.38 486.88,290.35 488.21,289.32 489.55,288.29 490.89,287.26 492.22,286.23 493.56,285.2 494.9,284.17 496.23,283.14 497.57,282.11 498.91,281.08 500.24,280.05 501.58,279.02 502.92,277.98 504.26,276.95 505.59,275.92 506.93,274.89 508.27,273.86 509.6,272.83 510.94,271.8 512.28,270.77 513.61,269.74 514.95,268.71 516.29,267.68 517.62,266.65 518.96,265.62 520.3,264.59 521.63,263.56 522.97,262.53 524.31,261.49 525.64,260.46 526.98,259.43 528.32,258.4 529.65,257.37 530.99,256.34 532.33,255.31 533.66,254.28 535,253.25 545.48,256.83 543.9,257.78 542.35,258.74 540.81,259.7 539.27,260.66 537.74,261.62 536.21,262.59 534.69,263.56 533.16,264.52 531.63,265.48 530.09,266.45 528.54,267.4 526.98,268.36 525.41,269.31 523.84,270.26 522.25,271.2 520.66,272.15 519.06,273.09 517.46,274.03 515.85,274.97 514.24,275.9 512.62,276.84 511,277.77 509.36,278.7 507.72,279.63 506.08,280.55 504.44,281.48 502.8,282.41 501.16,283.33 499.52,284.26 497.89,285.19 496.26,286.12 494.64,287.06 493.02,287.99 491.42,288.93 489.77,289.85 488.13,290.78 486.52,291.72 484.92,292.66 483.33,293.6 481.72,294.54 480.21,295.51 478.86,296.54 477.52,297.57 476.18,298.6 474.85,299.63 473.51,300.66 472.17,301.69 470.84,302.72 469.5,303.75" fill="#ffffff" stroke="#ffffff" stroke-width="0.3"/>
<polygon points="469.5,303.75 470.84,302.72 472.17,301.69 473.51,300.66 474.85,299.63 476.18,298.6 477.52,297.57 478.86,296.54 480.21,295.51 481.72,294.54 483.33,293.6 484.92,292.66 486.52,291.72 488.13,290.78 489.77,289.85 491.42,288.93 493.02,287.99 494.64,287.06 496.26,286.12 497.89,285.19 499.52,284.26 501.16,283.33 502.8,282.41 504.44,281.48 506.08,280.55 507.72,279.63 509.36,278.7 511,277.77 512.62,276.84 514.24,275.9 515.85,274.97 517.46,274.03 519.06,273.09 520.66,272.15 522.25,271.2 523.84,270.26 525.41,269.31 526.98,268.36 528.54,267.4 530.09,266.45 531.63,265.48 533.16,264.52 534.69,263.56 536.21,262.59 537.74,261.62 539.27,260.66 540.81,259.7 542.35,258.74 543.9,257.78 545.48,256.83 548.84,257.98 547.27,258.93 545.72,259.89 544.19,260.85 542.67,261.82 541.15,262.79 539.64,263.76 538.13,264.73 536.62,265.7 535.11,266.67 533.59,267.64 532.05,268.6 530.5,269.56 528.94,270.52 527.37,271.47 525.79,272.41 524.2,273.36 522.6,274.3 521,275.24 519.38,276.17 517.75,277.11 516.11,278.03 514.44,278.95 512.76,279.86 511.07,280.77 509.38,281.68 507.68,282.59 505.99,283.5 504.3,284.41 502.62,285.32 500.95,286.24 499.31,287.16 497.71,288.1 496.12,289.05 494.49,289.98 492.61,290.82 490.6,291.62 488.59,292.43 486.67,293.26 484.87,294.13 483.13,295.02 481.47,295.94 479.91,296.9 478.38,297.86 476.88,298.83 475.4,299.82 473.95,300.81 472.52,301.81 471.12,302.82 469.75,303.83" fill="#e6f1fa" stroke="#e6f1fa" stroke-width="0.3"/>
<polygon points="469.75,303.83 471.12,302.82 472.52,301.81 473.95,300.81 475.4,299.82 476.88,298.83 478.38,297.86 479.91,296.9 481.47,295.94 483.13,295.02 484.87,294.13 486.67,293.26 488.59,292.43 490.6,291.62 492.61,290.82 494.49,289.98 496.12,289.05 497.71,288.1 499.31,287.16 500.95,286.24 502.62,285.32 504.3,284.41 505.99,283.5 507.68,282.59 509.38,281.68 511.07,280.77 512.76,279.86 514.44,278.95 516.11,278.03 517.75,277.11 519.38,276.17 521,275.24 522.6,274.3 524.2,273.36 525.79,272.41 527.37,271.47 528.94,270.52 530.5,269.56 532.05,268.6 533.59,267.64 535.11,266.67 536.62,265.7 538.13,264.73 539.64,263.76 541.15,262.79 542.67,261.82 544.19,260.85 545.72,259.89 547.27,258.93 548.84,257.98 551.35,258.84 549.77,259.79 548.21,260.74 546.67,261.7 545.13,262.66 543.6,263.63 542.07,264.59 540.54,265.56 539.01,266.52 537.48,267.48 535.94,268.45 534.4,269.41 532.85,270.36 531.3,271.32 529.74,272.28 528.19,273.23 526.62,274.19 525.05,275.14 523.47,276.08 521.87,277.03 520.26,277.96 518.63,278.89 516.97,279.81 515.3,280.73 513.62,281.64 511.93,282.55 510.22,283.46 508.52,284.36 506.81,285.27 505.11,286.17 503.42,287.08 501.73,287.99 500.06,288.91 498.39,289.82 496.69,290.73 494.71,291.54 492.61,292.31 490.52,293.09 488.51,293.89 486.6,294.72 484.74,295.57 482.94,296.44 481.19,297.33 479.48,298.24 477.81,299.15 476.17,300.08 474.57,301.02 473,301.97 471.47,302.93 469.97,303.91" fill="#d0e4f4" stroke="#d0e4f4" stroke-width="0.3"/>
<polygon points="469.97,303.91 471.47,302.93 473,301.97 474.57,301.02 476.17,300.08 477.81,299.15 479.48,298.24 481.19,297.33 482.94,296.44 484.74,295.57 486.6,294.72 488.51,293.89 490.52,293.09 492.61,292.31 494.71,291.54 496.69,290.73 498.39,289.82 500.06,288.91 501.73,287.99 503.42,287.08 505.11,286.17 506.81,285.27 508.52,284.36 510.22,283.46 511.93,282.55 513.62,281.64 515.3,280.73 516.97,279.81 518.63,278.89 520.26,277.96 521.87,277.03 523.47,276.08 525.05,275.14 526.62,274.19 528.19,273.23 529.74,272.28 531.3,271.32 532.85,270.36 534.4,269.41 535.94,268.45 537.48,267.48 539.01,266.52 540.54,265.56 542.07,264.59 543.6,263.63 545.13,262.66 546.67,261.7 548.21,260.74 549.77,259.79 551.35,258.84 553.3,259.5 551.73,260.45 550.19,261.42 548.68,262.39 547.17,263.36 545.68,264.34 544.19,265.32 542.71,266.3 541.22,267.28 539.73,268.26 538.24,269.23 536.72,270.2 535.2,271.17 533.66,272.13 532.11,273.09 530.56,274.04 528.99,275 527.41,275.94 525.82,276.89 524.22,277.83 522.61,278.76 520.97,279.69 519.31,280.61 517.64,281.53 515.95,282.44 514.25,283.35 512.55,284.25 510.83,285.15 509.12,286.05 507.41,286.96 505.7,287.86 503.99,288.76 502.31,289.68 500.63,290.59 498.89,291.48 496.77,292.24 494.43,292.93 492.13,293.63 489.96,294.38 487.98,295.19 486.11,296.04 484.26,296.9 482.41,297.75 480.58,298.61 478.77,299.48 476.98,300.36 475.23,301.25 473.51,302.15 471.83,303.06 470.18,303.98" fill="#b9d8ef" stroke="#b9d8ef" stroke-width="0.3"/>
<polygon points="470.18,303.98 471.83,303.06 473.51,302.15 475.23,301.25 476.98,300.36 478.77,299.48 480.58,298.61 482.41,297.75 484.26,296.9 486.11,296.04 487.98,295.19 489.96,294.38 492.13,293.63 494.43,292.93 496.77,292.24 498.89,291.48 500.63,290.59 502.31,289.68 503.99,288.76 505.7,287.86 507.41,286.96 509.12,286.05 510.83,285.15 512.55,284.25 514.25,283.35 515.95,282.44 517.64,281.53 519.31,280.61 520.97,279.69 522.61,278.76 524.22,277.83 525.82,276.89 527.41,275.94 528.99,275 530.56,274.04 532.11,273.09 533.66,272.13 535.2,271.17 536.72,270.2 538.24,269.23 539.73,268.26 541.22,267.28 542.71,266.3 544.19,265.32 545.68,264.34 547.17,263.36 548.68,262.39 550.19,261.42 551.73,260.45 553.3,259.5 555.49,260.25 553.92,261.2 552.38,262.17 550.87,263.14 549.36,264.11 547.87,265.09 546.38,266.07 544.9,267.05 543.41,268.03 541.92,269 540.43,269.98 538.91,270.95 537.39,271.92 535.85,272.88 534.3,273.84 532.74,274.79 531.18,275.74 529.6,276.69 528.01,277.64 526.41,278.58 524.8,279.51 523.18,280.45 521.54,281.37 519.89,282.3 518.22,283.22 516.55,284.13 514.86,285.04 513.17,285.95 511.47,286.86 509.77,287.76 508.05,288.66 506.34,289.57 504.62,290.47 502.88,291.36 501.1,292.24 498.85,292.96 496.37,293.59 493.92,294.25 491.61,294.94 489.5,295.71 487.51,296.52 485.55,297.34 483.56,298.14 481.59,298.96 479.64,299.78 477.71,300.61 475.82,301.45 473.97,302.3 472.16,303.17 470.4,304.06" fill="#a3cbe9" stroke="#a3cbe9" stroke-width="0.3"/>
<polygon points="470.4,304.06 472.16,303.17 473.97,302.3 475.82,301.45 477.71,300.61 479.64,299.78 481.59,298.96 483.56,298.14 485.55,297.34 487.51,296.52 489.5,295.71 491.61,294.94 493.92,294.25 496.37,293.59 498.85,292.96 501.1,292.24 502.88,291.36 504.62,290.47 506.34,289.57 508.05,288.66 509.77,287.76 511.47,286.86 513.17,285.95 514.86,285.04 516.55,284.13 518.22,283.22 519.89,282.3 521.54,281.37 523.18,280.45 524.8,279.51 526.41,278.58 528.01,277.64 529.6,276.69 531.18,275.74 532.74,274.79 534.3,273.84 535.85,272.88 537.39,271.92 538.91,270.95 540.43,269.98 541.92,269 543.41,268.03 544.9,267.05 546.38,266.07 547.87,265.09 549.36,264.11 550.87,263.14 552.38,262.17 553.92,261.2 555.49,260.25 557.92,261.08 556.34,262.03 554.8,262.99 553.28,263.96 551.78,264.93 550.28,265.91 548.78,266.89 547.29,267.86 545.8,268.84 544.3,269.82 542.79,270.79 541.27,271.76 539.73,272.72 538.18,273.67 536.61,274.63 535.03,275.57 533.44,276.52 531.84,277.46 530.23,278.39 528.61,279.33 526.98,280.26 525.34,281.18 523.68,282.1 522.01,283.02 520.32,283.93 518.63,284.84 516.93,285.75 515.22,286.65 513.51,287.56 511.8,288.46 510.09,289.36 508.37,290.26 506.68,291.17 504.97,292.07 503.2,292.96 500.91,293.66 498.35,294.27 495.8,294.89 493.34,295.54 491.02,296.23 488.79,296.95 486.6,297.69 484.43,298.44 482.3,299.2 480.22,299.98 478.19,300.77 476.21,301.58 474.29,302.41 472.43,303.26 470.62,304.13" fill="#8dbee4" stroke="#8dbee4" stroke-width="0.3"/>
<polygon points="470.62,304.13 472.43,303.26 474.29,302.41 476.21,301.58 478.19,300.77 480.22,299.98 482.3,299.2 484.43,298.44 486.6,297.69 488.79,296.95 491.02,296.23 493.34,295.54 495.8,294.89 498.35,294.27 500.91,293.66 503.2,292.96 504.97,292.07 506.68,291.17 508.37,290.26 510.09,289.36 511.8,288.46 513.51,287.56 515.22,286.65 516.93,285.75 518.63,284.84 520.32,283.93 522.01,283.02 523.68,282.1 525.34,281.18 526.98,280.26 528.61,279.33 530.23,278.39 531.84,277.46 533.44,276.52 535.03,275.57 536.61,274.63 538.18,273.67 539.73,272.72 541.27,271.76 542.79,270.79 544.3,269.82 545.8,268.84 547.29,267.86 548.78,266.89 550.28,265.91 551.78,264.93 553.28,263.96 554.8,262.99 556.34,262.03 557.92,261.08 560.26,261.88 558.69,262.83 557.14,263.79 555.61,264.75 554.08,265.72 552.56,266.69 551.05,267.66 549.54,268.63 548.03,269.6 546.51,270.57 544.99,271.54 543.46,272.51 541.92,273.47 540.38,274.42 538.83,275.38 537.27,276.34 535.71,277.29 534.14,278.24 532.55,279.19 530.95,280.13 529.33,281.06 527.68,281.99 526.01,282.9 524.31,283.81 522.6,284.71 520.87,285.61 519.13,286.5 517.39,287.39 515.64,288.28 513.89,289.17 512.14,290.06 510.4,290.95 508.68,291.85 506.96,292.75 505.17,293.63 502.79,294.3 500.11,294.88 497.43,295.45 494.82,296.04 492.29,296.66 489.82,297.31 487.42,297.97 485.09,298.67 482.84,299.38 480.66,300.13 478.55,300.89 476.52,301.69 474.55,302.5 472.66,303.34 470.84,304.21" fill="#77b1de" stroke="#77b1de" stroke-width="0.3"/>
<polygon points="470.84,304.21 472.66,303.34 474.55,302.5 476.52,301.69 478.55,300.89 480.66,300.13 482.84,299.38 485.09,298.67 487.42,297.97 489.82,297.31 492.29,296.66 494.82,296.04 497.43,295.45 500.11,294.88 502.79,294.3 505.17,293.63 506.96,292.75 508.68,291.85 510.4,290.95 512.14,290.06 513.89,289.17 515.64,288.28 517.39,287.39 519.13,286.5 520.87,285.61 522.6,284.71 524.31,283.81 526.01,282.9 527.68,281.99 529.33,281.06 530.95,280.13 532.55,279.19 534.14,278.24 535.71,277.29 537.27,276.34 538.83,275.38 540.38,274.42 541.92,273.47 543.46,272.51 544.99,271.54 546.51,270.57 548.03,269.6 549.54,268.63 551.05,267.66 552.56,266.69 554.08,265.72 555.61,264.75 557.14,263.79 558.69,262.83 560.26,261.88 563.62,263.03 562.05,263.98 560.49,264.94 558.94,265.89 557.4,266.85 555.86,267.82 554.32,268.78 552.79,269.74 551.25,270.7 549.71,271.67 548.17,272.62 546.61,273.58 545.05,274.53 543.48,275.49 541.92,276.44 540.35,277.39 538.77,278.34 537.18,279.28 535.57,280.22 533.94,281.15 532.28,282.07 530.58,282.98 528.84,283.87 527.07,284.75 525.27,285.62 523.45,286.49 521.62,287.35 519.78,288.21 517.94,289.07 516.11,289.93 514.3,290.8 512.51,291.67 510.76,292.57 509.02,293.46 507.21,294.33 504.72,294.96 501.89,295.48 499.03,295.99 496.23,296.52 493.49,297.08 490.78,297.64 488.17,298.23 485.71,298.88 483.35,299.56 481.08,300.27 478.9,301.01 476.81,301.79 474.81,302.59 472.89,303.42 471.06,304.28" fill="#60a5d9" stroke="#60a5d9" stroke-width="0.3"/>
<polygon points="471.06,304.28 472.89,303.42 474.81,302.59 476.81,301.79 478.9,301.01 481.08,300.27 483.35,299.56 485.71,298.88 488.17,298.23 490.78,297.64 493.49,297.08 496.23,296.52 499.03,295.99 501.89,295.48 504.72,294.96 507.21,294.33 509.02,293.46 510.76,292.57 512.51,291.67 514.3,290.8 516.11,289.93 517.94,289.07 519.78,288.21 521.62,287.35 523.45,286.49 525.27,285.62 527.07,284.75 528.84,283.87 530.58,282.98 532.28,282.07 533.94,281.15 535.57,280.22 537.18,279.28 538.77,278.34 540.35,277.39 541.92,276.44 543.48,275.49 545.05,274.53 546.61,273.58 548.17,272.62 549.71,271.67 551.25,270.7 552.79,269.74 554.32,268.78 555.86,267.82 557.4,266.85 558.94,265.89 560.49,264.94 562.05,263.98 563.62,263.03 568.24,264.61 566.74,265.59 565.23,266.56 563.73,267.53 562.21,268.5 560.7,269.47 559.18,270.44 557.65,271.4 556.12,272.37 554.57,273.33 553.03,274.29 551.47,275.24 549.9,276.19 548.32,277.14 546.73,278.08 545.12,279.02 543.5,279.95 541.86,280.88 540.2,281.8 538.51,282.71 536.79,283.61 535.04,284.5 533.25,285.38 531.43,286.24 529.57,287.09 527.68,287.94 525.77,288.77 523.82,289.59 521.86,290.41 519.87,291.22 517.86,292.02 515.84,292.81 513.74,293.58 511.55,294.32 509.33,295.05 506.51,295.58 503.5,296.03 500.52,296.5 497.58,296.98 494.61,297.46 491.61,297.92 488.77,298.44 486.18,299.04 483.73,299.69 481.38,300.37 479.15,301.1 477.04,301.86 475.03,302.66 473.12,303.5 471.31,304.37" fill="#4a98d3" stroke="#4a98d3" stroke-width="0.3"/>
<polygon points="471.31,304.37 473.12,303.5 475.03,302.66 477.04,301.86 479.15,301.1 481.38,300.37 483.73,299.69 486.18,299.04 488.77,298.44 491.61,297.92 494.61,297.46 497.58,296.98 500.52,296.5 503.5,296.03 506.51,295.58 509.33,295.05 511.55,294.32 513.74,293.58 515.84,292.81 517.86,292.02 519.87,291.22 521.86,290.41 523.82,289.59 525.77,288.77 527.68,287.94 529.57,287.09 531.43,286.24 533.25,285.38 535.04,284.5 536.79,283.61 538.51,282.71 540.2,281.8 541.86,280.88 543.5,279.95 545.12,279.02 546.73,278.08 548.32,277.14 549.9,276.19 551.47,275.24 553.03,274.29 554.57,273.33 556.12,272.37 557.65,271.4 559.18,270.44 560.7,269.47 562.21,268.5 563.73,267.53 565.23,266.56 566.74,265.59 568.24,264.61 581.3,269.07 579.74,270.03 578.17,270.98 576.59,271.93 575.01,272.87 573.42,273.82 571.84,274.77 570.25,275.71 568.66,276.65 567.03,277.58 565.37,278.5 563.66,279.41 561.9,280.29 560.1,281.17 558.26,282.02 556.39,282.87 554.48,283.71 552.55,284.54 550.6,285.36 548.63,286.17 546.64,286.98 544.61,287.77 542.54,288.55 540.43,289.32 538.27,290.07 536.06,290.8 533.8,291.51 531.48,292.21 529.06,292.87 526.47,293.47 523.81,294.05 521.16,294.63 518.52,295.22 515.86,295.79 513.19,296.37 510.51,296.94 507.83,297.51 505.14,298.08 502.43,298.64 499.69,299.19 496.93,299.74 494.18,300.28 491.48,300.85 488.8,301.42 486.23,302.03 483.82,302.69 481.57,303.41 479.49,304.19 477.72,305.07 476.15,306.02" fill="#1879bf" stroke="#1879bf" stroke-width="0.3"/>
<polygon points="476.15,306.02 477.72,305.07 479.49,304.19 481.57,303.41 483.82,302.69 486.23,302.03 488.8,301.42 491.48,300.85 494.18,300.28 496.93,299.74 499.69,299.19 502.43,298.64 505.14,298.08 507.83,297.51 510.51,296.94 513.19,296.37 515.86,295.79 518.52,295.22 521.16,294.63 523.81,294.05 526.47,293.47 529.06,292.87 531.48,292.21 533.8,291.51 536.06,290.8 538.27,290.07 540.43,289.32 542.54,288.55 544.61,287.77 546.64,286.98 548.63,286.17 550.6,285.36 552.55,284.54 554.48,283.71 556.39,282.87 558.26,282.02 560.1,281.17 561.9,280.29 563.66,279.41 565.37,278.5 567.03,277.58 568.66,276.65 570.25,275.71 571.84,274.77 573.42,273.82 575.01,272.87 576.59,271.93 578.17,270.98 579.74,270.03 581.3,269.07 633.75,287 632.41,288.03 631.08,289.06 629.74,290.09 628.4,291.12 627.07,292.15 625.73,293.18 624.39,294.21 623.06,295.24 621.72,296.28 620.38,297.31 619.05,298.34 617.71,299.37 616.37,300.4 615.04,301.43 613.7,302.46 612.36,303.49 611.03,304.52 609.69,305.55 608.35,306.58 607.02,307.61 605.68,308.64 604.34,309.67 603.01,310.7 601.67,311.73 600.33,312.77 598.99,313.8 597.66,314.83 596.32,315.86 594.98,316.89 593.65,317.92 592.31,318.95 590.97,319.98 589.64,321.01 588.3,322.04 586.96,323.07 585.63,324.1 584.29,325.13 582.95,326.16 581.62,327.19 580.28,328.22 578.94,329.26 577.61,330.29 576.27,331.32 574.93,332.35 573.6,333.38 572.26,334.41 570.92,335.44 569.59,336.47 568.25,337.5" fill="#ff6a26" stroke="#ff6a26" stroke-width="0.3"/>
<polyline points="481.72,294.54 483.33,293.6 484.92,292.66 486.52,291.72 488.13,290.78 489.77,289.85 491.42,288.93 493.02,287.99 494.64,287.06 496.26,286.12 497.89,285.19 499.52,284.26 501.16,283.33 502.8,282.41 504.44,281.48 506.08,280.55 507.72,279.63 509.36,278.7 511,277.77 512.62,276.84 514.24,275.9 515.85,274.97 517.46,274.03 519.06,273.09 520.66,272.15 522.25,271.2 523.84,270.26 525.41,269.31 526.98,268.36 528.54,267.4 530.09,266.45 531.63,265.48 533.16,264.52 534.69,263.56 536.21,262.59 537.74,261.62 539.27,260.66 540.81,259.7 542.35,258.74 543.9,257.78 545.48,256.83" fill="none" stroke="#000" stroke-width="0.5"/>
<polyline points="469.75,303.83 471.12,302.82 472.52,301.81 473.95,300.81 475.4,299.82 476.88,298.83 478.38,297.86 479.91,296.9 481.47,295.94 483.13,295.02 484.87,294.13 486.67,293.26 488.59,292.43 490.6,291.62 492.61,290.82 494.49,289.98 496.12,289.05 497.71,288.1 499.31,287.16 500.95,286.24 502.62,285.32 504.3,284.41 505.99,283.5 507.68,282.59 509.38,281.68 511.07,280.77 512.76,279.86 514.44,278.95 516.11,278.03 517.75,277.11 519.38,276.17 521,275.24 522.6,274.3 524.2,273.36 525.79,272.41 527.37,271.47 528.94,270.52 530.5,269.56 532.05,268.6 533.59,267.64 535.11,266.67 536.62,265.7 538.13,264.73 539.64,263.76 541.15,262.79 542.67,261.82 544.19,260.85 545.72,259.89 547.27,258.93 548.84,257.98" fill="none" stroke="#000" stroke-width="0.5"/>
<polyline points="469.97,303.91 471.47,302.93 473,301.97 474.57,301.02 476.17,300.08 477.81,299.15 479.48,298.24 481.19,297.33 482.94,296.44 484.74,295.57 486.6,294.72 488.51,293.89 490.52,293.09 492.61,292.31 494.71,291.54 496.69,290.73 498.39,289.82 500.06,288.91 501.73,287.99 503.42,287.08 505.11,286.17 506.81,285.27 508.52,284.36 510.22,283.46 511.93,282.55 513.62,281.64 515.3,280.73 516.97,279.81 518.63,278.89 520.26,277.96 521.87,277.03 523.47,276.08 525.05,275.14 526.62,274.19 528.19,273.23 529.74,272.28 531.3,271.32 532.85,270.36 534.4,269.41 535.94,268.45 537.48,267.48 539.01,266.52 540.54,265.56 542.07,264.59 543.6,263.63 545.13,262.66 546.67,261.7 548.21,260.74 549.77,259.79 551.35,258.84" fill="none" stroke="#000" stroke-width="0.5"/>
<polyline points="470.18,303.98 471.83,303.06 473.51,302.15 475.23,301.25 476.98,300.36 478.77,299.48 480.58,298.61 482.41,297.75 484.26,296.9 486.11,296.04 487.98,295.19 489.96,294.38 492.13,293.63 494.43,292.93 496.77,292.24 498.89,291.48 500.63,290.59 502.31,289.68 503.99,288.76 505.7,287.86 507.41,286.96 509.12,286.05 510.83,285.15 512.55,284.25 514.25,283.35 515.95,282.44 517.64,281.53 519.31,280.61 520.97,279.69 522.61,278.76 524.22,277.83 525.82,276.89 527.41,275.94 528.99,275 530.56,274.04 532.11,273.09 533.66,272.13 535.2,271.17 536.72,270.2 538.24,269.23 539.73,268.26 541.22,267.28 542.71,266.3 544.19,265.32 545.68,264.34 547.17,263.36 548.68,262.39 550.19,261.42 551.73,260.45 553.3,259.5" fill="none" stroke="#000" stroke-width="0.5"/>
<polyline points="470.4,304.06 472.16,303.17 473.97,302.3 475.82,301.45 477.71,300.61 479.64,299.78 481.59,298.96 483.56,298.14 485.55,297.34 487.51,296.52 489.5,295.71 491.61,294.94 493.92,294.25 496.37,293.59 498.85,292.96 501.1,292.24 502.88,291.36 504.62,290.47 506.34,289.57 508.05,288.66 509.77,287.76 511.47,286.86 513.17,285.95 514.86,285.04 516.55,284.13 518.22,283.22 519.89,282.3 521.54,281.37 523.18,280.45 524.8,279.51 526.41,278.58 528.01,277.64 529.6,276.69 531.18,275.74 532.74,274.79 534.3,273.84 535.85,272.88 537.39,271.92 538.91,270.95 540.43,269.98 541.92,269 543.41,268.03 544.9,267.05 546.38,266.07 547.87,265.09 549.36,264.11 550.87,263.14 552.38,262.17 553.92,261.2 555.49,260.25" fill="none" stroke="#000" stroke-width="0.5"/>
<polyline points="470.62,304.13 472.43,303.26 474.29,302.41 476.21,301.58 478.19,300.77 480.22,299.98 482.3,299.2 484.43,298.44 486.6,297.69 488.79,296.95 491.02,296.23 493.34,295.54 495.8,294.89 498.35,294.27 500.91,293.66 503.2,292.96 504.97,292.07 506.68,291.17 508.37,290.26 510.09,289.36 511.8,288.46 513.51,287.56 515.22,286.65 516.93,285.75 518.63,284.84 520.32,283.93 522.01,283.02 523.68,282.1 525.34,281.18 526.98,280.26 528.61,279.33 530.23,278.39 531.84,277.46 533.44,276.52 535.03,275.57 536.61,274.63 538.18,273.67 539.73,272.72 541.27,271.76 542.79,270.79 544.3,269.82 545.8,268.84 547.29,267.86 548.78,266.89 550.28,265.91 551.78,264.93 553.28,263.96 554.8,262.99 556.34,262.03 557.92,261.08" fill="none" stroke="#000" stroke-width="0.5"/>
<polyline points="470.84,304.21 472.66,303.34 474.55,302.5 476.52,301.69 478.55,300.89 480.66,300.13 482.84,299.38 485.09,298.67 487.42,297.97 489.82,297.31 492.29,296.66 494.82,296.04 497.43,295.45 500.11,294.88 502.79,294.3 505.17,293.63 506.96,292.75 508.68,291.85 510.4,290.95 512.14,290.06 513.89,289.17 515.64,288.28 517.39,287.39 519.13,286.5 520.87,285.61 522.6,284.71 524.31,283.81 526.01,282.9 527.68,281.99 529.33,281.06 530.95,280.13 532.55,279.19 534.14,278.24 535.71,277.29 537.27,276.34 538.83,275.38 540.38,274.42 541.92,273.47 543.46,272.51 544.99,271.54 546.51,270.57 548.03,269.6 549.54,268.63 551.05,267.66 552.56,266.69 554.08,265.72 555.61,264.75 557.14,263.79 558.69,262.83 560.26,261.88" fill="none" stroke="#000" stroke-width="0.5"/>
<polyline points="471.06,304.28 472.89,303.42 474.81,302.59 476.81,301.79 478.9,301.01 481.08,300.27 483.35,299.56 485.71,298.88 488.17,298.23 490.78,297.64 493.49,297.08 496.23,296.52 499.03,295.99 501.89,295.48 504.72,294.96 507.21,294.33 509.02,293.46 510.76,292.57 512.51,291.67 514.3,290.8 516.11,289.93 517.94,289.07 519.78,288.21 521.62,287.35 523.45,286.49 525.27,285.62 527.07,284.75 528.84,283.87 530.58,282.98 532.28,282.07 533.94,281.15 535.57,280.22 537.18,279.28 538.77,278.34 540.35,277.39 541.92,276.44 543.48,275.49 545.05,274.53 546.61,273.58 548.17,272.62 549.71,271.67 551.25,270.7 552.79,269.74 554.32,268.78 555.86,267.82 557.4,266.85 558.94,265.89 560.49,264.94 562.05,263.98 563.62,263.03" fill="none" stroke="#000" stroke-width="0.5"/>
<polyline points="471.31,304.37 473.12,303.5 475.03,302.66 477.04,301.86 479.15,301.1 481.38,300.37 483.73,299.69 486.18,299.04 488.77,298.44 491.61,297.92 494.61,297.46 497.58,296.98 500.52,296.5 503.5,296.03 506.51,295.58 509.33,295.05 511.55,294.32 513.74,293.58 515.84,292.81 517.86,292.02 519.87,291.22 521.86,290.41 523.82,289.59 525.77,288.77 527.68,287.94 529.57,287.09 531.43,286.24 533.25,285.38 535.04,284.5 536.79,283.61 538.51,282.71 540.2,281.8 541.86,280.88 543.5,279.95 545.12,279.02 546.73,278.08 548.32,277.14 549.9,276.19 551.47,275.24 553.03,274.29 554.57,273.33 556.12,272.37 557.65,271.4 559.18,270.44 560.7,269.47 562.21,268.5 563.73,267.53 565.23,266.56 566.74,265.59 568.24,264.61" fill="none" stroke="#000" stroke-width="0.5"/>
<polyline points="476.15,306.02 477.72,305.07 479.49,304.19 481.57,303.41 483.82,302.69 486.23,302.03 488.8,301.42 491.48,300.85 494.18,300.28 496.93,299.74 499.69,299.19 502.43,298.64 505.14,298.08 507.83,297.51 510.51,296.94 513.19,296.37 515.86,295.79 518.52,295.22 521.16,294.63 523.81,294.05 526.47,293.47 529.06,292.87 531.48,292.21 533.8,291.51 536.06,290.8 538.27,290.07 540.43,289.32 542.54,288.55 544.61,287.77 546.64,286.98 548.63,286.17 550.6,285.36 552.55,284.54 554.48,283.71 556.39,282.87 558.26,282.02 560.1,281.17 561.9,280.29 563.66,279.41 565.37,278.5 567.03,277.58 568.66,276.65 570.25,275.71 571.84,274.77 573.42,273.82 575.01,272.87 576.59,271.93 578.17,270.98 579.74,270.03 581.3,269.07" fill="none" stroke="#111" stroke-width="0.45"/>
<polygon points="469.5,303.75 535,253.25 633.75,287 568.25,337.5" fill="none" stroke="#333" stroke-width="0.45"/>
<polygon points="469.5,228.75 470.84,227.72 472.17,226.69 473.51,225.66 474.85,224.63 476.18,223.6 477.52,222.57 478.86,221.54 480.19,220.51 481.53,219.47 482.87,218.44 484.2,217.41 485.54,216.38 486.88,215.35 488.21,214.32 489.55,213.29 490.89,212.26 492.22,211.23 493.56,210.2 494.9,209.17 496.23,208.14 497.57,207.11 498.91,206.08 500.24,205.05 501.58,204.02 502.92,202.98 504.26,201.95 505.59,200.92 506.93,199.89 508.27,198.86 509.6,197.83 510.94,196.8 512.28,195.77 513.61,194.74 514.95,193.71 516.29,192.68 517.62,191.65 518.96,190.62 520.3,189.59 521.63,188.56 522.97,187.53 524.31,186.49 525.64,185.46 526.98,184.43 528.32,183.4 529.65,182.37 530.99,181.34 532.33,180.31 533.66,179.28 535,178.25 546.87,182.31 545.26,183.24 543.68,184.19 542.11,185.14 540.54,186.09 538.99,187.05 537.44,188.01 535.88,188.96 534.33,189.92 532.77,190.88 531.21,191.83 529.63,192.78 528.05,193.72 526.45,194.66 524.84,195.6 523.22,196.54 521.59,197.47 519.96,198.4 518.32,199.32 516.68,200.25 515.03,201.18 513.38,202.1 511.71,203.02 510.04,203.93 508.36,204.85 506.68,205.76 505,206.67 503.31,207.58 501.63,208.49 499.95,209.41 498.28,210.33 496.62,211.24 494.96,212.16 493.31,213.09 491.66,214.01 489.98,214.92 488.3,215.84 486.65,216.76 485.02,217.69 483.39,218.62 481.74,219.55 480.21,220.51 478.86,221.54 477.52,222.57 476.18,223.6 474.85,224.63 473.51,225.66 472.17,226.69 470.84,227.72 469.5,228.75" fill="#ffffff" stroke="#ffffff" stroke-width="0.3"/>
<polygon points="469.5,228.75 470.84,227.72 472.17,226.69 473.51,225.66 474.85,224.63 476.18,223.6 477.52,222.57 478.86,221.54 480.21,220.51 481.74,219.55 483.39,218.62 485.02,217.69 486.65,216.76 488.3,215.84 489.98,214.92 491.66,214.01 493.31,213.09 494.96,212.16 496.62,211.24 498.28,210.33 499.95,209.41 501.63,208.49 503.31,207.58 505,206.67 506.68,205.76 508.36,204.85 510.04,203.93 511.71,203.02 513.38,202.1 515.03,201.18 516.68,200.25 518.32,199.32 519.96,198.4 521.59,197.47 523.22,196.54 524.84,195.6 526.45,194.66 528.05,193.72 529.63,192.78 531.21,191.83 532.77,190.88 534.33,189.92 535.88,188.96 537.44,188.01 538.99,187.05 540.54,186.09 542.11,185.14 543.68,184.19 545.26,183.24 546.87,182.31 550.68,183.61 549.07,184.55 547.5,185.5 545.94,186.45 544.39,187.41 542.86,188.37 541.32,189.34 539.79,190.3 538.26,191.26 536.72,192.22 535.17,193.18 533.61,194.14 532.03,195.09 530.44,196.03 528.84,196.97 527.23,197.91 525.61,198.84 523.97,199.77 522.33,200.69 520.68,201.62 519.01,202.53 517.32,203.45 515.62,204.35 513.89,205.25 512.16,206.14 510.41,207.03 508.67,207.92 506.92,208.82 505.19,209.71 503.46,210.61 501.76,211.51 500.07,212.42 498.43,213.35 496.81,214.28 495.14,215.2 493.19,216.02 491.09,216.79 489,217.56 487,218.37 485.14,219.22 483.34,220.09 481.64,221 480.05,221.94 478.49,222.9 476.97,223.86 475.47,224.84 474.01,225.83 472.57,226.82 471.16,227.83 469.78,228.85" fill="#e6f1fa" stroke="#e6f1fa" stroke-width="0.3"/>
<polygon points="469.78,228.85 471.16,227.83 472.57,226.82 474.01,225.83 475.47,224.84 476.97,223.86 478.49,222.9 480.05,221.94 481.64,221 483.34,220.09 485.14,219.22 487,218.37 489,217.56 491.09,216.79 493.19,216.02 495.14,215.2 496.81,214.28 498.43,213.35 500.07,212.42 501.76,211.51 503.46,210.61 505.19,209.71 506.92,208.82 508.67,207.92 510.41,207.03 512.16,206.14 513.89,205.25 515.62,204.35 517.32,203.45 519.01,202.53 520.68,201.62 522.33,200.69 523.97,199.77 525.61,198.84 527.23,197.91 528.84,196.97 530.44,196.03 532.03,195.09 533.61,194.14 535.17,193.18 536.72,192.22 538.26,191.26 539.79,190.3 541.32,189.34 542.86,188.37 544.39,187.41 545.94,186.45 547.5,185.5 549.07,184.55 550.68,183.61 553.51,184.58 551.91,185.52 550.32,186.46 548.75,187.41 547.18,188.36 545.62,189.32 544.07,190.27 542.51,191.23 540.96,192.19 539.4,193.14 537.84,194.1 536.27,195.05 534.69,195.99 533.11,196.94 531.53,197.89 529.94,198.83 528.35,199.78 526.75,200.72 525.13,201.65 523.5,202.58 521.85,203.51 520.18,204.42 518.48,205.33 516.77,206.23 515.04,207.13 513.3,208.02 511.55,208.91 509.79,209.8 508.04,210.68 506.29,211.57 504.54,212.47 502.81,213.36 501.1,214.26 499.39,215.16 497.64,216.05 495.57,216.84 493.37,217.57 491.18,218.31 489.08,219.08 487.09,219.89 485.17,220.72 483.31,221.57 481.5,222.44 479.74,223.32 478.02,224.22 476.34,225.14 474.71,226.07 473.11,227.01 471.55,227.96 470.03,228.93" fill="#d0e4f4" stroke="#d0e4f4" stroke-width="0.3"/>
<polygon points="470.03,228.93 471.55,227.96 473.11,227.01 474.71,226.07 476.34,225.14 478.02,224.22 479.74,223.32 481.5,222.44 483.31,221.57 485.17,220.72 487.09,219.89 489.08,219.08 491.18,218.31 493.37,217.57 495.57,216.84 497.64,216.05 499.39,215.16 501.1,214.26 502.81,213.36 504.54,212.47 506.29,211.57 508.04,210.68 509.79,209.8 511.55,208.91 513.3,208.02 515.04,207.13 516.77,206.23 518.48,205.33 520.18,204.42 521.85,203.51 523.5,202.58 525.13,201.65 526.75,200.72 528.35,199.78 529.94,198.83 531.53,197.89 533.11,196.94 534.69,195.99 536.27,195.05 537.84,194.1 539.4,193.14 540.96,192.19 542.51,191.23 544.07,190.27 545.62,189.32 547.18,188.36 548.75,187.41 550.32,186.46 551.91,185.52 553.51,184.58 555.73,185.33 554.12,186.27 552.56,187.23 551.02,188.19 549.5,189.15 547.98,190.12 546.48,191.1 544.97,192.07 543.47,193.04 541.96,194.01 540.44,194.98 538.9,195.95 537.35,196.9 535.79,197.86 534.21,198.81 532.63,199.75 531.03,200.69 529.42,201.63 527.8,202.56 526.16,203.49 524.51,204.41 522.83,205.33 521.13,206.24 519.42,207.14 517.68,208.03 515.93,208.92 514.18,209.81 512.42,210.69 510.65,211.58 508.89,212.46 507.13,213.35 505.38,214.24 503.65,215.13 501.92,216.03 500.13,216.91 497.9,217.63 495.43,218.28 493,218.93 490.72,219.64 488.66,220.42 486.71,221.25 484.8,222.08 482.88,222.91 480.98,223.75 479.11,224.6 477.27,225.45 475.46,226.32 473.69,227.21 471.96,228.1 470.28,229.01" fill="#b9d8ef" stroke="#b9d8ef" stroke-width="0.3"/>
<polygon points="470.28,229.01 471.96,228.1 473.69,227.21 475.46,226.32 477.27,225.45 479.11,224.6 480.98,223.75 482.88,222.91 484.8,222.08 486.71,221.25 488.66,220.42 490.72,219.64 493,218.93 495.43,218.28 497.9,217.63 500.13,216.91 501.92,216.03 503.65,215.13 505.38,214.24 507.13,213.35 508.89,212.46 510.65,211.58 512.42,210.69 514.18,209.81 515.93,208.92 517.68,208.03 519.42,207.14 521.13,206.24 522.83,205.33 524.51,204.41 526.16,203.49 527.8,202.56 529.42,201.63 531.03,200.69 532.63,199.75 534.21,198.81 535.79,197.86 537.35,196.9 538.9,195.95 540.44,194.98 541.96,194.01 543.47,193.04 544.97,192.07 546.48,191.1 547.98,190.12 549.5,189.15 551.02,188.19 552.56,187.23 554.12,186.27 555.73,185.33 558.21,186.18 556.6,187.12 555.04,188.07 553.5,189.04 551.98,190 550.46,190.97 548.96,191.94 547.45,192.92 545.95,193.89 544.44,194.86 542.92,195.83 541.38,196.79 539.83,197.75 538.27,198.7 536.69,199.65 535.1,200.6 533.5,201.54 531.89,202.48 530.27,203.41 528.64,204.34 526.99,205.26 525.33,206.18 523.65,207.1 521.96,208 520.25,208.91 518.53,209.81 516.8,210.7 515.06,211.6 513.31,212.49 511.56,213.38 509.8,214.26 508.03,215.14 506.27,216.03 504.48,216.9 502.63,217.76 500.26,218.44 497.62,219.02 495.03,219.62 492.59,220.28 490.38,221.01 488.31,221.79 486.26,222.58 484.19,223.36 482.13,224.14 480.1,224.93 478.09,225.74 476.13,226.55 474.21,227.38 472.34,228.23 470.52,229.1" fill="#a3cbe9" stroke="#a3cbe9" stroke-width="0.3"/>
<polygon points="470.52,229.1 472.34,228.23 474.21,227.38 476.13,226.55 478.09,225.74 480.1,224.93 482.13,224.14 484.19,223.36 486.26,222.58 488.31,221.79 490.38,221.01 492.59,220.28 495.03,219.62 497.62,219.02 500.26,218.44 502.63,217.76 504.48,216.9 506.27,216.03 508.03,215.14 509.8,214.26 511.56,213.38 513.31,212.49 515.06,211.6 516.8,210.7 518.53,209.81 520.25,208.91 521.96,208 523.65,207.1 525.33,206.18 526.99,205.26 528.64,204.34 530.27,203.41 531.89,202.48 533.5,201.54 535.1,200.6 536.69,199.65 538.27,198.7 539.83,197.75 541.38,196.79 542.92,195.83 544.44,194.86 545.95,193.89 547.45,192.92 548.96,191.94 550.46,190.97 551.98,190 553.5,189.04 555.04,188.07 556.6,187.12 558.21,186.18 560.95,187.12 559.35,188.06 557.78,189.01 556.24,189.97 554.71,190.94 553.19,191.9 551.67,192.87 550.16,193.84 548.65,194.81 547.13,195.78 545.6,196.75 544.05,197.71 542.49,198.66 540.91,199.61 539.31,200.55 537.7,201.48 536.07,202.42 534.44,203.34 532.79,204.27 531.13,205.19 529.46,206.11 527.78,207.02 526.08,207.92 524.36,208.82 522.63,209.72 520.89,210.61 519.14,211.5 517.39,212.39 515.63,213.28 513.86,214.16 512.1,215.05 510.34,215.93 508.59,216.82 506.83,217.71 505.01,218.58 502.6,219.24 499.88,219.79 497.17,220.36 494.55,220.95 492.1,221.6 489.75,222.28 487.45,222.98 485.16,223.69 482.93,224.42 480.75,225.16 478.63,225.92 476.57,226.7 474.57,227.51 472.64,228.33 470.77,229.18" fill="#8dbee4" stroke="#8dbee4" stroke-width="0.3"/>
<polygon points="470.77,229.18 472.64,228.33 474.57,227.51 476.57,226.7 478.63,225.92 480.75,225.16 482.93,224.42 485.16,223.69 487.45,222.98 489.75,222.28 492.1,221.6 494.55,220.95 497.17,220.36 499.88,219.79 502.6,219.24 505.01,218.58 506.83,217.71 508.59,216.82 510.34,215.93 512.1,215.05 513.86,214.16 515.63,213.28 517.39,212.39 519.14,211.5 520.89,210.61 522.63,209.72 524.36,208.82 526.08,207.92 527.78,207.02 529.46,206.11 531.13,205.19 532.79,204.27 534.44,203.34 536.07,202.42 537.7,201.48 539.31,200.55 540.91,199.61 542.49,198.66 544.05,197.71 545.6,196.75 547.13,195.78 548.65,194.81 550.16,193.84 551.67,192.87 553.19,191.9 554.71,190.94 556.24,189.97 557.78,189.01 559.35,188.06 560.95,187.12 563.61,188.03 562,188.97 560.43,189.92 558.87,190.87 557.32,191.83 555.78,192.79 554.24,193.75 552.71,194.71 551.17,195.68 549.64,196.64 548.09,197.6 546.54,198.55 544.97,199.51 543.39,200.46 541.82,201.4 540.23,202.35 538.64,203.29 537.04,204.23 535.42,205.17 533.78,206.1 532.12,207.02 530.43,207.93 528.71,208.83 526.97,209.72 525.21,210.6 523.43,211.48 521.64,212.36 519.84,213.23 518.04,214.1 516.23,214.97 514.43,215.84 512.64,216.72 510.87,217.6 509.09,218.48 507.24,219.34 504.72,219.96 501.87,220.48 499.01,220.99 496.22,221.52 493.54,222.09 490.92,222.68 488.37,223.3 485.92,223.95 483.55,224.63 481.25,225.33 479.05,226.06 476.92,226.82 474.87,227.61 472.9,228.43 471.02,229.27" fill="#77b1de" stroke="#77b1de" stroke-width="0.3"/>
<polygon points="471.02,229.27 472.9,228.43 474.87,227.61 476.92,226.82 479.05,226.06 481.25,225.33 483.55,224.63 485.92,223.95 488.37,223.3 490.92,222.68 493.54,222.09 496.22,221.52 499.01,220.99 501.87,220.48 504.72,219.96 507.24,219.34 509.09,218.48 510.87,217.6 512.64,216.72 514.43,215.84 516.23,214.97 518.04,214.1 519.84,213.23 521.64,212.36 523.43,211.48 525.21,210.6 526.97,209.72 528.71,208.83 530.43,207.93 532.12,207.02 533.78,206.1 535.42,205.17 537.04,204.23 538.64,203.29 540.23,202.35 541.82,201.4 543.39,200.46 544.97,199.51 546.54,198.55 548.09,197.6 549.64,196.64 551.17,195.68 552.71,194.71 554.24,193.75 555.78,192.79 557.32,191.83 558.87,190.87 560.43,189.92 562,188.97 563.61,188.03 567.42,189.33 565.81,190.27 564.22,191.21 562.65,192.16 561.08,193.11 559.51,194.06 557.95,195.02 556.39,195.97 554.82,196.92 553.26,197.88 551.68,198.83 550.1,199.77 548.51,200.72 546.91,201.66 545.32,202.6 543.72,203.54 542.11,204.48 540.48,205.41 538.84,206.34 537.17,207.25 535.47,208.16 533.72,209.05 531.92,209.92 530.09,210.78 528.23,211.64 526.35,212.48 524.45,213.32 522.55,214.16 520.64,214.99 518.75,215.83 516.87,216.68 515.02,217.53 513.22,218.41 511.42,219.28 509.55,220.13 506.91,220.71 503.88,221.16 500.82,221.6 497.82,222.07 494.9,222.56 492.01,223.06 489.23,223.59 486.62,224.19 484.12,224.82 481.73,225.49 479.44,226.2 477.25,226.94 475.16,227.71 473.17,228.52 471.27,229.35" fill="#60a5d9" stroke="#60a5d9" stroke-width="0.3"/>
<polygon points="471.27,229.35 473.17,228.52 475.16,227.71 477.25,226.94 479.44,226.2 481.73,225.49 484.12,224.82 486.62,224.19 489.23,223.59 492.01,223.06 494.9,222.56 497.82,222.07 500.82,221.6 503.88,221.16 506.91,220.71 509.55,220.13 511.42,219.28 513.22,218.41 515.02,217.53 516.87,216.68 518.75,215.83 520.64,214.99 522.55,214.16 524.45,213.32 526.35,212.48 528.23,211.64 530.09,210.78 531.92,209.92 533.72,209.05 535.47,208.16 537.17,207.25 538.84,206.34 540.48,205.41 542.11,204.48 543.72,203.54 545.32,202.6 546.91,201.66 548.51,200.72 550.1,199.77 551.68,198.83 553.26,197.88 554.82,196.92 556.39,195.97 557.95,195.02 559.51,194.06 561.08,193.11 562.65,192.16 564.22,191.21 565.81,190.27 567.42,189.33 572.65,191.12 571.13,192.09 569.6,193.05 568.07,194.01 566.53,194.98 564.99,195.94 563.44,196.9 561.89,197.85 560.33,198.81 558.76,199.76 557.19,200.71 555.6,201.65 554,202.59 552.39,203.53 550.76,204.46 549.12,205.39 547.46,206.31 545.78,207.22 544.08,208.13 542.34,209.02 540.58,209.91 538.77,210.77 536.92,211.63 535.03,212.47 533.1,213.3 531.14,214.12 529.15,214.93 527.13,215.72 525.08,216.51 523,217.29 520.91,218.06 518.79,218.82 516.59,219.56 514.29,220.26 511.95,220.95 508.94,221.4 505.7,221.79 502.51,222.18 499.35,222.59 496.17,222.99 492.95,223.38 489.91,223.83 487.15,224.37 484.55,224.97 482.07,225.61 479.73,226.29 477.5,227.02 475.4,227.79 473.42,228.6 471.55,229.45" fill="#4a98d3" stroke="#4a98d3" stroke-width="0.3"/>
<polygon points="471.55,229.45 473.42,228.6 475.4,227.79 477.5,227.02 479.73,226.29 482.07,225.61 484.55,224.97 487.15,224.37 489.91,223.83 492.95,223.38 496.17,222.99 499.35,222.59 502.51,222.18 505.7,221.79 508.94,221.4 511.95,220.95 514.29,220.26 516.59,219.56 518.79,218.82 520.91,218.06 523,217.29 525.08,216.51 527.13,215.72 529.15,214.93 531.14,214.12 533.1,213.3 535.03,212.47 536.92,211.63 538.77,210.77 540.58,209.91 542.34,209.02 544.08,208.13 545.78,207.22 547.46,206.31 549.12,205.39 550.76,204.46 552.39,203.53 554,202.59 555.6,201.65 557.19,200.71 558.76,199.76 560.33,198.81 561.89,197.85 563.44,196.9 564.99,195.94 566.53,194.98 568.07,194.01 569.6,193.05 571.13,192.09 572.65,191.12 587.44,196.17 585.85,197.12 584.25,198.06 582.64,198.99 581.02,199.93 579.4,200.86 577.79,201.8 576.17,202.73 574.53,203.66 572.87,204.58 571.17,205.49 569.41,206.37 567.59,207.24 565.73,208.09 563.83,208.93 561.88,209.75 559.9,210.56 557.89,211.36 555.86,212.15 553.8,212.94 551.72,213.72 549.61,214.48 547.44,215.23 545.23,215.96 542.96,216.67 540.63,217.36 538.25,218.04 535.8,218.69 533.23,219.3 530.48,219.84 527.64,220.36 524.82,220.88 522,221.41 519.17,221.93 516.32,222.44 513.47,222.95 510.61,223.46 507.73,223.97 504.84,224.47 501.92,224.96 498.97,225.43 496.03,225.92 493.15,226.42 490.29,226.93 487.56,227.49 485.01,228.1 482.64,228.78 480.46,229.52 478.63,230.38 477.03,231.32" fill="#1879bf" stroke="#1879bf" stroke-width="0.3"/>
<polygon points="477.03,231.32 478.63,230.38 480.46,229.52 482.64,228.78 485.01,228.1 487.56,227.49 490.29,226.93 493.15,226.42 496.03,225.92 498.97,225.43 501.92,224.96 504.84,224.47 507.73,223.97 510.61,223.46 513.47,222.95 516.32,222.44 519.17,221.93 522,221.41 524.82,220.88 527.64,220.36 530.48,219.84 533.23,219.3 535.8,218.69 538.25,218.04 540.63,217.36 542.96,216.67 545.23,215.96 547.44,215.23 549.61,214.48 551.72,213.72 553.8,212.94 555.86,212.15 557.89,211.36 559.9,210.56 561.88,209.75 563.83,208.93 565.73,208.09 567.59,207.24 569.41,206.37 571.17,205.49 572.87,204.58 574.53,203.66 576.17,202.73 577.79,201.8 579.4,200.86 581.02,199.93 582.64,198.99 584.25,198.06 585.85,197.12 587.44,196.17 633.75,212 632.41,213.03 631.08,214.06 629.74,215.09 628.4,216.12 627.07,217.15 625.73,218.18 624.39,219.21 623.06,220.24 621.72,221.28 620.38,222.31 619.05,223.34 617.71,224.37 616.37,225.4 615.04,226.43 613.7,227.46 612.36,228.49 611.03,229.52 609.69,230.55 608.35,231.58 607.02,232.61 605.68,233.64 604.34,234.67 603.01,235.7 601.67,236.73 600.33,237.77 598.99,238.8 597.66,239.83 596.32,240.86 594.98,241.89 593.65,242.92 592.31,243.95 590.97,244.98 589.64,246.01 588.3,247.04 586.96,248.07 585.63,249.1 584.29,250.13 582.95,251.16 581.62,252.19 580.28,253.22 578.94,254.26 577.61,255.29 576.27,256.32 574.93,257.35 573.6,258.38 572.26,259.41 570.92,260.44 569.59,261.47 568.25,262.5" fill="#ff6a26" stroke="#ff6a26" stroke-width="0.3"/>
<polyline points="481.74,219.55 483.39,218.62 485.02,217.69 486.65,216.76 488.3,215.84 489.98,214.92 491.66,214.01 493.31,213.09 494.96,212.16 496.62,211.24 498.28,210.33 499.95,209.41 501.63,208.49 503.31,207.58 505,206.67 506.68,205.76 508.36,204.85 510.04,203.93 511.71,203.02 513.38,202.1 515.03,201.18 516.68,200.25 518.32,199.32 519.96,198.4 521.59,197.47 523.22,196.54 524.84,195.6 526.45,194.66 528.05,193.72 529.63,192.78 531.21,191.83 532.77,190.88 534.33,189.92 535.88,188.96 537.44,188.01 538.99,187.05 540.54,186.09 542.11,185.14 543.68,184.19 545.26,183.24 546.87,182.31" fill="none" stroke="#000" stroke-width="0.5"/>
<polyline points="469.78,228.85 471.16,227.83 472.57,226.82 474.01,225.83 475.47,224.84 476.97,223.86 478.49,222.9 480.05,221.94 481.64,221 483.34,220.09 485.14,219.22 487,218.37 489,217.56 491.09,216.79 493.19,216.02 495.14,215.2 496.81,214.28 498.43,213.35 500.07,212.42 501.76,211.51 503.46,210.61 505.19,209.71 506.92,208.82 508.67,207.92 510.41,207.03 512.16,206.14 513.89,205.25 515.62,204.35 517.32,203.45 519.01,202.53 520.68,201.62 522.33,200.69 523.97,199.77 525.61,198.84 527.23,197.91 528.84,196.97 530.44,196.03 532.03,195.09 533.61,194.14 535.17,193.18 536.72,192.22 538.26,191.26 539.79,190.3 541.32,189.34 542.86,188.37 544.39,187.41 545.94,186.45 547.5,185.5 549.07,184.55 550.68,183.61" fill="none" stroke="#000" stroke-width="0.5"/>
<polyline points="470.03,228.93 471.55,227.96 473.11,227.01 474.71,226.07 476.34,225.14 478.02,224.22 479.74,223.32 481.5,222.44 483.31,221.57 485.17,220.72 487.09,219.89 489.08,219.08 491.18,218.31 493.37,217.57 495.57,216.84 497.64,216.05 499.39,215.16 501.1,214.26 502.81,213.36 504.54,212.47 506.29,211.57 508.04,210.68 509.79,209.8 511.55,208.91 513.3,208.02 515.04,207.13 516.77,206.23 518.48,205.33 520.18,204.42 521.85,203.51 523.5,202.58 525.13,201.65 526.75,200.72 528.35,199.78 529.94,198.83 531.53,197.89 533.11,196.94 534.69,195.99 536.27,195.05 537.84,194.1 539.4,193.14 540.96,192.19 542.51,191.23 544.07,190.27 545.62,189.32 547.18,188.36 548.75,187.41 550.32,186.46 551.91,185.52 553.51,184.58" fill="none" stroke="#000" stroke-width="0.5"/>
<polyline points="470.28,229.01 471.96,228.1 473.69,227.21 475.46,226.32 477.27,225.45 479.11,224.6 480.98,223.75 482.88,222.91 484.8,222.08 486.71,221.25 488.66,220.42 490.72,219.64 493,218.93 495.43,218.28 497.9,217.63 500.13,216.91 501.92,216.03 503.65,215.13 505.38,214.24 507.13,213.35 508.89,212.46 510.65,211.58 512.42,210.69 514.18,209.81 515.93,208.92 517.68,208.03 519.42,207.14 521.13,206.24 522.83,205.33 524.51,204.41 526.16,203.49 527.8,202.56 529.42,201.63 531.03,200.69 532.63,199.75 534.21,198.81 535.79,197.86 537.35,196.9 538.9,195.95 540.44,194.98 541.96,194.01 543.47,193.04 544.97,192.07 546.48,191.1 547.98,190.12 549.5,189.15 551.02,188.19 552.56,187.23 554.12,186.27 555.73,185.33" fill="none" stroke="#000" stroke-width="0.5"/>
<polyline points="470.52,229.1 472.34,228.23 474.21,227.38 476.13,226.55 478.09,225.74 480.1,224.93 482.13,224.14 484.19,223.36 486.26,222.58 488.31,221.79 490.38,221.01 492.59,220.28 495.03,219.62 497.62,219.02 500.26,218.44 502.63,217.76 504.48,216.9 506.27,216.03 508.03,215.14 509.8,214.26 511.56,213.38 513.31,212.49 515.06,211.6 516.8,210.7 518.53,209.81 520.25,208.91 521.96,208 523.65,207.1 525.33,206.18 526.99,205.26 528.64,204.34 530.27,203.41 531.89,202.48 533.5,201.54 535.1,200.6 536.69,199.65 538.27,198.7 539.83,197.75 541.38,196.79 542.92,195.83 544.44,194.86 545.95,193.89 547.45,192.92 548.96,191.94 550.46,190.97 551.98,190 553.5,189.04 555.04,188.07 556.6,187.12 558.21,186.18" fill="none" stroke="#000" stroke-width="0.5"/>
<polyline points="470.77,229.18 472.64,228.33 474.57,227.51 476.57,226.7 478.63,225.92 480.75,225.16 482.93,224.42 485.16,223.69 487.45,222.98 489.75,222.28 492.1,221.6 494.55,220.95 497.17,220.36 499.88,219.79 502.6,219.24 505.01,218.58 506.83,217.71 508.59,216.82 510.34,215.93 512.1,215.05 513.86,214.16 515.63,213.28 517.39,212.39 519.14,211.5 520.89,210.61 522.63,209.72 524.36,208.82 526.08,207.92 527.78,207.02 529.46,206.11 531.13,205.19 532.79,204.27 534.44,203.34 536.07,202.42 537.7,201.48 539.31,200.55 540.91,199.61 542.49,198.66 544.05,197.71 545.6,196.75 547.13,195.78 548.65,194.81 550.16,193.84 551.67,192.87 553.19,191.9 554.71,190.94 556.24,189.97 557.78,189.01 559.35,188.06 560.95,187.12" fill="none" stroke="#000" stroke-width="0.5"/>
<polyline points="471.02,229.27 472.9,228.43 474.87,227.61 476.92,226.82 479.05,226.06 481.25,225.33 483.55,224.63 485.92,223.95 488.37,223.3 490.92,222.68 493.54,222.09 496.22,221.52 499.01,220.99 501.87,220.48 504.72,219.96 507.24,219.34 509.09,218.48 510.87,217.6 512.64,216.72 514.43,215.84 516.23,214.97 518.04,214.1 519.84,213.23 521.64,212.36 523.43,211.48 525.21,210.6 526.97,209.72 528.71,208.83 530.43,207.93 532.12,207.02 533.78,206.1 535.42,205.17 537.04,204.23 538.64,203.29 540.23,202.35 541.82,201.4 543.39,200.46 544.97,199.51 546.54,198.55 548.09,197.6 549.64,196.64 551.17,195.68 552.71,194.71 554.24,193.75 555.78,192.79 557.32,191.83 558.87,190.87 560.43,189.92 562,188.97 563.61,188.03" fill="none" stroke="#000" stroke-width="0.5"/>
<polyline points="471.27,229.35 473.17,228.52 475.16,227.71 477.25,226.94 479.44,226.2 481.73,225.49 484.12,224.82 486.62,224.19 489.23,223.59 492.01,223.06 494.9,222.56 497.82,222.07 500.82,221.6 503.88,221.16 506.91,220.71 509.55,220.13 511.42,219.28 513.22,218.41 515.02,217.53 516.87,216.68 518.75,215.83 520.64,214.99 522.55,214.16 524.45,213.32 526.35,212.48 528.23,211.64 530.09,210.78 531.92,209.92 533.72,209.05 535.47,208.16 537.17,207.25 538.84,206.34 540.48,205.41 542.11,204.48 543.72,203.54 545.32,202.6 546.91,201.66 548.51,200.72 550.1,199.77 551.68,198.83 553.26,197.88 554.82,196.92 556.39,195.97 557.95,195.02 559.51,194.06 561.08,193.11 562.65,192.16 564.22,191.21 565.81,190.27 567.42,189.33" fill="none" stroke="#000" stroke-width="0.5"/>
<polyline points="471.55,229.45 473.42,228.6 475.4,227.79 477.5,227.02 479.73,226.29 482.07,225.61 484.55,224.97 487.15,224.37 489.91,223.83 492.95,223.38 496.17,222.99 499.35,222.59 502.51,222.18 505.7,221.79 508.94,221.4 511.95,220.95 514.29,220.26 516.59,219.56 518.79,218.82 520.91,218.06 523,217.29 525.08,216.51 527.13,215.72 529.15,214.93 531.14,214.12 533.1,213.3 535.03,212.47 536.92,211.63 538.77,210.77 540.58,209.91 542.34,209.02 544.08,208.13 545.78,207.22 547.46,206.31 549.12,205.39 550.76,204.46 552.39,203.53 554,202.59 555.6,201.65 557.19,200.71 558.76,199.76 560.33,198.81 561.89,197.85 563.44,196.9 564.99,195.94 566.53,194.98 568.07,194.01 569.6,193.05 571.13,192.09 572.65,191.12" fill="none" stroke="#000" stroke-width="0.5"/>
<polyline points="477.03,231.32 478.63,230.38 480.46,229.52 482.64,228.78 485.01,228.1 487.56,227.49 490.29,226.93 493.15,226.42 496.03,225.92 498.97,225.43 501.92,224.96 504.84,224.47 507.73,223.97 510.61,223.46 513.47,222.95 516.32,222.44 519.17,221.93 522,221.41 524.82,220.88 527.64,220.36 530.48,219.84 533.23,219.3 535.8,218.69 538.25,218.04 540.63,217.36 542.96,216.67 545.23,215.96 547.44,215.23 549.61,214.48 551.72,213.72 553.8,212.94 555.86,212.15 557.89,211.36 559.9,210.56 561.88,209.75 563.83,208.93 565.73,208.09 567.59,207.24 569.41,206.37 571.17,205.49 572.87,204.58 574.53,203.66 576.17,202.73 577.79,201.8 579.4,200.86 581.02,199.93 582.64,198.99 584.25,198.06 585.85,197.12 587.44,196.17" fill="none" stroke="#111" stroke-width="0.45"/>
<polygon points="469.5,228.75 535,178.25 633.75,212 568.25,262.5" fill="none" stroke="#333" stroke-width="0.45"/>
<polygon points="469.5,153.75 470.84,152.72 472.17,151.69 473.51,150.66 474.85,149.63 476.18,148.6 477.52,147.57 478.86,146.54 480.19,145.51 481.53,144.47 482.87,143.44 484.2,142.41 485.54,141.38 486.88,140.35 488.21,139.32 489.55,138.29 490.89,137.26 492.22,136.23 493.56,135.2 494.9,134.17 496.23,133.14 497.57,132.11 498.91,131.08 500.24,130.05 501.58,129.02 502.92,127.98 504.26,126.95 505.59,125.92 506.93,124.89 508.27,123.86 509.6,122.83 510.94,121.8 512.28,120.77 513.61,119.74 514.95,118.71 516.29,117.68 517.62,116.65 518.96,115.62 520.3,114.59 521.63,113.56 522.97,112.53 524.31,111.49 525.64,110.46 526.98,109.43 528.32,108.4 529.65,107.37 530.99,106.34 532.33,105.31 533.66,104.28 535,103.25 547.93,107.67 546.3,108.6 544.69,109.54 543.1,110.48 541.52,111.43 539.94,112.38 538.37,113.33 536.8,114.28 535.23,115.23 533.65,116.18 532.06,117.12 530.47,118.06 528.86,119 527.23,119.93 525.6,120.86 523.96,121.79 522.3,122.71 520.65,123.63 518.98,124.55 517.31,125.47 515.64,126.38 513.95,127.29 512.26,128.2 510.56,129.11 508.85,130.01 507.13,130.91 505.42,131.81 503.71,132.72 501.99,133.62 500.29,134.52 498.58,135.43 496.89,136.34 495.21,137.25 493.52,138.16 491.85,139.08 490.13,139.98 488.42,140.88 486.75,141.79 485.09,142.72 483.43,143.64 481.76,144.55 480.22,145.51 478.86,146.54 477.52,147.57 476.18,148.6 474.85,149.63 473.51,150.66 472.17,151.69 470.84,152.72 469.5,153.75" fill="#ffffff" stroke="#ffffff" stroke-width="0.3"/>
<polygon points="469.5,153.75 470.84,152.72 472.17,151.69 473.51,150.66 474.85,149.63 476.18,148.6 477.52,147.57 478.86,146.54 480.22,145.51 481.76,144.55 483.43,143.64 485.09,142.72 486.75,141.79 488.42,140.88 490.13,139.98 491.85,139.08 493.52,138.16 495.21,137.25 496.89,136.34 498.58,135.43 500.29,134.52 501.99,133.62 503.71,132.72 505.42,131.81 507.13,130.91 508.85,130.01 510.56,129.11 512.26,128.2 513.95,127.29 515.64,126.38 517.31,125.47 518.98,124.55 520.65,123.63 522.3,122.71 523.96,121.79 525.6,120.86 527.23,119.93 528.86,119 530.47,118.06 532.06,117.12 533.65,116.18 535.23,115.23 536.8,114.28 538.37,113.33 539.94,112.38 541.52,111.43 543.1,110.48 544.69,109.54 546.3,108.6 547.93,107.67 552.08,109.09 550.45,110.02 548.85,110.96 547.27,111.91 545.71,112.86 544.15,113.82 542.6,114.77 541.05,115.73 539.5,116.69 537.94,117.64 536.38,118.6 534.8,119.54 533.2,120.48 531.59,121.42 529.96,122.35 528.32,123.28 526.68,124.2 525.02,125.12 523.34,126.04 521.66,126.95 519.97,127.86 518.25,128.76 516.51,129.66 514.75,130.54 512.98,131.42 511.2,132.3 509.42,133.18 507.64,134.06 505.87,134.94 504.11,135.83 502.37,136.72 500.65,137.62 498.99,138.54 497.34,139.46 495.64,140.37 493.64,141.18 491.46,141.92 489.3,142.67 487.25,143.45 485.34,144.29 483.5,145.15 481.77,146.04 480.16,146.98 478.58,147.93 477.04,148.89 475.53,149.86 474.05,150.84 472.6,151.84 471.19,152.84 469.8,153.85" fill="#e6f1fa" stroke="#e6f1fa" stroke-width="0.3"/>
<polygon points="469.8,153.85 471.19,152.84 472.6,151.84 474.05,150.84 475.53,149.86 477.04,148.89 478.58,147.93 480.16,146.98 481.77,146.04 483.5,145.15 485.34,144.29 487.25,143.45 489.3,142.67 491.46,141.92 493.64,141.18 495.64,140.37 497.34,139.46 498.99,138.54 500.65,137.62 502.37,136.72 504.11,135.83 505.87,134.94 507.64,134.06 509.42,133.18 511.2,132.3 512.98,131.42 514.75,130.54 516.51,129.66 518.25,128.76 519.97,127.86 521.66,126.95 523.34,126.04 525.02,125.12 526.68,124.2 528.32,123.28 529.96,122.35 531.59,121.42 533.2,120.48 534.8,119.54 536.38,118.6 537.94,117.64 539.5,116.69 541.05,115.73 542.6,114.77 544.15,113.82 545.71,112.86 547.27,111.91 548.85,110.96 550.45,110.02 552.08,109.09 555.16,110.14 553.53,111.07 551.93,112.01 550.33,112.95 548.75,113.9 547.17,114.85 545.59,115.79 544.02,116.74 542.44,117.69 540.87,118.64 539.29,119.59 537.69,120.53 536.09,121.47 534.49,122.41 532.89,123.35 531.28,124.29 529.66,125.23 528.04,126.16 526.4,127.08 524.74,128.01 523.06,128.92 521.36,129.83 519.63,130.72 517.88,131.61 516.12,132.5 514.34,133.38 512.56,134.25 510.76,135.13 508.97,136 507.19,136.88 505.41,137.76 503.64,138.64 501.89,139.53 500.14,140.42 498.36,141.3 496.23,142.06 493.94,142.77 491.69,143.48 489.52,144.23 487.47,145.02 485.49,145.83 483.58,146.66 481.74,147.52 479.94,148.39 478.18,149.28 476.48,150.18 474.81,151.1 473.19,152.04 471.61,152.98 470.07,153.95" fill="#d0e4f4" stroke="#d0e4f4" stroke-width="0.3"/>
<polygon points="470.07,153.95 471.61,152.98 473.19,152.04 474.81,151.1 476.48,150.18 478.18,149.28 479.94,148.39 481.74,147.52 483.58,146.66 485.49,145.83 487.47,145.02 489.52,144.23 491.69,143.48 493.94,142.77 496.23,142.06 498.36,141.3 500.14,140.42 501.89,139.53 503.64,138.64 505.41,137.76 507.19,136.88 508.97,136 510.76,135.13 512.56,134.25 514.34,133.38 516.12,132.5 517.88,131.61 519.63,130.72 521.36,129.83 523.06,128.92 524.74,128.01 526.4,127.08 528.04,126.16 529.66,125.23 531.28,124.29 532.89,123.35 534.49,122.41 536.09,121.47 537.69,120.53 539.29,119.59 540.87,118.64 542.44,117.69 544.02,116.74 545.59,115.79 547.17,114.85 548.75,113.9 550.33,112.95 551.93,112.01 553.53,111.07 555.16,110.14 557.58,110.97 555.94,111.9 554.37,112.84 552.81,113.8 551.27,114.76 549.74,115.72 548.22,116.69 546.7,117.66 545.18,118.63 543.65,119.59 542.11,120.56 540.56,121.51 538.99,122.46 537.41,123.41 535.81,124.35 534.2,125.29 532.58,126.22 530.95,127.15 529.3,128.08 527.64,129 525.96,129.91 524.25,130.81 522.52,131.71 520.77,132.6 519,133.48 517.21,134.36 515.42,135.23 513.62,136.1 511.82,136.98 510.02,137.85 508.22,138.72 506.43,139.6 504.67,140.48 502.9,141.37 501.07,142.23 498.77,142.93 496.2,143.54 493.67,144.16 491.3,144.84 489.17,145.6 487.17,146.4 485.22,147.22 483.24,148.03 481.29,148.85 479.37,149.69 477.48,150.53 475.63,151.38 473.83,152.25 472.06,153.14 470.34,154.04" fill="#b9d8ef" stroke="#b9d8ef" stroke-width="0.3"/>
<polygon points="470.34,154.04 472.06,153.14 473.83,152.25 475.63,151.38 477.48,150.53 479.37,149.69 481.29,148.85 483.24,148.03 485.22,147.22 487.17,146.4 489.17,145.6 491.3,144.84 493.67,144.16 496.2,143.54 498.77,142.93 501.07,142.23 502.9,141.37 504.67,140.48 506.43,139.6 508.22,138.72 510.02,137.85 511.82,136.98 513.62,136.1 515.42,135.23 517.21,134.36 519,133.48 520.77,132.6 522.52,131.71 524.25,130.81 525.96,129.91 527.64,129 529.3,128.08 530.95,127.15 532.58,126.22 534.2,125.29 535.81,124.35 537.41,123.41 538.99,122.46 540.56,121.51 542.11,120.56 543.65,119.59 545.18,118.63 546.7,117.66 548.22,116.69 549.74,115.72 551.27,114.76 552.81,113.8 554.37,112.84 555.94,111.9 557.58,110.97 560.28,111.89 558.65,112.82 557.07,113.77 555.51,114.72 553.97,115.68 552.44,116.65 550.92,117.61 549.4,118.58 547.88,119.55 546.35,120.52 544.82,121.48 543.26,122.44 541.69,123.39 540.11,124.33 538.51,125.27 536.9,126.21 535.28,127.14 533.64,128.07 532,129 530.34,129.92 528.66,130.83 526.97,131.74 525.26,132.65 523.54,133.54 521.8,134.44 520.04,135.33 518.28,136.21 516.5,137.09 514.72,137.97 512.93,138.84 511.13,139.72 509.32,140.59 507.52,141.46 505.69,142.32 503.79,143.16 501.34,143.81 498.58,144.35 495.87,144.91 493.34,145.53 491.05,146.24 488.91,147 486.8,147.76 484.66,148.52 482.54,149.28 480.44,150.05 478.38,150.84 476.36,151.63 474.39,152.45 472.47,153.28 470.61,154.13" fill="#a3cbe9" stroke="#a3cbe9" stroke-width="0.3"/>
<polygon points="470.61,154.13 472.47,153.28 474.39,152.45 476.36,151.63 478.38,150.84 480.44,150.05 482.54,149.28 484.66,148.52 486.8,147.76 488.91,147 491.05,146.24 493.34,145.53 495.87,144.91 498.58,144.35 501.34,143.81 503.79,143.16 505.69,142.32 507.52,141.46 509.32,140.59 511.13,139.72 512.93,138.84 514.72,137.97 516.5,137.09 518.28,136.21 520.04,135.33 521.8,134.44 523.54,133.54 525.26,132.65 526.97,131.74 528.66,130.83 530.34,129.92 532,129 533.64,128.07 535.28,127.14 536.9,126.21 538.51,125.27 540.11,124.33 541.69,123.39 543.26,122.44 544.82,121.48 546.35,120.52 547.88,119.55 549.4,118.58 550.92,117.61 552.44,116.65 553.97,115.68 555.51,114.72 557.07,113.77 558.65,112.82 560.28,111.89 563.27,112.91 561.64,113.84 560.05,114.79 558.49,115.74 556.94,116.7 555.41,117.66 553.88,118.63 552.35,119.59 550.82,120.56 549.28,121.52 547.73,122.48 546.17,123.43 544.59,124.38 542.98,125.32 541.36,126.25 539.73,127.18 538.08,128.1 536.41,129.02 534.74,129.93 533.05,130.85 531.35,131.75 529.64,132.65 527.9,133.55 526.15,134.44 524.39,135.32 522.61,136.2 520.83,137.08 519.03,137.95 517.24,138.83 515.43,139.7 513.63,140.57 511.83,141.44 510.05,142.32 508.26,143.2 506.39,144.05 503.88,144.68 501.04,145.19 498.2,145.71 495.48,146.27 492.92,146.88 490.48,147.53 488.09,148.2 485.73,148.88 483.41,149.58 481.16,150.3 478.97,151.04 476.84,151.8 474.78,152.58 472.8,153.39 470.88,154.22" fill="#8dbee4" stroke="#8dbee4" stroke-width="0.3"/>
<polygon points="470.88,154.22 472.8,153.39 474.78,152.58 476.84,151.8 478.97,151.04 481.16,150.3 483.41,149.58 485.73,148.88 488.09,148.2 490.48,147.53 492.92,146.88 495.48,146.27 498.2,145.71 501.04,145.19 503.88,144.68 506.39,144.05 508.26,143.2 510.05,142.32 511.83,141.44 513.63,140.57 515.43,139.7 517.24,138.83 519.03,137.95 520.83,137.08 522.61,136.2 524.39,135.32 526.15,134.44 527.9,133.55 529.64,132.65 531.35,131.75 533.05,130.85 534.74,129.93 536.41,129.02 538.08,128.1 539.73,127.18 541.36,126.25 542.98,125.32 544.59,124.38 546.17,123.43 547.73,122.48 549.28,121.52 550.82,120.56 552.35,119.59 553.88,118.63 555.41,117.66 556.94,116.7 558.49,115.74 560.05,114.79 561.64,113.84 563.27,112.91 566.16,113.9 564.53,114.83 562.94,115.77 561.36,116.72 559.79,117.67 558.23,118.63 556.67,119.58 555.12,120.54 553.57,121.5 552.01,122.45 550.45,123.41 548.88,124.35 547.29,125.3 545.69,126.24 544.09,127.18 542.49,128.12 540.87,129.06 539.25,129.99 537.6,130.91 535.94,131.83 534.25,132.74 532.53,133.64 530.78,134.53 529,135.41 527.2,136.28 525.38,137.15 523.55,138.01 521.71,138.87 519.86,139.72 518.01,140.58 516.17,141.44 514.34,142.3 512.53,143.17 510.71,144.03 508.81,144.87 506.19,145.46 503.2,145.93 500.21,146.4 497.29,146.89 494.49,147.42 491.75,147.97 489.1,148.55 486.55,149.16 484.08,149.81 481.71,150.48 479.42,151.19 477.22,151.93 475.11,152.69 473.09,153.49 471.15,154.32" fill="#77b1de" stroke="#77b1de" stroke-width="0.3"/>
<polygon points="471.15,154.32 473.09,153.49 475.11,152.69 477.22,151.93 479.42,151.19 481.71,150.48 484.08,149.81 486.55,149.16 489.1,148.55 491.75,147.97 494.49,147.42 497.29,146.89 500.21,146.4 503.2,145.93 506.19,145.46 508.81,144.87 510.71,144.03 512.53,143.17 514.34,142.3 516.17,141.44 518.01,140.58 519.86,139.72 521.71,138.87 523.55,138.01 525.38,137.15 527.2,136.28 529,135.41 530.78,134.53 532.53,133.64 534.25,132.74 535.94,131.83 537.6,130.91 539.25,129.99 540.87,129.06 542.49,128.12 544.09,127.18 545.69,126.24 547.29,125.3 548.88,124.35 550.45,123.41 552.01,122.45 553.57,121.5 555.12,120.54 556.67,119.58 558.23,118.63 559.79,117.67 561.36,116.72 562.94,115.77 564.53,114.83 566.16,113.9 570.31,115.32 568.68,116.25 567.07,117.19 565.47,118.13 563.88,119.07 562.29,120.02 560.71,120.96 559.13,121.91 557.55,122.86 555.96,123.8 554.36,124.74 552.76,125.68 551.14,126.62 549.52,127.55 547.91,128.49 546.28,129.42 544.65,130.35 543,131.27 541.33,132.19 539.63,133.09 537.89,133.99 536.11,134.87 534.27,135.73 532.4,136.57 530.49,137.41 528.56,138.23 526.61,139.06 524.65,139.88 522.7,140.7 520.76,141.52 518.83,142.35 516.93,143.19 515.09,144.05 513.26,144.91 511.33,145.74 508.57,146.28 505.39,146.68 502.18,147.07 499.04,147.48 495.98,147.92 492.95,148.38 490.04,148.87 487.31,149.43 484.71,150.02 482.22,150.66 479.85,151.34 477.58,152.05 475.43,152.8 473.37,153.59 471.42,154.41" fill="#60a5d9" stroke="#60a5d9" stroke-width="0.3"/>
<polygon points="471.42,154.41 473.37,153.59 475.43,152.8 477.58,152.05 479.85,151.34 482.22,150.66 484.71,150.02 487.31,149.43 490.04,148.87 492.95,148.38 495.98,147.92 499.04,147.48 502.18,147.07 505.39,146.68 508.57,146.28 511.33,145.74 513.26,144.91 515.09,144.05 516.93,143.19 518.83,142.35 520.76,141.52 522.7,140.7 524.65,139.88 526.61,139.06 528.56,138.23 530.49,137.41 532.4,136.57 534.27,135.73 536.11,134.87 537.89,133.99 539.63,133.09 541.33,132.19 543,131.27 544.65,130.35 546.28,129.42 547.91,128.49 549.52,127.55 551.14,126.62 552.76,125.68 554.36,124.74 555.96,123.8 557.55,122.86 559.13,121.91 560.71,120.96 562.29,120.02 563.88,119.07 565.47,118.13 567.07,117.19 568.68,116.25 570.31,115.32 576,117.26 574.47,118.23 572.92,119.19 571.37,120.14 569.82,121.1 568.26,122.05 566.7,123.01 565.13,123.96 563.55,124.91 561.96,125.85 560.36,126.79 558.75,127.73 557.12,128.66 555.49,129.59 553.84,130.51 552.17,131.43 550.48,132.34 548.77,133.24 547.03,134.14 545.26,135.02 543.46,135.89 541.61,136.75 539.71,137.59 537.77,138.41 535.8,139.22 533.78,140.02 531.73,140.81 529.64,141.58 527.53,142.35 525.39,143.1 523.23,143.85 521.04,144.59 518.76,145.3 516.38,145.97 513.95,146.63 510.79,147.04 507.38,147.36 504.02,147.7 500.7,148.05 497.35,148.39 493.97,148.73 490.77,149.12 487.89,149.62 485.18,150.18 482.6,150.79 480.16,151.44 477.86,152.14 475.69,152.89 473.65,153.68 471.73,154.51" fill="#4a98d3" stroke="#4a98d3" stroke-width="0.3"/>
<polygon points="471.73,154.51 473.65,153.68 475.69,152.89 477.86,152.14 480.16,151.44 482.6,150.79 485.18,150.18 487.89,149.62 490.77,149.12 493.97,148.73 497.35,148.39 500.7,148.05 504.02,147.7 507.38,147.36 510.79,147.04 513.95,146.63 516.38,145.97 518.76,145.3 521.04,144.59 523.23,143.85 525.39,143.1 527.53,142.35 529.64,141.58 531.73,140.81 533.78,140.02 535.8,139.22 537.77,138.41 539.71,137.59 541.61,136.75 543.46,135.89 545.26,135.02 547.03,134.14 548.77,133.24 550.48,132.34 552.17,131.43 553.84,130.51 555.49,129.59 557.12,128.66 558.75,127.73 560.36,126.79 561.96,125.85 563.55,124.91 565.13,123.96 566.7,123.01 568.26,122.05 569.82,121.1 571.37,120.14 572.92,119.19 574.47,118.23 576,117.26 592.12,122.77 590.5,123.71 588.88,124.64 587.25,125.57 585.61,126.5 583.96,127.42 582.32,128.35 580.68,129.27 579.01,130.19 577.32,131.1 575.58,132 573.79,132.87 571.93,133.72 570.02,134.56 568.07,135.38 566.07,136.18 564.03,136.97 561.96,137.75 559.86,138.52 557.74,139.28 555.6,140.04 553.41,140.78 551.18,141.5 548.88,142.21 546.53,142.89 544.12,143.55 541.64,144.19 539.09,144.81 536.42,145.38 533.54,145.89 530.56,146.36 527.6,146.83 524.66,147.31 521.69,147.79 518.71,148.26 515.72,148.72 512.72,149.19 509.71,149.64 506.69,150.1 503.62,150.54 500.52,150.96 497.44,151.4 494.43,151.86 491.43,152.32 488.58,152.83 485.92,153.41 483.46,154.06 481.2,154.77 479.33,155.62 477.7,156.55" fill="#1879bf" stroke="#1879bf" stroke-width="0.3"/>
<polygon points="477.7,156.55 479.33,155.62 481.2,154.77 483.46,154.06 485.92,153.41 488.58,152.83 491.43,152.32 494.43,151.86 497.44,151.4 500.52,150.96 503.62,150.54 506.69,150.1 509.71,149.64 512.72,149.19 515.72,148.72 518.71,148.26 521.69,147.79 524.66,147.31 527.6,146.83 530.56,146.36 533.54,145.89 536.42,145.38 539.09,144.81 541.64,144.19 544.12,143.55 546.53,142.89 548.88,142.21 551.18,141.5 553.41,140.78 555.6,140.04 557.74,139.28 559.86,138.52 561.96,137.75 564.03,136.97 566.07,136.18 568.07,135.38 570.02,134.56 571.93,133.72 573.79,132.87 575.58,132 577.32,131.1 579.01,130.19 580.68,129.27 582.32,128.35 583.96,127.42 585.61,126.5 587.25,125.57 588.88,124.64 590.5,123.71 592.12,122.77 633.75,137 632.41,138.03 631.08,139.06 629.74,140.09 628.4,141.12 627.07,142.15 625.73,143.18 624.39,144.21 623.06,145.24 621.72,146.28 620.38,147.31 619.05,148.34 617.71,149.37 616.37,150.4 615.04,151.43 613.7,152.46 612.36,153.49 611.03,154.52 609.69,155.55 608.35,156.58 607.02,157.61 605.68,158.64 604.34,159.67 603.01,160.7 601.67,161.73 600.33,162.77 598.99,163.8 597.66,164.83 596.32,165.86 594.98,166.89 593.65,167.92 592.31,168.95 590.97,169.98 589.64,171.01 588.3,172.04 586.96,173.07 585.63,174.1 584.29,175.13 582.95,176.16 581.62,177.19 580.28,178.22 578.94,179.26 577.61,180.29 576.27,181.32 574.93,182.35 573.6,183.38 572.26,184.41 570.92,185.44 569.59,186.47 568.25,187.5" fill="#ff6a26" stroke="#ff6a26" stroke-width="0.3"/>
<polyline points="481.76,144.55 483.43,143.64 485.09,142.72 486.75,141.79 488.42,140.88 490.13,139.98 491.85,139.08 493.52,138.16 495.21,137.25 496.89,136.34 498.58,135.43 500.29,134.52 501.99,133.62 503.71,132.72 505.42,131.81 507.13,130.91 508.85,130.01 510.56,129.11 512.26,128.2 513.95,127.29 515.64,126.38 517.31,125.47 518.98,124.55 520.65,123.63 522.3,122.71 523.96,121.79 525.6,120.86 527.23,119.93 528.86,119 530.47,118.06 532.06,117.12 533.65,116.18 535.23,115.23 536.8,114.28 538.37,113.33 539.94,112.38 541.52,111.43 543.1,110.48 544.69,109.54 546.3,108.6 547.93,107.67" fill="none" stroke="#000" stroke-width="0.5"/>
<polyline points="469.8,153.85 471.19,152.84 472.6,151.84 474.05,150.84 475.53,149.86 477.04,148.89 478.58,147.93 480.16,146.98 481.77,146.04 483.5,145.15 485.34,144.29 487.25,143.45 489.3,142.67 491.46,141.92 493.64,141.18 495.64,140.37 497.34,139.46 498.99,138.54 500.65,137.62 502.37,136.72 504.11,135.83 505.87,134.94 507.64,134.06 509.42,133.18 511.2,132.3 512.98,131.42 514.75,130.54 516.51,129.66 518.25,128.76 519.97,127.86 521.66,126.95 523.34,126.04 525.02,125.12 526.68,124.2 528.32,123.28 529.96,122.35 531.59,121.42 533.2,120.48 534.8,119.54 536.38,118.6 537.94,117.64 539.5,116.69 541.05,115.73 542.6,114.77 544.15,113.82 545.71,112.86 547.27,111.91 548.85,110.96 550.45,110.02 552.08,109.09" fill="none" stroke="#000" stroke-width="0.5"/>
<polyline points="470.07,153.95 471.61,152.98 473.19,152.04 474.81,151.1 476.48,150.18 478.18,149.28 479.94,148.39 481.74,147.52 483.58,146.66 485.49,145.83 487.47,145.02 489.52,144.23 491.69,143.48 493.94,142.77 496.23,142.06 498.36,141.3 500.14,140.42 501.89,139.53 503.64,138.64 505.41,137.76 507.19,136.88 508.97,136 510.76,135.13 512.56,134.25 514.34,133.38 516.12,132.5 517.88,131.61 519.63,130.72 521.36,129.83 523.06,128.92 524.74,128.01 526.4,127.08 528.04,126.16 529.66,125.23 531.28,124.29 532.89,123.35 534.49,122.41 536.09,121.47 537.69,120.53 539.29,119.59 540.87,118.64 542.44,117.69 544.02,116.74 545.59,115.79 547.17,114.85 548.75,113.9 550.33,112.95 551.93,112.01 553.53,111.07 555.16,110.14" fill="none" stroke="#000" stroke-width="0.5"/>
<polyline points="470.34,154.04 472.06,153.14 473.83,152.25 475.63,151.38 477.48,150.53 479.37,149.69 481.29,148.85 483.24,148.03 485.22,147.22 487.17,146.4 489.17,145.6 491.3,144.84 493.67,144.16 496.2,143.54 498.77,142.93 501.07,142.23 502.9,141.37 504.67,140.48 506.43,139.6 508.22,138.72 510.02,137.85 511.82,136.98 513.62,136.1 515.42,135.23 517.21,134.36 519,133.48 520.77,132.6 522.52,131.71 524.25,130.81 525.96,129.91 527.64,129 529.3,128.08 530.95,127.15 532.58,126.22 534.2,125.29 535.81,124.35 537.41,123.41 538.99,122.46 540.56,121.51 542.11,120.56 543.65,119.59 545.18,118.63 546.7,117.66 548.22,116.69 549.74,115.72 551.27,114.76 552.81,113.8 554.37,112.84 555.94,111.9 557.58,110.97" fill="none" stroke="#000" stroke-width="0.5"/>
<polyline points="470.61,154.13 472.47,153.28 474.39,152.45 476.36,151.63 478.38,150.84 480.44,150.05 482.54,149.28 484.66,148.52 486.8,147.76 488.91,147 491.05,146.24 493.34,145.53 495.87,144.91 498.58,144.35 501.34,143.81 503.79,143.16 505.69,142.32 507.52,141.46 509.32,140.59 511.13,139.72 512.93,138.84 514.72,137.97 516.5,137.09 518.28,136.21 520.04,135.33 521.8,134.44 523.54,133.54 525.26,132.65 526.97,131.74 528.66,130.83 530.34,129.92 532,129 533.64,128.07 535.28,127.14 536.9,126.21 538.51,125.27 540.11,124.33 541.69,123.39 543.26,122.44 544.82,121.48 546.35,120.52 547.88,119.55 549.4,118.58 550.92,117.61 552.44,116.65 553.97,115.68 555.51,114.72 557.07,113.77 558.65,112.82 560.28,111.89" fill="none" stroke="#000" stroke-width="0.5"/>
<polyline points="470.88,154.22 472.8,153.39 474.78,152.58 476.84,151.8 478.97,151.04 481.16,150.3 483.41,149.58 485.73,148.88 488.09,148.2 490.48,147.53 492.92,146.88 495.48,146.27 498.2,145.71 501.04,145.19 503.88,144.68 506.39,144.05 508.26,143.2 510.05,142.32 511.83,141.44 513.63,140.57 515.43,139.7 517.24,138.83 519.03,137.95 520.83,137.08 522.61,136.2 524.39,135.32 526.15,134.44 527.9,133.55 529.64,132.65 531.35,131.75 533.05,130.85 534.74,129.93 536.41,129.02 538.08,128.1 539.73,127.18 541.36,126.25 542.98,125.32 544.59,124.38 546.17,123.43 547.73,122.48 549.28,121.52 550.82,120.56 552.35,119.59 553.88,118.63 555.41,117.66 556.94,116.7 558.49,115.74 560.05,114.79 561.64,113.84 563.27,112.91" fill="none" stroke="#000" stroke-width="0.5"/>
<polyline points="471.15,154.32 473.09,153.49 475.11,152.69 477.22,151.93 479.42,151.19 481.71,150.48 484.08,149.81 486.55,149.16 489.1,148.55 491.75,147.97 494.49,147.42 497.29,146.89 500.21,146.4 503.2,145.93 506.19,145.46 508.81,144.87 510.71,144.03 512.53,143.17 514.34,142.3 516.17,141.44 518.01,140.58 519.86,139.72 521.71,138.87 523.55,138.01 525.38,137.15 527.2,136.28 529,135.41 530.78,134.53 532.53,133.64 534.25,132.74 535.94,131.83 537.6,130.91 539.25,129.99 540.87,129.06 542.49,128.12 544.09,127.18 545.69,126.24 547.29,125.3 548.88,124.35 550.45,123.41 552.01,122.45 553.57,121.5 555.12,120.54 556.67,119.58 558.23,118.63 559.79,117.67 561.36,116.72 562.94,115.77 564.53,114.83 566.16,113.9" fill="none" stroke="#000" stroke-width="0.5"/>
<polyline points="471.42,154.41 473.37,153.59 475.43,152.8 477.58,152.05 479.85,151.34 482.22,150.66 484.71,150.02 487.31,149.43 490.04,148.87 492.95,148.38 495.98,147.92 499.04,147.48 502.18,147.07 505.39,146.68 508.57,146.28 511.33,145.74 513.26,144.91 515.09,144.05 516.93,143.19 518.83,142.35 520.76,141.52 522.7,140.7 524.65,139.88 526.61,139.06 528.56,138.23 530.49,137.41 532.4,136.57 534.27,135.73 536.11,134.87 537.89,133.99 539.63,133.09 541.33,132.19 543,131.27 544.65,130.35 546.28,129.42 547.91,128.49 549.52,127.55 551.14,126.62 552.76,125.68 554.36,124.74 555.96,123.8 557.55,122.86 559.13,121.91 560.71,120.96 562.29,120.02 563.88,119.07 565.47,118.13 567.07,117.19 568.68,116.25 570.31,115.32" fill="none" stroke="#000" stroke-width="0.5"/>
<polyline points="471.73,154.51 473.65,153.68 475.69,152.89 477.86,152.14 480.16,151.44 482.6,150.79 485.18,150.18 487.89,149.62 490.77,149.12 493.97,148.73 497.35,148.39 500.7,148.05 504.02,147.7 507.38,147.36 510.79,147.04 513.95,146.63 516.38,145.97 518.76,145.3 521.04,144.59 523.23,143.85 525.39,143.1 527.53,142.35 529.64,141.58 531.73,140.81 533.78,140.02 535.8,139.22 537.77,138.41 539.71,137.59 541.61,136.75 543.46,135.89 545.26,135.02 547.03,134.14 548.77,133.24 550.48,132.34 552.17,131.43 553.84,130.51 555.49,129.59 557.12,128.66 558.75,127.73 560.36,126.79 561.96,125.85 563.55,124.91 565.13,123.96 566.7,123.01 568.26,122.05 569.82,121.1 571.37,120.14 572.92,119.19 574.47,118.23 576,117.26" fill="none" stroke="#000" stroke-width="0.5"/>
<polyline points="477.7,156.55 479.33,155.62 481.2,154.77 483.46,154.06 485.92,153.41 488.58,152.83 491.43,152.32 494.43,151.86 497.44,151.4 500.52,150.96 503.62,150.54 506.69,150.1 509.71,149.64 512.72,149.19 515.72,148.72 518.71,148.26 521.69,147.79 524.66,147.31 527.6,146.83 530.56,146.36 533.54,145.89 536.42,145.38 539.09,144.81 541.64,144.19 544.12,143.55 546.53,142.89 548.88,142.21 551.18,141.5 553.41,140.78 555.6,140.04 557.74,139.28 559.86,138.52 561.96,137.75 564.03,136.97 566.07,136.18 568.07,135.38 570.02,134.56 571.93,133.72 573.79,132.87 575.58,132 577.32,131.1 579.01,130.19 580.68,129.27 582.32,128.35 583.96,127.42 585.61,126.5 587.25,125.57 588.88,124.64 590.5,123.71 592.12,122.77" fill="none" stroke="#111" stroke-width="0.45"/>
<polygon points="469.5,153.75 535,103.25 633.75,137 568.25,187.5" fill="none" stroke="#333" stroke-width="0.45"/>
<polygon points="469.5,78.75 470.84,77.72 472.17,76.69 473.51,75.66 474.85,74.63 476.18,73.6 477.52,72.57 478.86,71.54 480.19,70.51 481.53,69.47 482.87,68.44 484.2,67.41 485.54,66.38 486.88,65.35 488.21,64.32 489.55,63.29 490.89,62.26 492.22,61.23 493.56,60.2 494.9,59.17 496.23,58.14 497.57,57.11 498.91,56.08 500.24,55.05 501.58,54.02 502.92,52.98 504.26,51.95 505.59,50.92 506.93,49.89 508.27,48.86 509.6,47.83 510.94,46.8 512.28,45.77 513.61,44.74 514.95,43.71 516.29,42.68 517.62,41.65 518.96,40.62 520.3,39.59 521.63,38.56 522.97,37.53 524.31,36.49 525.64,35.46 526.98,34.43 528.32,33.4 529.65,32.37 530.99,31.34 532.33,30.31 533.66,29.28 535,28.25 548.17,32.75 546.53,33.68 544.92,34.61 543.32,35.56 541.73,36.5 540.15,37.45 538.58,38.4 537,39.35 535.43,40.3 533.85,41.24 532.26,42.19 530.65,43.13 529.04,44.06 527.41,44.99 525.77,45.92 524.12,46.84 522.46,47.77 520.8,48.68 519.13,49.6 517.45,50.52 515.77,51.43 514.08,52.34 512.38,53.24 510.67,54.15 508.96,55.05 507.24,55.95 505.51,56.85 503.79,57.75 502.07,58.65 500.36,59.55 498.65,60.45 496.95,61.36 495.26,62.27 493.57,63.18 491.89,64.09 490.17,64.99 488.45,65.89 486.77,66.8 485.11,67.72 483.44,68.64 481.77,69.56 480.22,70.51 478.86,71.54 477.52,72.57 476.18,73.6 474.85,74.63 473.51,75.66 472.17,76.69 470.84,77.72 469.5,78.75" fill="#ffffff" stroke="#ffffff" stroke-width="0.3"/>
<polygon points="469.5,78.75 470.84,77.72 472.17,76.69 473.51,75.66 474.85,74.63 476.18,73.6 477.52,72.57 478.86,71.54 480.22,70.51 481.77,69.56 483.44,68.64 485.11,67.72 486.77,66.8 488.45,65.89 490.17,64.99 491.89,64.09 493.57,63.18 495.26,62.27 496.95,61.36 498.65,60.45 500.36,59.55 502.07,58.65 503.79,57.75 505.51,56.85 507.24,55.95 508.96,55.05 510.67,54.15 512.38,53.24 514.08,52.34 515.77,51.43 517.45,50.52 519.13,49.6 520.8,48.68 522.46,47.77 524.12,46.84 525.77,45.92 527.41,44.99 529.04,44.06 530.65,43.13 532.26,42.19 533.85,41.24 535.43,40.3 537,39.35 538.58,38.4 540.15,37.45 541.73,36.5 543.32,35.56 544.92,34.61 546.53,33.68 548.17,32.75 552.39,34.19 550.75,35.12 549.15,36.06 547.57,37.01 546,37.96 544.44,38.91 542.89,39.87 541.34,40.83 539.78,41.78 538.22,42.74 536.65,43.69 535.06,44.63 533.46,45.57 531.84,46.51 530.21,47.44 528.57,48.36 526.92,49.29 525.25,50.2 523.57,51.12 521.89,52.03 520.19,52.94 518.46,53.83 516.71,54.72 514.94,55.61 513.16,56.49 511.38,57.36 509.59,58.24 507.8,59.12 506.02,59.99 504.25,60.88 502.51,61.77 500.78,62.67 499.11,63.58 497.46,64.5 495.75,65.41 493.74,66.21 491.55,66.95 489.37,67.69 487.31,68.47 485.39,69.31 483.54,70.16 481.8,71.05 480.18,71.99 478.6,72.94 477.05,73.89 475.54,74.86 474.06,75.85 472.61,76.84 471.2,77.84 469.81,78.86" fill="#e6f1fa" stroke="#e6f1fa" stroke-width="0.3"/>
<polygon points="469.81,78.86 471.2,77.84 472.61,76.84 474.06,75.85 475.54,74.86 477.05,73.89 478.6,72.94 480.18,71.99 481.8,71.05 483.54,70.16 485.39,69.31 487.31,68.47 489.37,67.69 491.55,66.95 493.74,66.21 495.75,65.41 497.46,64.5 499.11,63.58 500.78,62.67 502.51,61.77 504.25,60.88 506.02,59.99 507.8,59.12 509.59,58.24 511.38,57.36 513.16,56.49 514.94,55.61 516.71,54.72 518.46,53.83 520.19,52.94 521.89,52.03 523.57,51.12 525.25,50.2 526.92,49.29 528.57,48.36 530.21,47.44 531.84,46.51 533.46,45.57 535.06,44.63 536.65,43.69 538.22,42.74 539.78,41.78 541.34,40.83 542.89,39.87 544.44,38.91 546,37.96 547.57,37.01 549.15,36.06 550.75,35.12 552.39,34.19 555.54,35.27 553.9,36.2 552.29,37.13 550.69,38.07 549.1,39.02 547.51,39.96 545.93,40.91 544.36,41.86 542.78,42.81 541.2,43.76 539.61,44.7 538.02,45.64 536.41,46.58 534.8,47.52 533.19,48.46 531.58,49.39 529.96,50.33 528.33,51.26 526.68,52.18 525.02,53.1 523.34,54.01 521.63,54.92 519.89,55.81 518.14,56.7 516.36,57.58 514.58,58.46 512.78,59.33 510.98,60.2 509.18,61.08 507.39,61.95 505.6,62.83 503.82,63.71 502.07,64.59 500.31,65.48 498.52,66.36 496.38,67.11 494.07,67.81 491.8,68.52 489.62,69.26 487.55,70.05 485.56,70.85 483.65,71.68 481.79,72.54 479.98,73.41 478.22,74.29 476.51,75.19 474.84,76.11 473.21,77.04 471.63,77.99 470.08,78.95" fill="#d0e4f4" stroke="#d0e4f4" stroke-width="0.3"/>
<polygon points="470.08,78.95 471.63,77.99 473.21,77.04 474.84,76.11 476.51,75.19 478.22,74.29 479.98,73.41 481.79,72.54 483.65,71.68 485.56,70.85 487.55,70.05 489.62,69.26 491.8,68.52 494.07,67.81 496.38,67.11 498.52,66.36 500.31,65.48 502.07,64.59 503.82,63.71 505.6,62.83 507.39,61.95 509.18,61.08 510.98,60.2 512.78,59.33 514.58,58.46 516.36,57.58 518.14,56.7 519.89,55.81 521.63,54.92 523.34,54.01 525.02,53.1 526.68,52.18 528.33,51.26 529.96,50.33 531.58,49.39 533.19,48.46 534.8,47.52 536.41,46.58 538.02,45.64 539.61,44.7 541.2,43.76 542.78,42.81 544.36,41.86 545.93,40.91 547.51,39.96 549.1,39.02 550.69,38.07 552.29,37.13 553.9,36.2 555.54,35.27 557.99,36.11 556.36,37.04 554.77,37.98 553.21,38.94 551.67,39.9 550.13,40.86 548.61,41.83 547.08,42.79 545.56,43.76 544.03,44.72 542.49,45.68 540.94,46.64 539.36,47.59 537.77,48.53 536.17,49.47 534.56,50.41 532.93,51.34 531.29,52.27 529.64,53.19 527.97,54.11 526.28,55.02 524.57,55.92 522.83,56.82 521.07,57.7 519.29,58.58 517.5,59.46 515.7,60.33 513.89,61.2 512.08,62.07 510.27,62.93 508.46,63.81 506.67,64.68 504.9,65.56 503.12,66.44 501.29,67.3 498.96,67.99 496.37,68.6 493.82,69.21 491.43,69.88 489.29,70.64 487.28,71.44 485.31,72.25 483.32,73.06 481.36,73.88 479.43,74.71 477.53,75.55 475.67,76.4 473.86,77.26 472.08,78.15 470.36,79.04" fill="#b9d8ef" stroke="#b9d8ef" stroke-width="0.3"/>
<polygon points="470.36,79.04 472.08,78.15 473.86,77.26 475.67,76.4 477.53,75.55 479.43,74.71 481.36,73.88 483.32,73.06 485.31,72.25 487.28,71.44 489.29,70.64 491.43,69.88 493.82,69.21 496.37,68.6 498.96,67.99 501.29,67.3 503.12,66.44 504.9,65.56 506.67,64.68 508.46,63.81 510.27,62.93 512.08,62.07 513.89,61.2 515.7,60.33 517.5,59.46 519.29,58.58 521.07,57.7 522.83,56.82 524.57,55.92 526.28,55.02 527.97,54.11 529.64,53.19 531.29,52.27 532.93,51.34 534.56,50.41 536.17,49.47 537.77,48.53 539.36,47.59 540.94,46.64 542.49,45.68 544.03,44.72 545.56,43.76 547.08,42.79 548.61,41.83 550.13,40.86 551.67,39.9 553.21,38.94 554.77,37.98 556.36,37.04 557.99,36.11 560.74,37.05 559.11,37.98 557.52,38.92 555.96,39.88 554.42,40.84 552.88,41.8 551.36,42.77 549.84,43.73 548.31,44.7 546.78,45.66 545.24,46.63 543.69,47.58 542.11,48.53 540.52,49.47 538.92,50.41 537.3,51.35 535.68,52.28 534.04,53.21 532.38,54.13 530.72,55.05 529.04,55.96 527.34,56.87 525.62,57.77 523.89,58.67 522.14,59.56 520.38,60.44 518.61,61.32 516.83,62.2 515.03,63.08 513.23,63.95 511.43,64.82 509.61,65.69 507.8,66.55 505.96,67.41 504.05,68.25 501.58,68.89 498.8,69.43 496.06,69.98 493.51,70.59 491.2,71.29 489.05,72.04 486.92,72.81 484.77,73.56 482.63,74.31 480.52,75.08 478.45,75.86 476.42,76.65 474.43,77.46 472.5,78.29 470.63,79.14" fill="#a3cbe9" stroke="#a3cbe9" stroke-width="0.3"/>
<polygon points="470.63,79.14 472.5,78.29 474.43,77.46 476.42,76.65 478.45,75.86 480.52,75.08 482.63,74.31 484.77,73.56 486.92,72.81 489.05,72.04 491.2,71.29 493.51,70.59 496.06,69.98 498.8,69.43 501.58,68.89 504.05,68.25 505.96,67.41 507.8,66.55 509.61,65.69 511.43,64.82 513.23,63.95 515.03,63.08 516.83,62.2 518.61,61.32 520.38,60.44 522.14,59.56 523.89,58.67 525.62,57.77 527.34,56.87 529.04,55.96 530.72,55.05 532.38,54.13 534.04,53.21 535.68,52.28 537.3,51.35 538.92,50.41 540.52,49.47 542.11,48.53 543.69,47.58 545.24,46.63 546.78,45.66 548.31,44.7 549.84,43.73 551.36,42.77 552.88,41.8 554.42,40.84 555.96,39.88 557.52,38.92 559.11,37.98 560.74,37.05 563.79,38.09 562.15,39.02 560.56,39.96 559,40.91 557.45,41.87 555.91,42.83 554.37,43.8 552.84,44.76 551.31,45.72 549.77,46.68 548.22,47.64 546.65,48.59 545.06,49.54 543.45,50.47 541.82,51.41 540.18,52.33 538.53,53.25 536.86,54.17 535.18,55.08 533.48,55.99 531.78,56.9 530.05,57.8 528.31,58.69 526.55,59.58 524.78,60.46 523,61.34 521.21,62.21 519.4,63.08 517.6,63.95 515.79,64.82 513.98,65.69 512.17,66.56 510.38,67.43 508.58,68.31 506.7,69.15 504.17,69.77 501.3,70.28 498.44,70.79 495.69,71.34 493.11,71.94 490.65,72.59 488.24,73.25 485.85,73.93 483.52,74.62 481.25,75.33 479.04,76.06 476.9,76.82 474.83,77.6 472.83,78.4 470.91,79.23" fill="#8dbee4" stroke="#8dbee4" stroke-width="0.3"/>
<polygon points="470.91,79.23 472.83,78.4 474.83,77.6 476.9,76.82 479.04,76.06 481.25,75.33 483.52,74.62 485.85,73.93 488.24,73.25 490.65,72.59 493.11,71.94 495.69,71.34 498.44,70.79 501.3,70.28 504.17,69.77 506.7,69.15 508.58,68.31 510.38,67.43 512.17,66.56 513.98,65.69 515.79,64.82 517.6,63.95 519.4,63.08 521.21,62.21 523,61.34 524.78,60.46 526.55,59.58 528.31,58.69 530.05,57.8 531.78,56.9 533.48,55.99 535.18,55.08 536.86,54.17 538.53,53.25 540.18,52.33 541.82,51.41 543.45,50.47 545.06,49.54 546.65,48.59 548.22,47.64 549.77,46.68 551.31,45.72 552.84,44.76 554.37,43.8 555.91,42.83 557.45,41.87 559,40.91 560.56,39.96 562.15,39.02 563.79,38.09 566.74,39.1 565.1,40.02 563.5,40.97 561.91,41.91 560.34,42.86 558.78,43.81 557.22,44.77 555.67,45.73 554.11,46.68 552.55,47.64 550.98,48.59 549.4,49.53 547.81,50.48 546.21,51.42 544.61,52.36 543,53.3 541.38,54.23 539.74,55.16 538.09,56.08 536.42,57 534.73,57.91 533,58.8 531.24,59.69 529.45,60.57 527.64,61.44 525.82,62.3 523.98,63.16 522.13,64.01 520.27,64.87 518.42,65.72 516.56,66.57 514.72,67.43 512.9,68.3 511.07,69.16 509.17,70 506.52,70.58 503.51,71.04 500.48,71.49 497.54,71.97 494.71,72.49 491.94,73.03 489.27,73.61 486.69,74.21 484.2,74.85 481.81,75.52 479.5,76.22 477.29,76.95 475.17,77.71 473.13,78.5 471.19,79.33" fill="#77b1de" stroke="#77b1de" stroke-width="0.3"/>
<polygon points="471.19,79.33 473.13,78.5 475.17,77.71 477.29,76.95 479.5,76.22 481.81,75.52 484.2,74.85 486.69,74.21 489.27,73.61 491.94,73.03 494.71,72.49 497.54,71.97 500.48,71.49 503.51,71.04 506.52,70.58 509.17,70 511.07,69.16 512.9,68.3 514.72,67.43 516.56,66.57 518.42,65.72 520.27,64.87 522.13,64.01 523.98,63.16 525.82,62.3 527.64,61.44 529.45,60.57 531.24,59.69 533,58.8 534.73,57.91 536.42,57 538.09,56.08 539.74,55.16 541.38,54.23 543,53.3 544.61,52.36 546.21,51.42 547.81,50.48 549.4,49.53 550.98,48.59 552.55,47.64 554.11,46.68 555.67,45.73 557.22,44.77 558.78,43.81 560.34,42.86 561.91,41.91 563.5,40.97 565.1,40.02 566.74,39.1 570.96,40.54 569.32,41.47 567.71,42.4 566.1,43.34 564.51,44.29 562.92,45.23 561.33,46.17 559.75,47.12 558.16,48.06 556.57,49.01 554.97,49.95 553.36,50.89 551.74,51.82 550.11,52.75 548.49,53.68 546.86,54.62 545.22,55.54 543.56,56.46 541.89,57.38 540.18,58.28 538.44,59.17 536.65,60.05 534.8,60.91 532.91,61.75 531,62.58 529.05,63.4 527.09,64.22 525.13,65.04 523.16,65.85 521.21,66.67 519.27,67.5 517.37,68.33 515.51,69.19 513.67,70.05 511.73,70.87 508.95,71.41 505.73,71.8 502.49,72.18 499.31,72.58 496.22,73.01 493.16,73.45 490.22,73.93 487.47,74.48 484.84,75.07 482.33,75.7 479.94,76.37 477.66,77.08 475.49,77.82 473.42,78.6 471.46,79.42" fill="#60a5d9" stroke="#60a5d9" stroke-width="0.3"/>
<polygon points="471.46,79.42 473.42,78.6 475.49,77.82 477.66,77.08 479.94,76.37 482.33,75.7 484.84,75.07 487.47,74.48 490.22,73.93 493.16,73.45 496.22,73.01 499.31,72.58 502.49,72.18 505.73,71.8 508.95,71.41 511.73,70.87 513.67,70.05 515.51,69.19 517.37,68.33 519.27,67.5 521.21,66.67 523.16,65.85 525.13,65.04 527.09,64.22 529.05,63.4 531,62.58 532.91,61.75 534.8,60.91 536.65,60.05 538.44,59.17 540.18,58.28 541.89,57.38 543.56,56.46 545.22,55.54 546.86,54.62 548.49,53.68 550.11,52.75 551.74,51.82 553.36,50.89 554.97,49.95 556.57,49.01 558.16,48.06 559.75,47.12 561.33,46.17 562.92,45.23 564.51,44.29 566.1,43.34 567.71,42.4 569.32,41.47 570.96,40.54 576.76,42.52 575.22,43.48 573.67,44.44 572.12,45.4 570.56,46.35 569,47.31 567.43,48.26 565.85,49.21 564.27,50.15 562.68,51.1 561.07,52.04 559.46,52.97 557.83,53.9 556.18,54.83 554.53,55.75 552.85,56.66 551.16,57.57 549.44,58.47 547.7,59.36 545.92,60.24 544.11,61.11 542.25,61.96 540.34,62.8 538.39,63.62 536.4,64.43 534.37,65.22 532.31,66 530.21,66.78 528.08,67.54 525.93,68.29 523.75,69.03 521.55,69.76 519.25,70.47 516.85,71.13 514.4,71.78 511.2,72.18 507.76,72.49 504.36,72.82 501,73.15 497.62,73.49 494.2,73.8 490.97,74.19 488.06,74.68 485.32,75.23 482.72,75.83 480.26,76.48 477.94,77.17 475.76,77.91 473.7,78.7 471.77,79.53" fill="#4a98d3" stroke="#4a98d3" stroke-width="0.3"/>
<polygon points="471.77,79.53 473.7,78.7 475.76,77.91 477.94,77.17 480.26,76.48 482.72,75.83 485.32,75.23 488.06,74.68 490.97,74.19 494.2,73.8 497.62,73.49 501,73.15 504.36,72.82 507.76,72.49 511.2,72.18 514.4,71.78 516.85,71.13 519.25,70.47 521.55,69.76 523.75,69.03 525.93,68.29 528.08,67.54 530.21,66.78 532.31,66 534.37,65.22 536.4,64.43 538.39,63.62 540.34,62.8 542.25,61.96 544.11,61.11 545.92,60.24 547.7,59.36 549.44,58.47 551.16,57.57 552.85,56.66 554.53,55.75 556.18,54.83 557.83,53.9 559.46,52.97 561.07,52.04 562.68,51.1 564.27,50.15 565.85,49.21 567.43,48.26 569,47.31 570.56,46.35 572.12,45.4 573.67,44.44 575.22,43.48 576.76,42.52 593.17,48.13 591.55,49.06 589.92,50 588.28,50.92 586.64,51.85 584.98,52.77 583.34,53.7 581.69,54.62 580.02,55.54 578.32,56.44 576.58,57.33 574.77,58.21 572.91,59.06 570.99,59.89 569.02,60.7 567.01,61.5 564.96,62.29 562.88,63.06 560.76,63.83 558.63,64.59 556.47,65.34 554.27,66.07 552.02,66.79 549.71,67.49 547.33,68.17 544.9,68.82 542.4,69.45 539.83,70.06 537.13,70.63 534.22,71.12 531.22,71.58 528.23,72.05 525.26,72.52 522.26,72.98 519.24,73.44 516.23,73.89 513.2,74.35 510.16,74.8 507.1,75.24 504,75.67 500.87,76.08 497.76,76.51 494.71,76.95 491.69,77.41 488.8,77.91 486.12,78.48 483.64,79.12 481.36,79.83 479.48,80.68 477.85,81.6" fill="#1879bf" stroke="#1879bf" stroke-width="0.3"/>
<polygon points="477.85,81.6 479.48,80.68 481.36,79.83 483.64,79.12 486.12,78.48 488.8,77.91 491.69,77.41 494.71,76.95 497.76,76.51 500.87,76.08 504,75.67 507.1,75.24 510.16,74.8 513.2,74.35 516.23,73.89 519.24,73.44 522.26,72.98 525.26,72.52 528.23,72.05 531.22,71.58 534.22,71.12 537.13,70.63 539.83,70.06 542.4,69.45 544.9,68.82 547.33,68.17 549.71,67.49 552.02,66.79 554.27,66.07 556.47,65.34 558.63,64.59 560.76,63.83 562.88,63.06 564.96,62.29 567.01,61.5 569.02,60.7 570.99,59.89 572.91,59.06 574.77,58.21 576.58,57.33 578.32,56.44 580.02,55.54 581.69,54.62 583.34,53.7 584.98,52.77 586.64,51.85 588.28,50.92 589.92,50 591.55,49.06 593.17,48.13 633.75,62 632.41,63.03 631.08,64.06 629.74,65.09 628.4,66.12 627.07,67.15 625.73,68.18 624.39,69.21 623.06,70.24 621.72,71.28 620.38,72.31 619.05,73.34 617.71,74.37 616.37,75.4 615.04,76.43 613.7,77.46 612.36,78.49 611.03,79.52 609.69,80.55 608.35,81.58 607.02,82.61 605.68,83.64 604.34,84.67 603.01,85.7 601.67,86.73 600.33,87.77 598.99,88.8 597.66,89.83 596.32,90.86 594.98,91.89 593.65,92.92 592.31,93.95 590.97,94.98 589.64,96.01 588.3,97.04 586.96,98.07 585.63,99.1 584.29,100.13 582.95,101.16 581.62,102.19 580.28,103.22 578.94,104.26 577.61,105.29 576.27,106.32 574.93,107.35 573.6,108.38 572.26,109.41 570.92,110.44 569.59,111.47 568.25,112.5" fill="#ff6a26" stroke="#ff6a26" stroke-width="0.3"/>
<polyline points="481.77,69.56 483.44,68.64 485.11,67.72 486.77,66.8 488.45,65.89 490.17,64.99 491.89,64.09 493.57,63.18 495.26,62.27 496.95,61.36 498.65,60.45 500.36,59.55 502.07,58.65 503.79,57.75 505.51,56.85 507.24,55.95 508.96,55.05 510.67,54.15 512.38,53.24 514.08,52.34 515.77,51.43 517.45,50.52 519.13,49.6 520.8,48.68 522.46,47.77 524.12,46.84 525.77,45.92 527.41,44.99 529.04,44.06 530.65,43.13 532.26,42.19 533.85,41.24 535.43,40.3 537,39.35 538.58,38.4 540.15,37.45 541.73,36.5 543.32,35.56 544.92,34.61 546.53,33.68 548.17,32.75" fill="none" stroke="#000" stroke-width="0.5"/>
<polyline points="469.81,78.86 471.2,77.84 472.61,76.84 474.06,75.85 475.54,74.86 477.05,73.89 478.6,72.94 480.18,71.99 481.8,71.05 483.54,70.16 485.39,69.31 487.31,68.47 489.37,67.69 491.55,66.95 493.74,66.21 495.75,65.41 497.46,64.5 499.11,63.58 500.78,62.67 502.51,61.77 504.25,60.88 506.02,59.99 507.8,59.12 509.59,58.24 511.38,57.36 513.16,56.49 514.94,55.61 516.71,54.72 518.46,53.83 520.19,52.94 521.89,52.03 523.57,51.12 525.25,50.2 526.92,49.29 528.57,48.36 530.21,47.44 531.84,46.51 533.46,45.57 535.06,44.63 536.65,43.69 538.22,42.74 539.78,41.78 541.34,40.83 542.89,39.87 544.44,38.91 546,37.96 547.57,37.01 549.15,36.06 550.75,35.12 552.39,34.19" fill="none" stroke="#000" stroke-width="0.5"/>
<polyline points="470.08,78.95 471.63,77.99 473.21,77.04 474.84,76.11 476.51,75.19 478.22,74.29 479.98,73.41 481.79,72.54 483.65,71.68 485.56,70.85 487.55,70.05 489.62,69.26 491.8,68.52 494.07,67.81 496.38,67.11 498.52,66.36 500.31,65.48 502.07,64.59 503.82,63.71 505.6,62.83 507.39,61.95 509.18,61.08 510.98,60.2 512.78,59.33 514.58,58.46 516.36,57.58 518.14,56.7 519.89,55.81 521.63,54.92 523.34,54.01 525.02,53.1 526.68,52.18 528.33,51.26 529.96,50.33 531.58,49.39 533.19,48.46 534.8,47.52 536.41,46.58 538.02,45.64 539.61,44.7 541.2,43.76 542.78,42.81 544.36,41.86 545.93,40.91 547.51,39.96 549.1,39.02 550.69,38.07 552.29,37.13 553.9,36.2 555.54,35.27" fill="none" stroke="#000" stroke-width="0.5"/>
<polyline points="470.36,79.04 472.08,78.15 473.86,77.26 475.67,76.4 477.53,75.55 479.43,74.71 481.36,73.88 483.32,73.06 485.31,72.25 487.28,71.44 489.29,70.64 491.43,69.88 493.82,69.21 496.37,68.6 498.96,67.99 501.29,67.3 503.12,66.44 504.9,65.56 506.67,64.68 508.46,63.81 510.27,62.93 512.08,62.07 513.89,61.2 515.7,60.33 517.5,59.46 519.29,58.58 521.07,57.7 522.83,56.82 524.57,55.92 526.28,55.02 527.97,54.11 529.64,53.19 531.29,52.27 532.93,51.34 534.56,50.41 536.17,49.47 537.77,48.53 539.36,47.59 540.94,46.64 542.49,45.68 544.03,44.72 545.56,43.76 547.08,42.79 548.61,41.83 550.13,40.86 551.67,39.9 553.21,38.94 554.77,37.98 556.36,37.04 557.99,36.11" fill="none" stroke="#000" stroke-width="0.5"/>
<polyline points="470.63,79.14 472.5,78.29 474.43,77.46 476.42,76.65 478.45,75.86 480.52,75.08 482.63,74.31 484.77,73.56 486.92,72.81 489.05,72.04 491.2,71.29 493.51,70.59 496.06,69.98 498.8,69.43 501.58,68.89 504.05,68.25 505.96,67.41 507.8,66.55 509.61,65.69 511.43,64.82 513.23,63.95 515.03,63.08 516.83,62.2 518.61,61.32 520.38,60.44 522.14,59.56 523.89,58.67 525.62,57.77 527.34,56.87 529.04,55.96 530.72,55.05 532.38,54.13 534.04,53.21 535.68,52.28 537.3,51.35 538.92,50.41 540.52,49.47 542.11,48.53 543.69,47.58 545.24,46.63 546.78,45.66 548.31,44.7 549.84,43.73 551.36,42.77 552.88,41.8 554.42,40.84 555.96,39.88 557.52,38.92 559.11,37.98 560.74,37.05" fill="none" stroke="#000" stroke-width="0.5"/>
<polyline points="470.91,79.23 472.83,78.4 474.83,77.6 476.9,76.82 479.04,76.06 481.25,75.33 483.52,74.62 485.85,73.93 488.24,73.25 490.65,72.59 493.11,71.94 495.69,71.34 498.44,70.79 501.3,70.28 504.17,69.77 506.7,69.15 508.58,68.31 510.38,67.43 512.17,66.56 513.98,65.69 515.79,64.82 517.6,63.95 519.4,63.08 521.21,62.21 523,61.34 524.78,60.46 526.55,59.58 528.31,58.69 530.05,57.8 531.78,56.9 533.48,55.99 535.18,55.08 536.86,54.17 538.53,53.25 540.18,52.33 541.82,51.41 543.45,50.47 545.06,49.54 546.65,48.59 548.22,47.64 549.77,46.68 551.31,45.72 552.84,44.76 554.37,43.8 555.91,42.83 557.45,41.87 559,40.91 560.56,39.96 562.15,39.02 563.79,38.09" fill="none" stroke="#000" stroke-width="0.5"/>
<polyline points="471.19,79.33 473.13,78.5 475.17,77.71 477.29,76.95 479.5,76.22 481.81,75.52 484.2,74.85 486.69,74.21 489.27,73.61 491.94,73.03 494.71,72.49 497.54,71.97 500.48,71.49 503.51,71.04 506.52,70.58 509.17,70 511.07,69.16 512.9,68.3 514.72,67.43 516.56,66.57 518.42,65.72 520.27,64.87 522.13,64.01 523.98,63.16 525.82,62.3 527.64,61.44 529.45,60.57 531.24,59.69 533,58.8 534.73,57.91 536.42,57 538.09,56.08 539.74,55.16 541.38,54.23 543,53.3 544.61,52.36 546.21,51.42 547.81,50.48 549.4,49.53 550.98,48.59 552.55,47.64 554.11,46.68 555.67,45.73 557.22,44.77 558.78,43.81 560.34,42.86 561.91,41.91 563.5,40.97 565.1,40.02 566.74,39.1" fill="none" stroke="#000" stroke-width="0.5"/>
<polyline points="471.46,79.42 473.42,78.6 475.49,77.82 477.66,77.08 479.94,76.37 482.33,75.7 484.84,75.07 487.47,74.48 490.22,73.93 493.16,73.45 496.22,73.01 499.31,72.58 502.49,72.18 505.73,71.8 508.95,71.41 511.73,70.87 513.67,70.05 515.51,69.19 517.37,68.33 519.27,67.5 521.21,66.67 523.16,65.85 525.13,65.04 527.09,64.22 529.05,63.4 531,62.58 532.91,61.75 534.8,60.91 536.65,60.05 538.44,59.17 540.18,58.28 541.89,57.38 543.56,56.46 545.22,55.54 546.86,54.62 548.49,53.68 550.11,52.75 551.74,51.82 553.36,50.89 554.97,49.95 556.57,49.01 558.16,48.06 559.75,47.12 561.33,46.17 562.92,45.23 564.51,44.29 566.1,43.34 567.71,42.4 569.32,41.47 570.96,40.54" fill="none" stroke="#000" stroke-width="0.5"/>
<polyline points="471.77,79.53 473.7,78.7 475.76,77.91 477.94,77.17 480.26,76.48 482.72,75.83 485.32,75.23 488.06,74.68 490.97,74.19 494.2,73.8 497.62,73.49 501,73.15 504.36,72.82 507.76,72.49 511.2,72.18 514.4,71.78 516.85,71.13 519.25,70.47 521.55,69.76 523.75,69.03 525.93,68.29 528.08,67.54 530.21,66.78 532.31,66 534.37,65.22 536.4,64.43 538.39,63.62 540.34,62.8 542.25,61.96 544.11,61.11 545.92,60.24 547.7,59.36 549.44,58.47 551.16,57.57 552.85,56.66 554.53,55.75 556.18,54.83 557.83,53.9 559.46,52.97 561.07,52.04 562.68,51.1 564.27,50.15 565.85,49.21 567.43,48.26 569,47.31 570.56,46.35 572.12,45.4 573.67,44.44 575.22,43.48 576.76,42.52" fill="none" stroke="#000" stroke-width="0.5"/>
<polyline points="477.85,81.6 479.48,80.68 481.36,79.83 483.64,79.12 486.12,78.48 488.8,77.91 491.69,77.41 494.71,76.95 497.76,76.51 500.87,76.08 504,75.67 507.1,75.24 510.16,74.8 513.2,74.35 516.23,73.89 519.24,73.44 522.26,72.98 525.26,72.52 528.23,72.05 531.22,71.58 534.22,71.12 537.13,70.63 539.83,70.06 542.4,69.45 544.9,68.82 547.33,68.17 549.71,67.49 552.02,66.79 554.27,66.07 556.47,65.34 558.63,64.59 560.76,63.83 562.88,63.06 564.96,62.29 567.01,61.5 569.02,60.7 570.99,59.89 572.91,59.06 574.77,58.21 576.58,57.33 578.32,56.44 580.02,55.54 581.69,54.62 583.34,53.7 584.98,52.77 586.64,51.85 588.28,50.92 589.92,50 591.55,49.06 593.17,48.13" fill="none" stroke="#111" stroke-width="0.45"/>
<polygon points="469.5,78.75 535,28.25 633.75,62 568.25,112.5" fill="none" stroke="#333" stroke-width="0.45"/>
<line x1="576.7" y1="42.5" x2="576.7" y2="268.5" stroke="#ee1111" stroke-width="1.0"/>
<line x1="463.6" y1="76.85" x2="469.5" y2="78.75" stroke="#444" stroke-width="0.5"/>
<text x="461.2" y="79.15" font-size="8.0" text-anchor="end" fill="#262626">1</text>
<line x1="463.6" y1="151.85" x2="469.5" y2="153.75" stroke="#444" stroke-width="0.5"/>
<text x="461.2" y="154.15" font-size="8.0" text-anchor="end" fill="#262626">0.833</text>
<line x1="463.6" y1="226.85" x2="469.5" y2="228.75" stroke="#444" stroke-width="0.5"/>
<text x="461.2" y="229.15" font-size="8.0" text-anchor="end" fill="#262626">0.667</text>
<line x1="463.6" y1="301.85" x2="469.5" y2="303.75" stroke="#444" stroke-width="0.5"/>
<text x="461.2" y="304.15" font-size="8.0" text-anchor="end" fill="#262626">0.5</text>
<text x="438.4" y="191.6" font-size="7.47" text-anchor="middle" fill="#262626" transform="rotate(-90 438.4 191.6)">Degree of Lethality (L)</text>
<line x1="469.5" y1="303.75" x2="466.9" y2="305.75" stroke="#444" stroke-width="0.5"/>
<text x="460" y="316" font-size="7.3" text-anchor="middle" fill="#262626">0</text>
<line x1="494.19" y1="312.19" x2="491.59" y2="314.19" stroke="#444" stroke-width="0.5"/>
<text x="479" y="325.5" font-size="7.3" text-anchor="middle" fill="#262626">0.25</text>
<line x1="518.88" y1="320.62" x2="516.27" y2="322.62" stroke="#444" stroke-width="0.5"/>
<text x="505.8" y="333.5" font-size="7.3" text-anchor="middle" fill="#262626">0.5</text>
<line x1="543.56" y1="329.06" x2="540.96" y2="331.06" stroke="#444" stroke-width="0.5"/>
<text x="528" y="341.5" font-size="7.3" text-anchor="middle" fill="#262626">0.75</text>
<line x1="568.25" y1="337.5" x2="565.65" y2="339.5" stroke="#444" stroke-width="0.5"/>
<text x="559" y="350" font-size="7.3" text-anchor="middle" fill="#262626">1</text>
<line x1="568.25" y1="337.5" x2="570.85" y2="338.8" stroke="#444" stroke-width="0.5"/>
<text x="577" y="348" font-size="7.3" text-anchor="middle" fill="#262626">0</text>
<line x1="584.62" y1="324.88" x2="587.23" y2="326.18" stroke="#444" stroke-width="0.5"/>
<text x="598.5" y="335.5" font-size="7.3" text-anchor="middle" fill="#262626">0.25</text>
<line x1="601" y1="312.25" x2="603.6" y2="313.55" stroke="#444" stroke-width="0.5"/>
<text x="613" y="322.5" font-size="7.3" text-anchor="middle" fill="#262626">0.5</text>
<line x1="617.38" y1="299.62" x2="619.98" y2="300.93" stroke="#444" stroke-width="0.5"/>
<text x="631.3" y="310.5" font-size="7.3" text-anchor="middle" fill="#262626">0.75</text>
<line x1="633.75" y1="287" x2="636.35" y2="288.3" stroke="#444" stroke-width="0.5"/>
<text x="642.5" y="297.5" font-size="7.3" text-anchor="middle" fill="#262626">1</text>
<text x="464.3" y="359.5" font-size="7.74" text-anchor="start" fill="#262626">Fitness Cost (1-&#949;<tspan font-size="5.57" dy="3.25">A</tspan><tspan dy="-3.25"> = 1-&#949;</tspan><tspan font-size="5.57" dy="3.25">B</tspan><tspan dy="-3.25">=1-&#949;</tspan><tspan font-size="5.57" dy="3.25">C</tspan><tspan dy="-3.25">)</tspan></text>
<text x="567" y="368.2" font-size="7.48" text-anchor="start" fill="#262626">Rate of Homing (&#934;)</text>
<line x1="534.4" y1="13.9" x2="548.2" y2="30.8" stroke="#000" stroke-width="0.9"/>
<text x="537.8" y="12.6" font-size="9.4" text-anchor="start" fill="#000" transform="rotate(-90 537.8 12.6)">0.1</text>
<line x1="548.2" y1="13.9" x2="555.6" y2="34" stroke="#000" stroke-width="0.9"/>
<text x="552.1" y="12.6" font-size="9.4" text-anchor="start" fill="#000" transform="rotate(-90 552.1 12.6)">0.3</text>
<line x1="564" y1="13.9" x2="560.5" y2="35.5" stroke="#000" stroke-width="0.9"/>
<text x="566.8" y="12.6" font-size="9.4" text-anchor="start" fill="#000" transform="rotate(-90 566.8 12.6)">0.5</text>
<line x1="578.7" y1="14.2" x2="567.6" y2="37.9" stroke="#000" stroke-width="0.9"/>
<text x="581.8" y="12.6" font-size="9.4" text-anchor="start" fill="#000" transform="rotate(-90 581.8 12.6)">0.7</text>
<line x1="592.9" y1="14.2" x2="577.6" y2="39.5" stroke="#000" stroke-width="0.9"/>
<text x="596.8" y="12.6" font-size="9.4" text-anchor="start" fill="#000" transform="rotate(-90 596.8 12.6)">0.9</text>
<defs><linearGradient id="cbg2" x1="0" y1="1" x2="0" y2="0"><stop offset="0" stop-color="#f7fbff"/><stop offset="0.25" stop-color="#cfe2f3"/><stop offset="0.5" stop-color="#8dbde2"/><stop offset="0.7" stop-color="#4f9bd3"/><stop offset="0.85" stop-color="#2680c4"/><stop offset="1" stop-color="#1570b7"/></linearGradient></defs>
<rect x="647.2" y="28.2" width="7.5" height="310" fill="url(#cbg2)"/>
<rect x="647.2" y="28.2" width="7.5" height="4.7" fill="#ff6a26"/>
<rect x="647.2" y="28.2" width="7.5" height="310" fill="none" stroke="#8c8c8c" stroke-width="0.6"/>
<line x1="653.2" y1="338.2" x2="654.7" y2="338.2" stroke="#555" stroke-width="0.6"/>
<text x="656.6" y="340.97" font-size="7.5" text-anchor="start" fill="#262626">0</text>
<line x1="653.2" y1="307.23" x2="654.7" y2="307.23" stroke="#555" stroke-width="0.6"/>
<text x="656.6" y="310" font-size="7.5" text-anchor="start" fill="#262626">0.1</text>
<line x1="653.2" y1="276.26" x2="654.7" y2="276.26" stroke="#555" stroke-width="0.6"/>
<text x="656.6" y="279.03" font-size="7.5" text-anchor="start" fill="#262626">0.2</text>
<line x1="653.2" y1="245.29" x2="654.7" y2="245.29" stroke="#555" stroke-width="0.6"/>
<text x="656.6" y="248.06" font-size="7.5" text-anchor="start" fill="#262626">0.3</text>
<line x1="653.2" y1="214.32" x2="654.7" y2="214.32" stroke="#555" stroke-width="0.6"/>
<text x="656.6" y="217.09" font-size="7.5" text-anchor="start" fill="#262626">0.4</text>
<line x1="653.2" y1="183.35" x2="654.7" y2="183.35" stroke="#555" stroke-width="0.6"/>
<text x="656.6" y="186.12" font-size="7.5" text-anchor="start" fill="#262626">0.5</text>
<line x1="653.2" y1="152.38" x2="654.7" y2="152.38" stroke="#555" stroke-width="0.6"/>
<text x="656.6" y="155.16" font-size="7.5" text-anchor="start" fill="#262626">0.6</text>
<line x1="653.2" y1="121.41" x2="654.7" y2="121.41" stroke="#555" stroke-width="0.6"/>
<text x="656.6" y="124.19" font-size="7.5" text-anchor="start" fill="#262626">0.7</text>
<line x1="653.2" y1="90.44" x2="654.7" y2="90.44" stroke="#555" stroke-width="0.6"/>
<text x="656.6" y="93.22" font-size="7.5" text-anchor="start" fill="#262626">0.8</text>
<line x1="653.2" y1="59.47" x2="654.7" y2="59.47" stroke="#555" stroke-width="0.6"/>
<text x="656.6" y="62.24" font-size="7.5" text-anchor="start" fill="#262626">0.9</text>
<line x1="653.2" y1="28.5" x2="654.7" y2="28.5" stroke="#555" stroke-width="0.6"/>
<text x="657.4" y="31.27" font-size="7.5" text-anchor="start" fill="#000" font-weight="bold">1</text>
<text x="676.2" y="189.75" font-size="7.05" text-anchor="middle" fill="#000" transform="rotate(-90 676.2 189.75)">Threshold Introduction Frequency</text>
</svg></body></html>
